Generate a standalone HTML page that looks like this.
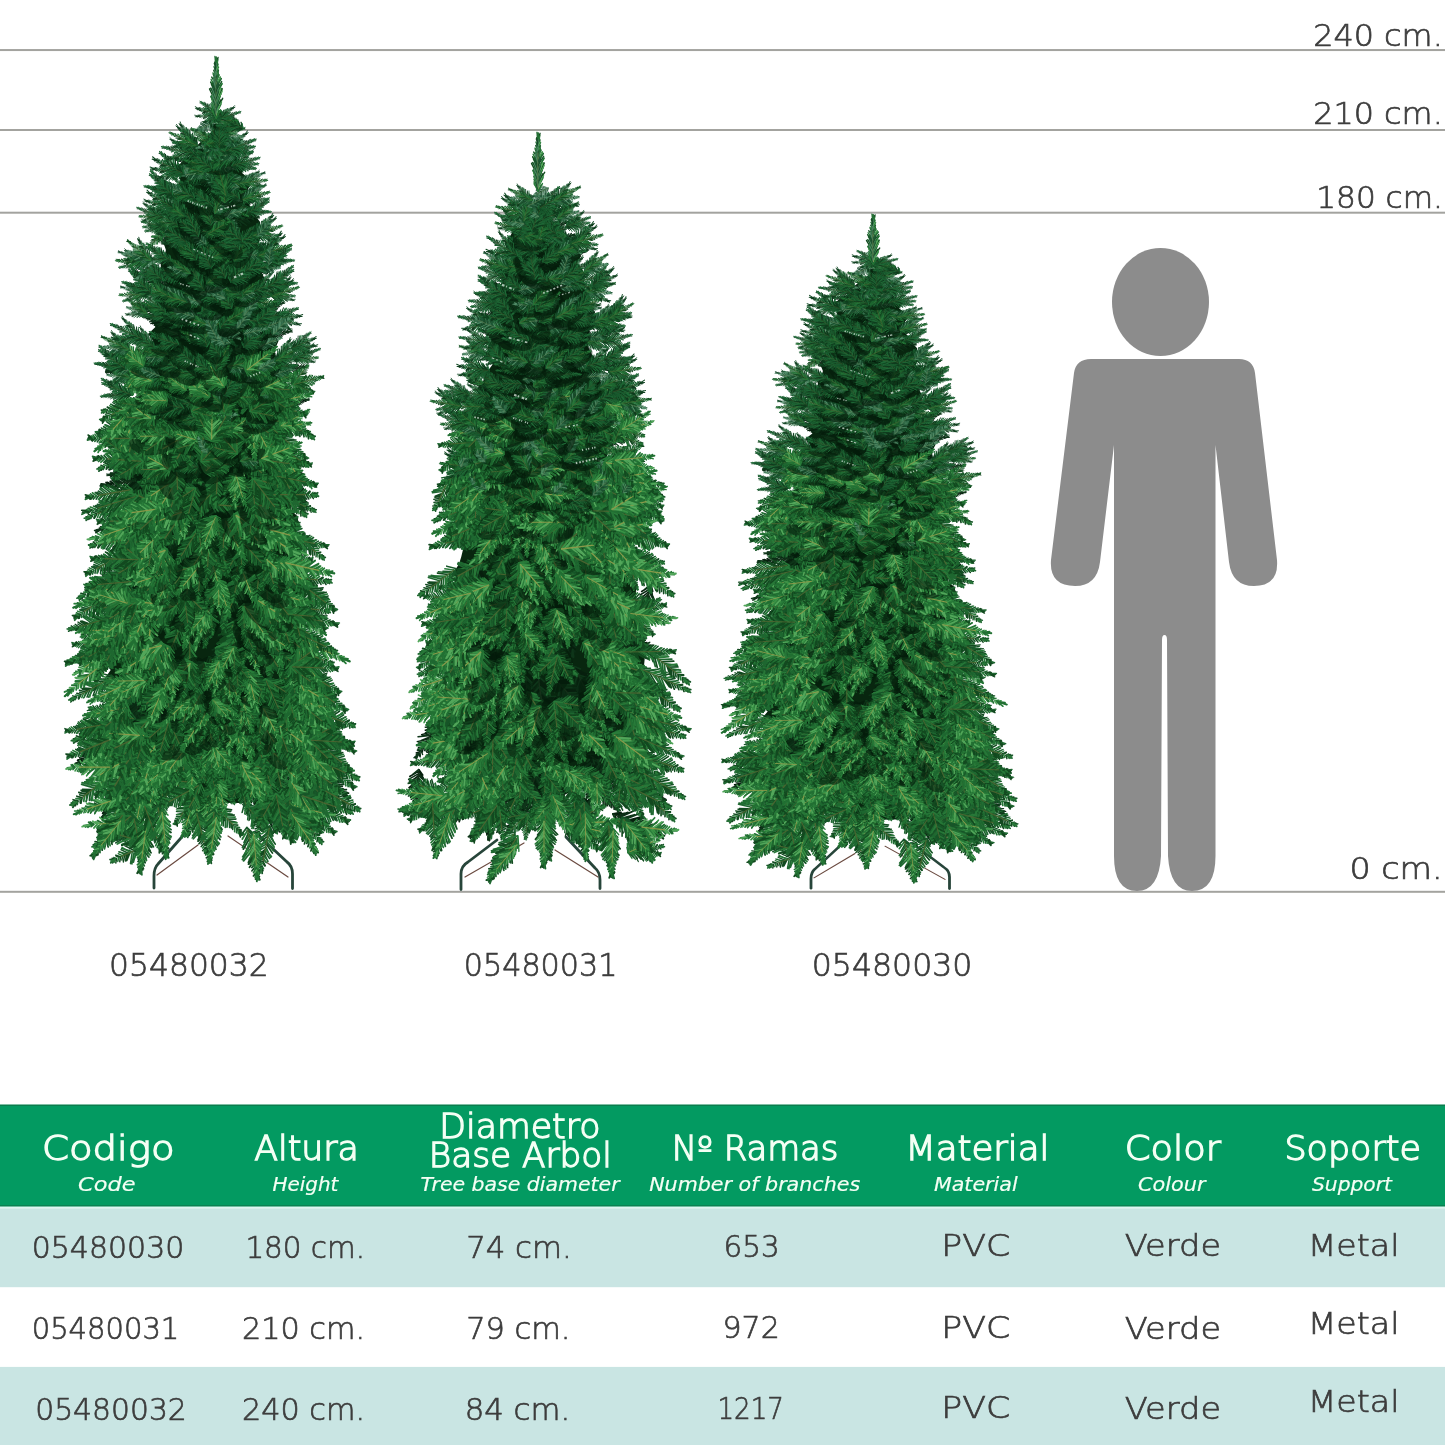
<!DOCTYPE html>
<html lang="es"><head><meta charset="utf-8"><title>Arbol de Navidad - medidas</title>
<style>html,body{margin:0;padding:0;background:#fff}body{width:1445px;height:1445px;overflow:hidden}svg{display:block}text{font-family:"DejaVu Sans","Liberation Sans",sans-serif;font-weight:200}.d{fill:#3d3d3d;stroke:#3d3d3d;stroke-width:.7px}.w{fill:#f4fff4;stroke:#f4fff4;stroke-width:1.3px}.i{font-style:italic;font-weight:400;stroke-width:.2px}</style></head><body>
<svg width="1445" height="1445" viewBox="0 0 1445 1445">
<rect width="1445" height="1445" fill="#fff"/>
<rect x="0" y="49.05" width="1445" height="2" fill="#a3a39f"/>
<rect x="0" y="129.00" width="1445" height="2" fill="#a3a39f"/>
<rect x="0" y="211.70" width="1445" height="2" fill="#a3a39f"/>
<rect x="0" y="890.80" width="1445" height="2" fill="#a3a39f"/>
<defs>
<g id="fD0" fill="none" stroke-width="1.25" stroke-linecap="round"><path stroke="#071f0e" d="M0.0 0l6.4 3.8M2.0 0l6.5 -3.9M2.0 0l6.2 3.8M3.7 0l7.2 -5.6M6.1 0l6.5 -5.5M10.2 0l6.8 4.1M14.1 0l8.4 -5.5M16.3 0l8.2 -5.8M30.8 0l2.4 2.1M32.6 0l2.3 -1.5M32.6 0l2.9 1.7M34.5 0l1.9 1.7"/><path stroke="#0b2c15" d="M6.1 0l8.6 5.1M12.2 0l7.9 -6.5M12.2 0l7.0 6.0M14.1 0l7.0 5.9M16.3 0l5.8 4.8M18.1 0l7.0 4.3M20.1 0l5.8 -4.3M20.1 0l5.3 3.2M24.4 0l5.0 3.6M26.2 0l3.2 -2.0M26.2 0l3.4 2.2M28.5 0l2.5 -2.0M28.5 0l3.2 2.7M30.8 0l2.6 -1.9M34.5 0l2.3 -1.3M35.0 0l5.0 1.2M35.0 0l5.4 -0.4"/><path stroke="#0e3519" d="M0.0 0l4.8 -3.4M3.7 0l5.8 6.2M8.1 0l7.3 -6.0M8.1 0l5.8 5.7M10.2 0l6.7 -4.4M18.1 0l5.2 -4.2M22.1 0l4.0 -3.6M22.1 0l5.3 3.8M24.4 0l4.2 -2.9M35.0 0l5.9 0.1M35.0 0l5.3 1.0"/><path stroke="#16301a" stroke-width="0.8" d="M2 0H29"/></g>
<g id="fD1" fill="none" stroke-width="1.25" stroke-linecap="round"><path stroke="#071f0e" d="M0.0 0l4.9 -2.9M1.7 0l5.6 -3.2M1.7 0l5.3 5.7M5.8 0l6.4 5.1M9.6 0l8.0 5.7M11.7 0l7.3 -5.1M14.0 0l6.6 -4.8M20.7 0l5.1 -3.8M24.5 0l3.8 3.6M26.6 0l3.3 2.5M28.8 0l2.6 -1.7M32.4 0l2.9 1.8M34.4 0l2.1 -2.2"/><path stroke="#0b2c15" d="M4.0 0l5.4 -4.7M4.0 0l5.8 6.3M5.8 0l7.3 -7.3M16.3 0l6.1 3.6M18.3 0l6.9 -4.5M18.3 0l7.2 5.7M20.7 0l5.2 4.1M22.8 0l4.7 -4.9M35.0 0l4.8 0.3"/><path stroke="#0e3519" d="M0.0 0l4.6 3.5M7.6 0l6.7 -4.9M7.6 0l6.4 4.1M9.6 0l7.9 -7.2M11.7 0l6.8 5.0M14.0 0l7.2 7.1M16.3 0l7.1 -4.7M22.8 0l3.9 4.1M24.5 0l4.5 -4.0M26.6 0l2.7 -2.4M28.8 0l2.7 2.3M30.6 0l2.8 -2.8M30.6 0l2.0 2.2M32.4 0l3.1 -1.8M34.4 0l2.1 1.3M35.0 0l4.0 1.1M35.0 0l5.3 -0.6M35.0 0l5.4 1.3"/><path stroke="#16301a" stroke-width="0.8" d="M2 0H29"/></g>
<g id="fM0" fill="none" stroke-width="1.25" stroke-linecap="round"><path stroke="#175528" d="M0.0 0l5.0 -3.1M0.0 0l5.1 5.3M2.2 0l5.6 -3.6M4.5 0l5.9 3.9M6.5 0l7.5 -6.3M21.5 0l5.0 -4.2M27.4 0l2.4 2.3M31.4 0l1.9 -1.9M35.0 0l4.9 -1.2M35.0 0l3.8 1.5"/><path stroke="#1e6730" d="M4.5 0l7.3 -4.5M6.5 0l7.3 5.7M13.0 0l6.7 -6.0M13.0 0l7.6 6.8M15.4 0l7.2 7.4M17.6 0l7.9 -4.9M17.6 0l6.1 6.8M23.5 0l5.7 -3.5M25.4 0l2.9 -3.1M33.8 0l2.0 -1.4M35.0 0l5.6 1.0"/><path stroke="#12491f" d="M8.7 0l6.5 5.3M15.4 0l6.3 -5.6M19.8 0l5.7 3.8M21.5 0l5.3 4.0M23.5 0l3.3 3.6M25.4 0l3.8 3.8M29.7 0l3.3 -2.2M29.7 0l2.5 2.7M33.8 0l2.3 2.4M35.5 0l2.0 -1.3"/><path stroke="#277838" d="M2.2 0l5.5 4.6M8.7 0l7.4 -5.8M11.1 0l5.8 -6.0M11.1 0l6.8 4.4M19.8 0l4.8 -5.3M27.4 0l3.0 -2.5M31.4 0l2.4 1.9M35.5 0l1.8 1.5M35.0 0l4.7 0.1"/><path stroke="#4a6430" stroke-width="0.8" d="M2 0H29"/></g>
<g id="fM1" fill="none" stroke-width="1.25" stroke-linecap="round"><path stroke="#175528" d="M12.3 0l7.3 -4.8M14.2 0l5.6 -5.4M18.1 0l6.1 5.7M22.7 0l4.5 -4.3M24.5 0l4.7 -2.8M24.5 0l4.1 3.1M26.6 0l3.4 2.4M28.9 0l2.8 -2.3M28.9 0l2.6 2.5M35.0 0l5.4 -0.1"/><path stroke="#1e6730" d="M2.4 0l5.6 -4.0M2.4 0l6.9 5.1M4.4 0l5.7 -4.2M8.5 0l5.7 -5.2M12.3 0l7.3 5.8M15.9 0l6.4 -4.6M20.4 0l5.8 5.4M22.7 0l4.4 4.4M31.1 0l3.0 -2.0M33.4 0l2.2 2.1M35.0 0l5.9 -1.1"/><path stroke="#12491f" d="M4.4 0l7.5 4.4M6.4 0l6.6 6.7M8.5 0l7.6 4.9M10.4 0l8.9 -6.5M10.4 0l9.0 6.2M18.1 0l5.8 -5.4M33.4 0l2.9 -1.7M35.2 0l2.0 -1.3M35.0 0l4.8 0.7M35.0 0l5.2 2.1"/><path stroke="#277838" d="M0.0 0l6.3 -4.0M0.0 0l5.1 4.5M6.4 0l8.1 -4.8M14.2 0l7.9 5.0M15.9 0l7.0 6.2M20.4 0l5.2 -4.9M26.6 0l3.4 -3.0M31.1 0l2.8 2.6M35.2 0l1.7 1.5"/><path stroke="#4a6430" stroke-width="0.8" d="M2 0H29"/></g>
<g id="fL0" fill="none" stroke-width="1.25" stroke-linecap="round"><path stroke="#297c3a" d="M0.0 0l5.2 -5.7M8.8 0l8.5 6.1M12.6 0l7.6 -4.6M19.2 0l5.3 -5.6M25.2 0l4.4 2.8M31.0 0l2.1 -2.1M33.2 0l2.2 -1.5M35.0 0l6.9 -0.3M35.0 0l5.1 1.9"/><path stroke="#399346" d="M2.4 0l7.1 -5.3M4.8 0l6.3 6.5M6.8 0l6.0 -6.2M10.7 0l7.3 -5.3M21.4 0l6.6 4.0M27.0 0l2.8 -2.9M29.0 0l2.5 -2.1M29.0 0l2.5 1.8M35.0 0l2.1 -1.7"/><path stroke="#52a65a" d="M2.4 0l5.6 3.4M4.8 0l8.0 -5.1M10.7 0l7.9 7.3M12.6 0l7.3 5.4M14.9 0l6.1 -4.3M14.9 0l5.8 5.2M23.2 0l4.3 -3.3M23.2 0l5.0 4.7M33.2 0l2.4 1.9"/><path stroke="#216f32" d="M0.0 0l4.6 3.3M6.8 0l7.8 4.5M8.8 0l6.6 -6.2M16.9 0l7.5 -5.4M16.9 0l6.5 6.7M19.2 0l7.0 4.2M21.4 0l6.4 -4.1M25.2 0l4.1 -2.8M27.0 0l3.0 2.4M31.0 0l2.3 2.2M35.0 0l2.6 1.6M35.0 0l5.1 -1.5M35.0 0l6.8 -0.6"/><path stroke="#8a9a4a" stroke-width="0.8" d="M2 0H29"/></g>
<g id="fL1" fill="none" stroke-width="1.25" stroke-linecap="round"><path stroke="#297c3a" d="M0.0 0l4.1 -4.5M0.0 0l4.9 3.3M2.4 0l7.2 4.4M6.8 0l6.5 4.9M10.6 0l6.4 5.9M12.4 0l6.8 -7.0M14.3 0l7.0 5.2M20.7 0l6.2 -5.0M24.5 0l3.6 -3.3M28.6 0l2.4 -2.6M34.7 0l2.5 -1.8M35.0 0l3.9 -1.5M35.0 0l5.0 -0.5"/><path stroke="#399346" d="M6.8 0l6.4 -4.0M16.5 0l6.2 -5.8M16.5 0l5.9 4.8M18.4 0l7.0 4.4M30.6 0l2.4 -2.5"/><path stroke="#52a65a" d="M4.6 0l8.0 -5.5M8.5 0l7.4 -5.3M12.4 0l8.1 5.6M18.4 0l7.2 -4.8M24.5 0l4.1 4.5M28.6 0l2.9 1.7M30.6 0l3.0 2.2M35.0 0l6.1 -1.2M35.0 0l6.0 -1.1"/><path stroke="#216f32" d="M2.4 0l5.9 -5.5M4.6 0l6.0 6.5M8.5 0l7.9 7.0M10.6 0l6.0 -5.0M14.3 0l7.3 -4.3M20.7 0l4.2 4.5M22.5 0l5.5 -3.3M22.5 0l4.5 2.7M26.3 0l3.3 -3.0M26.3 0l4.0 2.4M32.9 0l2.0 -1.5M32.9 0l2.5 1.7M34.7 0l1.8 1.6"/><path stroke="#8a9a4a" stroke-width="0.8" d="M2 0H29"/></g>
<g id="fB0" fill="none" stroke-width="1.25" stroke-linecap="round"><path stroke="#1f5536" d="M0.0 0l4.3 -4.5M6.5 0l6.9 -4.9M8.4 0l7.5 4.9M10.7 0l6.6 -4.6M12.6 0l7.6 7.2M21.0 0l5.6 5.6M25.3 0l4.4 -3.1M35.0 0l5.2 -0.4M35.0 0l4.5 -0.2M35.0 0l4.5 -0.1"/><path stroke="#356f4d" d="M2.2 0l5.8 6.1M4.6 0l6.6 6.5M6.5 0l6.6 5.4M12.6 0l7.7 -4.9M14.8 0l7.8 5.8M18.6 0l5.9 -4.0M21.0 0l5.8 -3.6M23.3 0l4.0 -2.7M23.3 0l3.8 4.1M27.1 0l2.8 -2.1M27.1 0l2.2 2.5M29.4 0l2.8 1.8M31.1 0l2.7 1.7"/><path stroke="#528c68" d="M2.2 0l6.6 -5.2M4.6 0l7.8 -5.1M8.4 0l6.6 -4.0M14.8 0l6.7 -4.8M16.8 0l6.4 -4.2M16.8 0l6.0 6.2M25.3 0l4.3 2.7M29.4 0l2.4 -2.4M33.3 0l2.2 -1.4M33.3 0l2.2 1.6M35.3 0l2.4 -1.4M35.3 0l1.7 1.3M35.0 0l5.1 1.3"/><path stroke="#17492b" d="M0.0 0l5.2 3.1M10.7 0l8.7 6.7M18.6 0l5.0 4.5M31.1 0l2.5 -2.0"/><path stroke="#587a4e" stroke-width="0.8" d="M2 0H29"/></g>
<g id="fB1" fill="none" stroke-width="1.25" stroke-linecap="round"><path stroke="#1f5536" d="M2.2 0l6.8 5.6M4.2 0l7.6 5.4M12.2 0l7.8 -6.6M20.1 0l6.0 -3.8M20.1 0l5.2 5.1M21.8 0l4.7 4.5M24.0 0l4.0 2.3M33.7 0l2.7 -1.7M35.0 0l5.6 -0.2"/><path stroke="#356f4d" d="M2.2 0l6.0 -3.9M4.2 0l6.6 -6.3M6.6 0l8.2 5.0M8.7 0l6.8 -6.9M8.7 0l5.8 5.8M10.4 0l7.2 4.5M14.3 0l6.3 5.6M24.0 0l4.0 -4.2M25.9 0l3.1 -3.4M25.9 0l3.7 3.3M27.6 0l3.3 -2.5M29.4 0l3.2 -2.6M29.4 0l2.8 2.4M31.4 0l2.5 -1.5"/><path stroke="#528c68" d="M0.0 0l6.0 3.7M10.4 0l5.6 -6.0M14.3 0l7.3 -6.1M21.8 0l6.3 -4.0M31.4 0l2.2 2.0M33.7 0l1.7 1.7M35.0 0l5.3 2.1"/><path stroke="#17492b" d="M0.0 0l5.0 -3.0M6.6 0l5.9 -4.7M12.2 0l6.5 5.8M16.3 0l6.3 -5.6M16.3 0l5.9 3.9M18.3 0l6.5 -5.1M18.3 0l6.2 6.2M27.6 0l3.2 2.3M35.0 0l5.5 -1.1M35.0 0l5.0 0.9"/><path stroke="#587a4e" stroke-width="0.8" d="M2 0H29"/></g>
<g id="fU0" fill="none" stroke-width="1.25" stroke-linecap="round"><path stroke="#124824" d="M0.0 0l6.1 4.0M13.4 0l5.3 -5.6M13.4 0l6.6 5.0M22.1 0l4.9 -3.1M26.2 0l3.5 -3.7M30.4 0l2.7 2.1M32.7 0l2.1 2.0M34.8 0l1.9 -1.2M35.0 0l5.8 0.9M35.0 0l6.7 -1.6"/><path stroke="#195a2e" d="M0.0 0l4.6 -3.3M1.9 0l5.9 5.6M3.7 0l4.9 5.1M5.8 0l7.2 5.1M7.8 0l6.8 6.0M15.7 0l7.7 -4.8M20.2 0l6.5 4.0M28.5 0l2.3 -2.3M35.0 0l4.0 0.6"/><path stroke="#0e3a1c" d="M1.9 0l5.4 -4.4M3.7 0l6.0 -5.2M5.8 0l6.3 -3.8M7.8 0l6.5 -4.6M9.5 0l8.3 5.2M11.5 0l6.3 -4.4M18.0 0l6.3 -4.1M22.1 0l6.2 3.9M24.3 0l4.6 4.2M26.2 0l2.6 2.7M32.7 0l2.6 -2.0M34.8 0l2.6 1.6M35.0 0l4.1 0.8"/><path stroke="#1f6a37" d="M9.5 0l7.2 -7.0M11.5 0l7.3 6.3M15.7 0l6.6 4.2M18.0 0l7.1 6.2M20.2 0l7.0 -4.1M24.3 0l4.5 -3.1M28.5 0l2.5 2.4M30.4 0l3.2 -2.2"/><path stroke="#36522a" stroke-width="0.8" d="M2 0H29"/></g>
<g id="fU1" fill="none" stroke-width="1.25" stroke-linecap="round"><path stroke="#124824" d="M0.0 0l5.1 3.2M1.7 0l5.8 -6.2M7.8 0l7.9 4.7M11.5 0l7.2 -4.2M15.6 0l8.5 5.5M17.7 0l5.6 -6.2M24.3 0l4.7 -3.0M34.6 0l1.9 1.5M35.0 0l5.2 1.6"/><path stroke="#195a2e" d="M3.8 0l7.6 -4.8M9.7 0l7.0 -6.4M13.7 0l6.2 6.7M20.0 0l4.2 4.3M21.9 0l5.2 -4.0M21.9 0l5.9 4.4M24.3 0l4.1 3.0M28.7 0l3.0 -1.9M28.7 0l2.6 2.1M30.9 0l2.6 1.7M32.8 0l2.4 -2.6M35.0 0l6.4 -0.5"/><path stroke="#0e3a1c" d="M1.7 0l5.5 5.5M3.8 0l6.3 4.4M5.5 0l6.6 -4.5M9.7 0l7.7 7.1M13.7 0l7.6 -7.5M26.6 0l3.4 -2.7M26.6 0l3.5 2.3M30.9 0l2.4 -2.6M34.6 0l2.1 -1.4"/><path stroke="#1f6a37" d="M0.0 0l5.1 -5.3M5.5 0l6.6 6.9M7.8 0l5.7 -5.0M11.5 0l8.1 4.7M15.6 0l7.8 -5.2M17.7 0l5.8 5.1M20.0 0l5.5 -5.7M32.8 0l1.8 1.9M35.0 0l5.9 0.0M35.0 0l4.5 -1.7"/><path stroke="#36522a" stroke-width="0.8" d="M2 0H29"/></g>
<g id="c0"><use href="#fM0" transform="translate(-34.2 0.0)rotate(40)scale(.77 1.08)"/><use href="#fM0" transform="translate(-34.2 0.0)rotate(-34)scale(.79 1.15)"/><use href="#fM1" transform="translate(-34.2 0.0)rotate(-1)scale(.97 1.09)"/></g><g id="s0"><ellipse cx="-20" cy="5" rx="21" ry="12" fill="#041a0a" opacity=".6"/><use href="#c0"/></g>
<g id="c1"><use href="#fM1" transform="translate(-34.2 0.0)rotate(-42)scale(.74 1.03)"/><use href="#fM1" transform="translate(-34.2 0.0)rotate(39)scale(.72 .96)"/><use href="#fM1" transform="translate(-34.2 0.0)rotate(16)scale(.85 1.21)"/><use href="#fL0" transform="translate(-34.2 0.0)rotate(-13)scale(.92 1.1)"/></g><g id="s1"><ellipse cx="-20" cy="5" rx="21" ry="12" fill="#041a0a" opacity=".6"/><use href="#c1"/></g>
<g id="c2"><use href="#fM1" transform="translate(-34.2 0.0)rotate(37)scale(.68 1.05)"/><use href="#fM0" transform="translate(-34.2 0.0)rotate(-35)scale(.76 1.17)"/><use href="#fM1" transform="translate(-34.2 0.0)rotate(3)scale(.95 1.11)"/></g><g id="s2"><ellipse cx="-20" cy="5" rx="21" ry="12" fill="#041a0a" opacity=".6"/><use href="#c2"/></g>
<g id="c3"><use href="#fM1" transform="translate(-34.2 0.0)rotate(36)scale(.71 .97)"/><use href="#fM0" transform="translate(-34.2 0.0)rotate(-28)scale(.75 .97)"/><use href="#fM1" transform="translate(-34.2 0.0)rotate(-17)scale(.82 1.08)"/><use href="#fL1" transform="translate(-34.2 0.0)rotate(11)scale(.89 1.04)"/><use href="#fL1" transform="translate(-34.2 0.0)rotate(3)scale(1.02)"/></g><g id="s3"><ellipse cx="-20" cy="5" rx="21" ry="12" fill="#041a0a" opacity=".6"/><use href="#c3"/></g>
<g id="c4"><use href="#fM0" transform="translate(-34.2 0.0)rotate(-35)scale(.76 1.02)"/><use href="#fM1" transform="translate(-34.2 0.0)rotate(30)scale(.74 1.14)"/><use href="#fM0" transform="translate(-34.2 0.0)rotate(17)scale(.83 1.04)"/><use href="#fL0" transform="translate(-34.2 0.0)rotate(-12)scale(.93 1.19)"/><use href="#fL1" transform="translate(-34.2 0.0)rotate(4)scale(.85 1.03)"/></g><g id="s4"><ellipse cx="-20" cy="5" rx="21" ry="12" fill="#041a0a" opacity=".6"/><use href="#c4"/></g>
<g id="c5"><use href="#fM0" transform="translate(-34.2 0.0)rotate(37)scale(.7 1.1)"/><use href="#fM1" transform="translate(-34.2 0.0)rotate(-31)scale(.8 1.06)"/><use href="#fL1" transform="translate(-34.2 0.0)rotate(10)scale(.96 1.2)"/><use href="#fL0" transform="translate(-34.2 0.0)rotate(-8)scale(.95 1.2)"/></g><g id="s5"><ellipse cx="-20" cy="5" rx="21" ry="12" fill="#041a0a" opacity=".6"/><use href="#c5"/></g>
<g id="c6"><use href="#fM0" transform="translate(-34.2 0.0)rotate(-36)scale(.76 1.21)"/><use href="#fM0" transform="translate(-34.2 0.0)rotate(32)scale(.82 1.05)"/><use href="#fL0" transform="translate(-34.2 0.0)rotate(-2)scale(.84 1.11)"/></g><g id="s6"><ellipse cx="-20" cy="5" rx="21" ry="12" fill="#041a0a" opacity=".6"/><use href="#c6"/></g>
<g id="c7"><use href="#fM1" transform="translate(-34.2 0.0)rotate(30)scale(.85 1.12)"/><use href="#fM1" transform="translate(-34.2 0.0)rotate(-28)scale(.76 1.2)"/><use href="#fL0" transform="translate(-34.2 0.0)rotate(13)scale(.86 1.09)"/><use href="#fL0" transform="translate(-34.2 0.0)rotate(-10)scale(.92 1)"/></g><g id="s7"><ellipse cx="-20" cy="5" rx="21" ry="12" fill="#041a0a" opacity=".6"/><use href="#c7"/></g>
<g id="u0"><use href="#fU0" transform="translate(-34.2 0.0)rotate(31)scale(.74 .85)"/><use href="#fU0" transform="translate(-34.2 0.0)rotate(-27)scale(.72 .84)"/><use href="#fB0" transform="translate(-34.2 0.0)rotate(11)scale(.76 .95)"/><use href="#fM1" transform="translate(-34.2 0.0)rotate(-8)scale(.88 .76)"/></g><g id="v0"><ellipse cx="-20" cy="5" rx="21" ry="12" fill="#041a0a" opacity=".6"/><use href="#u0"/></g>
<g id="u1"><use href="#fU1" transform="translate(-34.2 0.0)rotate(21)scale(.87 .8)"/><use href="#fU0" transform="translate(-34.2 0.0)rotate(-17)scale(.8 .81)"/><use href="#fB1" transform="translate(-34.2 0.0)rotate(-9)scale(.96 .85)"/><use href="#fM0" transform="translate(-34.2 0.0)rotate(7)scale(.98 .91)"/></g><g id="v1"><ellipse cx="-20" cy="5" rx="21" ry="12" fill="#041a0a" opacity=".6"/><use href="#u1"/></g>
<g id="u2"><use href="#fU1" transform="translate(-34.2 0.0)rotate(-17)scale(.95 .85)"/><use href="#fU1" transform="translate(-34.2 0.0)rotate(14)scale(.86 .76)"/><use href="#fU1" transform="translate(-34.2 0.0)rotate(12)scale(.77 .76)"/><use href="#fU1" transform="translate(-34.2 0.0)rotate(-11)scale(.89 .91)"/></g><g id="v2"><ellipse cx="-20" cy="5" rx="21" ry="12" fill="#041a0a" opacity=".6"/><use href="#u2"/></g>
<g id="u3"><use href="#fU0" transform="translate(-34.2 0.0)rotate(-22)scale(.85 .86)"/><use href="#fU0" transform="translate(-34.2 0.0)rotate(21)scale(.73 .8)"/><use href="#fM0" transform="translate(-34.2 0.0)rotate(10)scale(.85 .84)"/><use href="#fU1" transform="translate(-34.2 0.0)rotate(-7)scale(.96 .81)"/></g><g id="v3"><ellipse cx="-20" cy="5" rx="21" ry="12" fill="#041a0a" opacity=".6"/><use href="#u3"/></g>
<g id="u4"><use href="#fU0" transform="translate(-34.2 0.0)rotate(27)scale(.69 .89)"/><use href="#fU1" transform="translate(-34.2 0.0)rotate(-24)scale(.87 .94)"/><use href="#fU0" transform="translate(-34.2 0.0)rotate(9)scale(.9 .86)"/><use href="#fU0" transform="translate(-34.2 0.0)rotate(-8)scale(.93 1)"/></g><g id="v4"><ellipse cx="-20" cy="5" rx="21" ry="12" fill="#041a0a" opacity=".6"/><use href="#u4"/></g>
<g id="u5"><use href="#fU0" transform="translate(-34.2 0.0)rotate(28)scale(.77 .75)"/><use href="#fU0" transform="translate(-34.2 0.0)rotate(-26)scale(.9 .96)"/><use href="#fU0" transform="translate(-34.2 0.0)rotate(-18)scale(.91 .78)"/><use href="#fU1" transform="translate(-34.2 0.0)rotate(18)scale(.78 .89)"/><use href="#fM0" transform="translate(-34.2 0.0)rotate(-0)scale(.98 .84)"/></g><g id="v5"><ellipse cx="-20" cy="5" rx="21" ry="12" fill="#041a0a" opacity=".6"/><use href="#u5"/></g>
<g id="u6"><use href="#fU0" transform="translate(-34.2 0.0)rotate(23)scale(.89 .98)"/><use href="#fU0" transform="translate(-34.2 0.0)rotate(-20)scale(.87 .75)"/><use href="#fU1" transform="translate(-34.2 0.0)rotate(-0)scale(1.02 .9)"/></g><g id="v6"><ellipse cx="-20" cy="5" rx="21" ry="12" fill="#041a0a" opacity=".6"/><use href="#u6"/></g>
<g id="u7"><use href="#fU1" transform="translate(-34.2 0.0)rotate(22)scale(.77 .99)"/><use href="#fU0" transform="translate(-34.2 0.0)rotate(-20)scale(.82 .79)"/><use href="#fU1" transform="translate(-34.2 0.0)rotate(11)scale(.84 .91)"/><use href="#fU1" transform="translate(-34.2 0.0)rotate(-1)scale(.91 .86)"/></g><g id="v7"><ellipse cx="-20" cy="5" rx="21" ry="12" fill="#041a0a" opacity=".6"/><use href="#u7"/></g>
</defs>
<g id="t1">
<g fill="none" stroke="#27453a" stroke-width="2.8" stroke-linecap="round" stroke-linejoin="round"><path d="M188 830L158 864Q154 868 154 876V888"/><path d="M255 832L287 862Q292.5 866 292.5 874V888.5"/><path stroke="#6a4a40" stroke-width="1.2" d="M198 845L157 875M228 836L288 877"/></g>
<path fill="#08260f" d="M212.6 124.0L212.5 131.0L204.9 138.0L197.6 145.0L195.6 152.0L184.9 159.0L177.9 166.0L178.6 173.0L180.2 180.0L176.8 187.0L172.2 194.0L174.1 201.0L170.1 208.0L167.5 215.0L169.5 222.0L168.2 229.0L166.0 236.0L163.6 243.0L165.9 250.0L164.2 257.0L160.7 264.0L161.2 271.0L165.8 278.0L166.6 285.0L165.2 292.0L155.4 299.0L160.9 306.0L160.0 313.0L151.3 320.0L155.4 327.0L148.1 334.0L153.2 341.0L144.6 348.0L142.5 355.0L147.0 362.0L146.1 369.0L144.2 376.0L144.7 383.0L145.6 390.0L146.4 397.0L152.5 404.0L147.1 411.0L146.4 418.0L149.9 425.0L126.3 432.0L123.7 439.0L124.7 446.0L121.8 453.0L122.7 460.0L126.6 467.0L129.0 474.0L132.4 481.0L127.9 488.0L123.4 495.0L127.8 502.0L121.5 509.0L124.9 516.0L120.1 523.0L125.0 530.0L120.8 537.0L117.2 544.0L118.2 551.0L117.6 558.0L119.6 565.0L115.5 572.0L113.9 579.0L117.1 586.0L116.9 593.0L118.9 600.0L111.3 607.0L114.2 614.0L111.0 621.0L113.2 628.0L110.5 635.0L114.4 642.0L111.1 649.0L105.7 656.0L104.8 663.0L110.7 670.0L105.8 677.0L110.0 684.0L109.2 691.0L107.8 698.0L113.4 705.0L113.2 712.0L113.4 719.0L109.6 726.0L113.7 733.0L108.9 740.0L111.3 747.0L108.3 754.0L120.0 761.0L132.7 768.0L156.4 775.0L170.2 782.0L185.8 789.0L187.9 796.0L185.3 803.0L252.1 803.0L253.3 796.0L255.9 789.0L268.1 782.0L285.5 775.0L296.6 768.0L308.9 761.0L316.1 754.0L319.1 747.0L322.3 740.0L323.9 733.0L320.3 726.0L320.1 719.0L316.3 712.0L315.8 705.0L312.3 698.0L315.6 691.0L313.1 684.0L312.0 677.0L314.2 670.0L313.4 663.0L305.8 656.0L308.8 649.0L307.9 642.0L308.4 635.0L300.9 628.0L301.4 621.0L297.5 614.0L299.3 607.0L299.6 600.0L300.9 593.0L305.4 586.0L299.9 579.0L303.3 572.0L299.4 565.0L303.2 558.0L301.8 551.0L302.9 544.0L294.6 537.0L297.3 530.0L298.7 523.0L297.3 516.0L289.9 509.0L294.1 502.0L288.3 495.0L293.5 488.0L290.0 481.0L289.3 474.0L289.9 467.0L289.1 460.0L284.4 453.0L285.8 446.0L284.7 439.0L289.9 432.0L276.0 425.0L274.2 418.0L279.2 411.0L279.6 404.0L276.4 397.0L278.7 390.0L280.5 383.0L281.2 376.0L278.9 369.0L276.8 362.0L275.0 355.0L275.5 348.0L278.5 341.0L274.0 334.0L271.6 327.0L270.6 320.0L264.9 313.0L261.6 306.0L258.4 299.0L265.8 292.0L264.5 285.0L264.4 278.0L260.9 271.0L261.3 264.0L264.3 257.0L265.7 250.0L258.9 243.0L260.9 236.0L259.6 229.0L260.1 222.0L254.9 215.0L251.0 208.0L247.5 201.0L245.5 194.0L249.1 187.0L250.7 180.0L242.1 173.0L246.3 166.0L238.8 159.0L239.5 152.0L233.7 145.0L229.8 138.0L225.2 131.0L224.0 124.0Z"/>
<use href="#fD1" transform="translate(248.6 807.3)rotate(32)scale(1.38 1.26)"/>
<use href="#fD1" transform="translate(150.6 835.2)rotate(184)scale(1.32 1.54)"/>
<use href="#fD0" transform="translate(200.2 786.3)rotate(107)scale(1.27 1.3)"/>
<use href="#fD1" transform="translate(145.0 780.1)rotate(82)scale(1.4 1.3)"/>
<use href="#fD1" transform="translate(166.6 780.2)rotate(114)scale(1.09 1.34)"/>
<use href="#fD0" transform="translate(122.7 775.1)rotate(115)scale(1.19 1.24)"/>
<use href="#fD1" transform="translate(262.4 779.4)rotate(44)scale(1.23 1.51)"/>
<use href="#fD0" transform="translate(265.8 778.7)rotate(38)scale(1.33 1.43)"/>
<use href="#fD0" transform="translate(247.6 769.9)rotate(69)scale(1.13 1.51)"/>
<use href="#fD0" transform="translate(147.1 781.7)rotate(140)scale(1.1 1.6)"/>
<use href="#fD0" transform="translate(316.4 762.6)rotate(108)scale(1.24 1.25)"/>
<use href="#fD0" transform="translate(258.2 758.1)rotate(92)scale(1.27 1.37)"/>
<use href="#fD0" transform="translate(289.1 801.3)rotate(4)scale(1.02 1.35)"/>
<use href="#fD1" transform="translate(268.1 763.4)rotate(54)scale(1.22 1.58)"/>
<use href="#fD0" transform="translate(139.3 771.5)rotate(139)scale(1.17 1.52)"/>
<use href="#fD0" transform="translate(151.9 761.0)rotate(53)scale(1.32 1.39)"/>
<use href="#fD1" transform="translate(313.3 757.9)rotate(60)scale(1.26 1.39)"/>
<use href="#fD1" transform="translate(313.5 762.6)rotate(45)scale(1.27 1.47)"/>
<use href="#fD1" transform="translate(157.0 758.3)rotate(121)scale(1.13 1.28)"/>
<use href="#fD0" transform="translate(307.3 755.5)rotate(55)scale(1.2 1.5)"/>
<use href="#fD0" transform="translate(297.6 743.9)rotate(98)scale(1.29 1.22)"/>
<use href="#fD0" transform="translate(281.8 747.1)rotate(92)scale(1.05 1.5)"/>
<use href="#fD1" transform="translate(246.7 743.9)rotate(120)scale(1.25 1.39)"/>
<use href="#fD0" transform="translate(208.4 742.7)rotate(80)scale(1.11 1.46)"/>
<use href="#fD1" transform="translate(128.5 736.7)rotate(117)scale(1.38 1.58)"/>
<use href="#fD0" transform="translate(221.8 738.2)rotate(61)scale(1.36 1.58)"/>
<use href="#fD1" transform="translate(171.5 762.8)rotate(159)scale(1.34 1.57)"/>
<use href="#fD0" transform="translate(192.0 746.8)rotate(60)scale(1.06 1.31)"/>
<use href="#fD1" transform="translate(265.7 745.1)rotate(39)scale(1.22 1.56)"/>
<use href="#fD0" transform="translate(286.9 747.4)rotate(34)scale(1.17 1.51)"/>
<use href="#fD0" transform="translate(305.9 736.5)rotate(46)scale(1.3 1.53)"/>
<use href="#fD0" transform="translate(125.4 732.6)rotate(112)scale(1.13 1.59)"/>
<use href="#fD0" transform="translate(294.8 729.4)rotate(42)scale(1.4 1.38)"/>
<use href="#fD1" transform="translate(191.2 719.8)rotate(101)scale(1.19 1.36)"/>
<use href="#fD0" transform="translate(107.4 737.2)rotate(138)scale(1.04 1.55)"/>
<use href="#fD1" transform="translate(232.2 737.7)rotate(15)scale(1.18 1.34)"/>
<use href="#fD0" transform="translate(264.6 698.4)rotate(83)scale(1.33 1.26)"/>
<use href="#fD0" transform="translate(153.8 710.3)rotate(142)scale(1.3 1.25)"/>
<use href="#fD1" transform="translate(175.3 702.1)rotate(110)scale(1 1.29)"/>
<use href="#fD0" transform="translate(142.6 681.4)rotate(101)scale(1.26 1.32)"/>
<use href="#fD1" transform="translate(312.3 682.7)rotate(75)scale(1.16 1.54)"/>
<use href="#fD1" transform="translate(306.2 680.2)rotate(52)scale(1.19 1.2)"/>
<use href="#fD1" transform="translate(174.4 676.7)rotate(99)scale(1.02 1.32)"/>
<use href="#fD0" transform="translate(186.2 667.5)rotate(72)scale(1.33 1.54)"/>
<use href="#fD0" transform="translate(263.5 668.3)rotate(83)scale(1.22 1.43)"/>
<use href="#fD0" transform="translate(246.5 675.1)rotate(66)scale(1.12 1.27)"/>
<use href="#fD1" transform="translate(138.6 667.3)rotate(109)scale(1.29 1.48)"/>
<use href="#fD0" transform="translate(168.2 685.8)rotate(138)scale(1.05 1.51)"/>
<use href="#fD1" transform="translate(192.5 670.4)rotate(119)scale(1 1.54)"/>
<use href="#fD0" transform="translate(283.7 681.2)rotate(15)scale(1.34 1.51)"/>
<use href="#fD1" transform="translate(277.1 655.2)rotate(49)scale(1.29 1.26)"/>
<use href="#fD0" transform="translate(288.3 656.0)rotate(51)scale(1.05 1.31)"/>
<use href="#fD1" transform="translate(238.1 648.4)rotate(98)scale(1.02 1.46)"/>
<use href="#fD1" transform="translate(256.3 638.4)rotate(109)scale(1.25 1.41)"/>
<use href="#fD0" transform="translate(278.2 644.2)rotate(68)scale(1.07 1.24)"/>
<use href="#fD1" transform="translate(230.7 628.0)rotate(109)scale(1.26 1.45)"/>
<use href="#fD1" transform="translate(167.6 649.7)rotate(161)scale(1.14 1.46)"/>
<use href="#fD1" transform="translate(288.3 631.6)rotate(47)scale(1.15 1.48)"/>
<use href="#fD0" transform="translate(132.2 624.2)rotate(122)scale(1.01 1.49)"/>
<use href="#fD0" transform="translate(225.4 603.6)rotate(83)scale(1.24 1.49)"/>
<use href="#fD1" transform="translate(138.1 615.8)rotate(141)scale(1.23 1.28)"/>
<use href="#fD0" transform="translate(161.5 595.8)rotate(114)scale(1.04 1.26)"/>
<use href="#fD1" transform="translate(289.9 590.0)rotate(77)scale(1.14 1.6)"/>
<use href="#fD1" transform="translate(189.9 577.1)rotate(91)scale(1.33 1.52)"/>
<use href="#fD1" transform="translate(168.1 581.6)rotate(74)scale(1.25 1.26)"/>
<use href="#fD1" transform="translate(271.3 583.4)rotate(97)scale(1.08 1.35)"/>
<use href="#fD1" transform="translate(152.5 585.6)rotate(137)scale(1.07 1.22)"/>
<use href="#fD1" transform="translate(187.3 576.7)rotate(56)scale(1.11 1.56)"/>
<use href="#fD1" transform="translate(252.6 567.6)rotate(110)scale(1.16 1.35)"/>
<use href="#fD0" transform="translate(259.2 547.3)rotate(116)scale(1.32 1.38)"/>
<use href="#fD1" transform="translate(205.1 565.8)rotate(145)scale(1.03 1.44)"/>
<use href="#fD0" transform="translate(284.8 547.0)rotate(65)scale(1.23 1.25)"/>
<use href="#fD1" transform="translate(213.0 544.2)rotate(115)scale(1.31 1.42)"/>
<use href="#fD0" transform="translate(203.8 548.0)rotate(132)scale(1.34 1.35)"/>
<use href="#fD1" transform="translate(232.8 541.9)rotate(80)scale(1.13 1.46)"/>
<use href="#fD1" transform="translate(156.4 585.3)rotate(189)scale(1.36 1.47)"/>
<use href="#fD0" transform="translate(197.3 540.5)rotate(104)scale(1.05 1.24)"/>
<use href="#fD0" transform="translate(172.3 550.8)rotate(147)scale(1.28 1.37)"/>
<use href="#fD0" transform="translate(150.0 556.7)rotate(164)scale(1.23 1.5)"/>
<use href="#fD0" transform="translate(196.9 531.4)rotate(116)scale(1.07 1.26)"/>
<use href="#fD0" transform="translate(156.4 526.5)rotate(118)scale(1.19 1.34)"/>
<use href="#fD1" transform="translate(196.4 524.0)rotate(145)scale(1.22 1.35)"/>
<use href="#fD1" transform="translate(145.2 517.1)rotate(134)scale(1.23 1.37)"/>
<use href="#fD0" transform="translate(224.2 501.7)rotate(94)scale(1.29 1.51)"/>
<use href="#fD1" transform="translate(153.0 494.2)rotate(74)scale(1.32 1.57)"/>
<use href="#fD0" transform="translate(218.0 500.6)rotate(91)scale(1.07 1.5)"/>
<use href="#fD0" transform="translate(183.4 494.3)rotate(83)scale(1.19 1.28)"/>
<use href="#fD1" transform="translate(161.0 524.1)rotate(161)scale(1.08 1.32)"/>
<use href="#fD0" transform="translate(197.6 493.7)rotate(88)scale(1.18 1.3)"/>
<use href="#fD1" transform="translate(261.9 494.1)rotate(55)scale(1.19 1.28)"/>
<use href="#fD1" transform="translate(144.4 507.1)rotate(153)scale(1.36 1.32)"/>
<use href="#fD1" transform="translate(242.5 481.0)rotate(77)scale(1.34 1.51)"/>
<use href="#fD1" transform="translate(162.2 497.6)rotate(125)scale(1.04 1.48)"/>
<use href="#fD1" transform="translate(189.8 462.9)rotate(86)scale(1.39 1.31)"/>
<use href="#fD0" transform="translate(153.8 475.8)rotate(128)scale(1.32 1.44)"/>
<use href="#fD1" transform="translate(285.4 464.5)rotate(68)scale(1.24 1.45)"/>
<use href="#fD1" transform="translate(240.3 465.9)rotate(96)scale(1.12 1.33)"/>
<use href="#fD1" transform="translate(282.3 462.2)rotate(61)scale(1.32 1.25)"/>
<use href="#fD1" transform="translate(229.3 476.3)rotate(143)scale(1.22 1.28)"/>
<use href="#fD0" transform="translate(189.7 475.3)rotate(151)scale(1.24 1.49)"/>
<use href="#fD1" transform="translate(213.0 446.7)rotate(94)scale(1.37 1.42)"/>
<use href="#fD0" transform="translate(218.1 452.4)rotate(90)scale(1.16 1.39)"/>
<use href="#fD1" transform="translate(189.0 447.9)rotate(85)scale(1.29 1.26)"/>
<use href="#fD1" transform="translate(180.3 446.8)rotate(79)scale(1.31 1.38)"/>
<use href="#fD0" transform="translate(257.5 460.6)rotate(46)scale(1.03 1.47)"/>
<use href="#fD1" transform="translate(152.4 443.8)rotate(116)scale(1.33 1.25)"/>
<use href="#fD0" transform="translate(155.4 478.2)rotate(172)scale(1.36 1.5)"/>
<use href="#fD0" transform="translate(253.0 452.6)rotate(39)scale(1.38 1.58)"/>
<use href="#fD1" transform="translate(184.2 436.8)rotate(100)scale(1.31 1.58)"/>
<use href="#fD0" transform="translate(223.4 488.2)rotate(-169)scale(.79 .9)"/>
<use href="#fD1" transform="translate(203.6 481.4)rotate(-180)scale(.76 .9)"/>
<use href="#fD1" transform="translate(199.4 440.4)rotate(96)scale(1.13 1.36)"/>
<use href="#fD0" transform="translate(183.8 485.4)rotate(-169)scale(.74 .9)"/>
<use href="#fD0" transform="translate(229.9 477.5)rotate(5)scale(.75 .9)"/>
<use href="#fD0" transform="translate(168.0 480.5)rotate(-179)scale(.94 .9)"/>
<use href="#fD1" transform="translate(208.7 480.3)rotate(-2)scale(.81 .9)"/>
<use href="#fD0" transform="translate(248.2 480.6)rotate(-3)scale(.79 .9)"/>
<use href="#fD1" transform="translate(268.2 475.2)rotate(5)scale(.77 .9)"/>
<use href="#fD1" transform="translate(272.4 441.1)rotate(51)scale(1.24 1.58)"/>
<use href="#fD1" transform="translate(139.9 431.4)rotate(96)scale(1.24)"/>
<use href="#fD1" transform="translate(144.2 474.5)rotate(-181)scale(.93 .9)"/>
<use href="#fD0" transform="translate(157.0 462.8)rotate(165)scale(1.19 1.56)"/>
<use href="#fD1" transform="translate(194.3 474.6)rotate(-175)scale(.9)"/>
<use href="#fD1" transform="translate(172.0 467.7)rotate(-183)scale(.91 .9)"/>
<use href="#fD0" transform="translate(218.2 472.3)rotate(-175)scale(.93 .9)"/>
<use href="#fD0" transform="translate(271.5 437.4)rotate(51)scale(1.14 1.41)"/>
<use href="#fD1" transform="translate(166.8 446.7)rotate(148)scale(1.18 1.31)"/>
<use href="#fD0" transform="translate(148.6 474.8)rotate(-169)scale(.93 .9)"/>
<use href="#fD1" transform="translate(156.7 457.8)rotate(167)scale(1.22 1.54)"/>
<use href="#fD0" transform="translate(196.6 427.8)rotate(110)scale(1.16 1.59)"/>
<use href="#fD0" transform="translate(218.4 466.2)rotate(-1)scale(.78 .9)"/>
<use href="#fD1" transform="translate(163.0 439.8)rotate(139)scale(1.06 1.58)"/>
<use href="#fD1" transform="translate(259.4 465.5)rotate(-2)scale(.75 .9)"/>
<use href="#fD1" transform="translate(187.2 428.7)rotate(126)scale(1.22 1.34)"/>
<use href="#fD1" transform="translate(235.8 429.2)rotate(131)scale(1.27 1.43)"/>
<use href="#fD0" transform="translate(237.4 466.9)rotate(-7)scale(.84 .9)"/>
<use href="#fD1" transform="translate(278.0 462.0)rotate(0)scale(.76 .9)"/>
<use href="#fD1" transform="translate(199.2 427.7)rotate(117)scale(1.04 1.6)"/>
<use href="#fD0" transform="translate(250.9 419.0)rotate(73)scale(1.19 1.25)"/>
<use href="#fD0" transform="translate(223.5 461.4)rotate(-167)scale(.85 .9)"/>
<use href="#fD1" transform="translate(171.0 422.5)rotate(127)scale(1.03 1.22)"/>
<use href="#fD1" transform="translate(202.4 457.3)rotate(-167)scale(.87 .9)"/>
<use href="#fD1" transform="translate(179.6 453.3)rotate(-173)scale(.73 .9)"/>
<use href="#fD0" transform="translate(182.1 421.7)rotate(130)scale(1.03 1.34)"/>
<use href="#fD1" transform="translate(206.1 418.1)rotate(40)scale(1.34 1.57)"/>
<use href="#fD0" transform="translate(218.0 453.7)rotate(-11)scale(.84 .9)"/>
<use href="#fD1" transform="translate(152.0 407.5)rotate(118)scale(1.24 1.45)"/>
<use href="#fD0" transform="translate(144.3 445.8)rotate(-181)scale(.89 .9)"/>
<use href="#fD1" transform="translate(161.6 449.0)rotate(-174)scale(.75 .9)"/>
<use href="#fD0" transform="translate(232.0 450.9)rotate(-171)scale(.93 .9)"/>
<use href="#fD1" transform="translate(239.1 447.3)rotate(-5)scale(.79 .9)"/>
<use href="#fD1" transform="translate(258.1 447.6)rotate(-7)scale(.86 .9)"/>
<use href="#fD1" transform="translate(201.0 405.4)rotate(108)scale(1.1 1.36)"/>
<use href="#fD0" transform="translate(207.8 449.9)rotate(-167)scale(.88 .9)"/>
<use href="#fD1" transform="translate(186.0 406.5)rotate(129)scale(1.17 1.58)"/>
<use href="#fD0" transform="translate(186.4 447.4)rotate(-165)scale(.94 .9)"/>
<use href="#fD0" transform="translate(162.1 443.9)rotate(-166)scale(.81 .9)"/>
<use href="#fD0" transform="translate(141.3 439.1)rotate(-167)scale(.74 .9)"/>
<use href="#fD0" transform="translate(208.2 433.2)rotate(-8)scale(.82 .9)"/>
<use href="#fD0" transform="translate(228.6 429.8)rotate(-176)scale(.8 .9)"/>
<use href="#fD0" transform="translate(230.5 434.9)rotate(-20)scale(.75 .9)"/>
<use href="#fD0" transform="translate(207.9 433.0)rotate(-164)scale(.8 .9)"/>
<use href="#fD1" transform="translate(220.0 391.2)rotate(119)scale(1.04 1.55)"/>
<use href="#fD0" transform="translate(189.8 424.5)rotate(-177)scale(.88 .9)"/>
<use href="#fD1" transform="translate(247.9 428.0)rotate(-15)scale(.79 .9)"/>
<use href="#fD1" transform="translate(219.9 427.1)rotate(-165)scale(.7 .9)"/>
<use href="#fD0" transform="translate(209.2 417.6)rotate(0)scale(1.35 1.59)"/>
<use href="#fD0" transform="translate(268.1 423.9)rotate(-15)scale(.73 .9)"/>
<use href="#fD0" transform="translate(167.2 424.9)rotate(-166)scale(.91 .9)"/>
<use href="#fD0" transform="translate(203.2 425.0)rotate(-163)scale(.77 .9)"/>
<use href="#fD1" transform="translate(143.8 425.0)rotate(-164)scale(.85 .9)"/>
<use href="#fD1" transform="translate(184.4 419.9)rotate(-164)scale(.78 .9)"/>
<use href="#fD0" transform="translate(212.2 415.2)rotate(-9)scale(.87 .9)"/>
<use href="#fD1" transform="translate(166.9 409.9)rotate(-173)scale(.85 .9)"/>
<use href="#fD1" transform="translate(234.1 411.2)rotate(-14)scale(.89 .9)"/>
<use href="#fD0" transform="translate(256.3 407.8)rotate(-8)scale(.82 .9)"/>
<use href="#fD1" transform="translate(144.9 406.1)rotate(-171)scale(.76 .9)"/>
<use href="#fD0" transform="translate(213.3 403.7)rotate(-5)scale(.83 .9)"/>
<use href="#fD0" transform="translate(277.5 406.4)rotate(-13)scale(.8 .9)"/>
<use href="#fD0" transform="translate(232.8 397.7)rotate(-5)scale(.93 .9)"/>
<use href="#fD0" transform="translate(231.7 400.1)rotate(-168)scale(.78 .9)"/>
<use href="#fD1" transform="translate(213.5 395.7)rotate(-176)scale(.85 .9)"/>
<use href="#fD1" transform="translate(258.5 398.0)rotate(-14)scale(.73 .9)"/>
<use href="#fD1" transform="translate(274.8 399.4)rotate(-17)scale(.93 .9)"/>
<use href="#fD0" transform="translate(192.1 391.3)rotate(-174)scale(.83 .9)"/>
<use href="#fD1" transform="translate(222.8 396.1)rotate(-162)scale(.82 .9)"/>
<use href="#fD0" transform="translate(171.2 386.2)rotate(-178)scale(.79 .9)"/>
<use href="#fD0" transform="translate(217.1 393.3)rotate(-23)scale(.75 .9)"/>
<use href="#fD1" transform="translate(202.3 390.1)rotate(-163)scale(.78 .9)"/>
<use href="#fD0" transform="translate(150.7 388.9)rotate(-165)scale(.81 .9)"/>
<use href="#fD0" transform="translate(223.5 386.6)rotate(-169)scale(.77 .9)"/>
<use href="#fD1" transform="translate(253.3 349.1)rotate(137)scale(1.29 1.58)"/>
<use href="#fD0" transform="translate(185.8 380.7)rotate(-174)scale(.92 .9)"/>
<use href="#fD1" transform="translate(233.6 389.5)rotate(-23)scale(.93 .9)"/>
<use href="#fD1" transform="translate(206.8 383.3)rotate(-168)scale(.91 .9)"/>
<use href="#fD0" transform="translate(162.1 377.3)rotate(-173)scale(.84 .9)"/>
<use href="#fD0" transform="translate(256.0 381.3)rotate(-19)scale(.86 .9)"/>
<use href="#fD0" transform="translate(150.2 363.5)rotate(169)scale(1.11 1.6)"/>
<use href="#fD1" transform="translate(185.5 376.0)rotate(-169)scale(.93 .9)"/>
<use href="#fD1" transform="translate(140.3 373.8)rotate(-167)scale(.77 .9)"/>
<use href="#fD1" transform="translate(276.3 372.0)rotate(-11)scale(.79 .9)"/>
<use href="#fD0" transform="translate(160.9 369.0)rotate(-165)scale(.76 .9)"/>
<use href="#fD1" transform="translate(142.6 363.1)rotate(-159)scale(.82 .9)"/>
<use href="#fD0" transform="translate(203.8 359.9)rotate(-21)scale(.76 .9)"/>
<use href="#fD1" transform="translate(221.3 354.5)rotate(-19)scale(.82 .9)"/>
<use href="#fD1" transform="translate(231.5 359.0)rotate(-153)scale(.9)"/>
<use href="#fD0" transform="translate(241.9 345.6)rotate(-17)scale(.72 .9)"/>
<use href="#fD1" transform="translate(211.3 344.3)rotate(-158)scale(.86 .9)"/>
<use href="#fD1" transform="translate(256.9 337.7)rotate(-11)scale(.89 .9)"/>
<use href="#fD1" transform="translate(204.0 342.3)rotate(-23)scale(.8 .9)"/>
<use href="#fD1" transform="translate(220.6 334.6)rotate(-163)scale(.75 .9)"/>
<use href="#fD0" transform="translate(190.0 340.7)rotate(-153)scale(.84 .9)"/>
<use href="#fD0" transform="translate(221.5 337.3)rotate(-21)scale(.94 .9)"/>
<use href="#fD1" transform="translate(196.9 331.4)rotate(-15)scale(.9)"/>
<use href="#fD1" transform="translate(244.9 328.9)rotate(-19)scale(.82 .9)"/>
<use href="#fD0" transform="translate(202.9 330.6)rotate(-155)scale(.92 .9)"/>
<use href="#fD0" transform="translate(220.2 326.0)rotate(-21)scale(.76 .9)"/>
<use href="#fD0" transform="translate(173.4 325.2)rotate(-163)scale(.91 .9)"/>
<use href="#fD1" transform="translate(179.8 326.1)rotate(-153)scale(.82 .9)"/>
<use href="#fD0" transform="translate(238.9 323.0)rotate(-27)scale(.81 .9)"/>
<use href="#fD1" transform="translate(161.6 312.2)rotate(-164)scale(.78 .9)"/>
<use href="#fD1" transform="translate(258.2 314.2)rotate(-25)scale(.71 .9)"/>
<use href="#fD1" transform="translate(203.4 302.0)rotate(-7)scale(.81 .9)"/>
<use href="#fD1" transform="translate(222.4 302.5)rotate(-13)scale(.93 .9)"/>
<use href="#fD0" transform="translate(246.7 301.5)rotate(-20)scale(.87 .9)"/>
<use href="#fD0" transform="translate(229.1 303.0)rotate(-157)scale(.88 .9)"/>
<use href="#fD1" transform="translate(207.5 297.2)rotate(-155)scale(.88 .9)"/>
<use href="#fD0" transform="translate(212.6 291.5)rotate(-27)scale(.86 .9)"/>
<use href="#fD1" transform="translate(187.9 283.2)rotate(-167)scale(.84 .9)"/>
<use href="#fD0" transform="translate(208.1 281.0)rotate(-12)scale(.84 .9)"/>
<use href="#fD1" transform="translate(166.5 286.2)rotate(-155)scale(.93 .9)"/>
<use href="#fD0" transform="translate(232.1 278.1)rotate(-18)scale(.74 .9)"/>
<use href="#fD1" transform="translate(228.1 273.5)rotate(-8)scale(.85 .9)"/>
<use href="#fD0" transform="translate(251.0 273.1)rotate(-16)scale(.75 .9)"/>
<use href="#fD1" transform="translate(249.5 273.7)rotate(-25)scale(.81 .9)"/>
<use href="#fD0" transform="translate(222.3 267.6)rotate(-152)scale(.9)"/>
<use href="#fD1" transform="translate(201.3 258.8)rotate(-154)scale(.85 .9)"/>
<use href="#fD0" transform="translate(237.8 246.8)rotate(-169)scale(.83 .9)"/>
<use href="#fD1" transform="translate(182.3 245.2)rotate(-165)scale(.72 .9)"/>
<use href="#fD0" transform="translate(218.1 241.4)rotate(-169)scale(.86 .9)"/>
<use href="#fD0" transform="translate(195.2 239.0)rotate(-161)scale(.77 .9)"/>
<use href="#fD0" transform="translate(232.6 231.8)rotate(-168)scale(.76 .9)"/>
<use href="#fD1" transform="translate(176.1 235.0)rotate(-160)scale(.73 .9)"/>
<use href="#fD0" transform="translate(210.8 229.5)rotate(-10)scale(.77 .9)"/>
<use href="#fD1" transform="translate(229.9 221.9)rotate(-10)scale(.74 .9)"/>
<use href="#fD0" transform="translate(215.0 228.9)rotate(-159)scale(.95 .9)"/>
<use href="#fD1" transform="translate(192.3 224.2)rotate(-157)scale(.95 .9)"/>
<use href="#fD1" transform="translate(203.7 217.6)rotate(-19)scale(.86 .9)"/>
<use href="#fD1" transform="translate(225.1 215.4)rotate(-163)scale(.72 .9)"/>
<use href="#fD1" transform="translate(224.7 208.8)rotate(-15)scale(.8 .9)"/>
<use href="#fD0" transform="translate(209.5 208.8)rotate(-165)scale(.84 .9)"/>
<use href="#fD0" transform="translate(203.8 208.4)rotate(-21)scale(.72 .9)"/>
<use href="#fD1" transform="translate(190.3 199.1)rotate(-167)scale(.88 .9)"/>
<use href="#fD0" transform="translate(220.0 203.0)rotate(-23)scale(.88 .9)"/>
<use href="#fD0" transform="translate(227.8 175.2)rotate(-167)scale(.89 .9)"/>
<use href="#fD1" transform="translate(205.3 168.1)rotate(-162)scale(.83 .9)"/>
<use href="#fD1" transform="translate(237.8 163.5)rotate(-164)scale(.95 .9)"/>
<use href="#fD0" transform="translate(212.9 160.8)rotate(-154)scale(.89 .9)"/>
<use href="#fM0" transform="translate(211.0 800.4)rotate(124)scale(1.1 1.25)"/>
<use href="#fM0" transform="translate(244.5 803.3)rotate(49)scale(1.05 1.47)"/>
<use href="#fM1" transform="translate(208.6 798.5)rotate(47)scale(1.24 1.39)"/>
<use href="#fM0" transform="translate(206.2 793.5)rotate(79)scale(1.03 1.21)"/>
<use href="#fM0" transform="translate(259.0 786.3)rotate(81)scale(1.03 1.47)"/>
<use href="#fM0" transform="translate(266.3 768.1)rotate(77)scale(1.4 1.21)"/>
<use href="#fM1" transform="translate(226.0 776.4)rotate(125)scale(1.31 1.4)"/>
<use href="#fM0" transform="translate(297.0 765.5)rotate(37)scale(1.04 1.38)"/>
<use href="#fM0" transform="translate(111.2 737.5)rotate(98)scale(1.25 1.3)"/>
<use href="#fM0" transform="translate(199.4 734.3)rotate(111)scale(1.39 1.53)"/>
<use href="#fM0" transform="translate(210.6 744.7)rotate(62)scale(1.14 1.43)"/>
<use href="#fM0" transform="translate(207.5 738.1)rotate(63)scale(1.24 1.42)"/>
<use href="#fM1" transform="translate(288.3 774.8)rotate(2)scale(1.03 1.35)"/>
<use href="#fM1" transform="translate(250.9 732.4)rotate(75)scale(1.05 1.4)"/>
<use href="#fM1" transform="translate(226.6 756.7)rotate(16)scale(1.25 1.45)"/>
<use href="#fM0" transform="translate(139.1 723.2)rotate(117)scale(1.4 1.5)"/>
<use href="#fM1" transform="translate(246.1 745.9)rotate(35)scale(1.02 1.52)"/>
<use href="#fM1" transform="translate(207.1 717.7)rotate(54)scale(1.38 1.44)"/>
<use href="#fM0" transform="translate(223.4 716.6)rotate(76)scale(1.18 1.55)"/>
<use href="#fM1" transform="translate(192.2 709.3)rotate(90)scale(1.24 1.45)"/>
<use href="#fM1" transform="translate(183.1 712.7)rotate(59)scale(1.12 1.37)"/>
<use href="#fM0" transform="translate(200.1 703.1)rotate(78)scale(1.22 1.34)"/>
<use href="#fM0" transform="translate(195.1 730.8)rotate(162)scale(1.34 1.59)"/>
<use href="#fM0" transform="translate(282.4 725.7)rotate(30)scale(1.03 1.47)"/>
<use href="#fM0" transform="translate(163.0 701.2)rotate(120)scale(1.37 1.38)"/>
<use href="#fM0" transform="translate(306.5 710.0)rotate(39)scale(1.4 1.38)"/>
<use href="#fM0" transform="translate(95.6 708.6)rotate(114)scale(1.01 1.26)"/>
<use href="#fM1" transform="translate(159.8 707.3)rotate(132)scale(1.26 1.38)"/>
<use href="#fM0" transform="translate(174.9 700.7)rotate(77)scale(1.12 1.21)"/>
<use href="#fM1" transform="translate(282.6 694.6)rotate(84)scale(1.16 1.36)"/>
<use href="#fM1" transform="translate(212.8 694.7)rotate(59)scale(1.31 1.32)"/>
<use href="#fM1" transform="translate(232.8 687.1)rotate(91)scale(1.22 1.44)"/>
<use href="#fM1" transform="translate(189.2 689.0)rotate(79)scale(1.1 1.54)"/>
<use href="#fM1" transform="translate(205.7 689.2)rotate(64)scale(1.2 1.44)"/>
<use href="#fM1" transform="translate(266.4 682.9)rotate(99)scale(1.07 1.49)"/>
<use href="#fM0" transform="translate(135.6 718.7)rotate(185)scale(1.19 1.28)"/>
<use href="#fM0" transform="translate(290.5 680.9)rotate(47)scale(1.21 1.47)"/>
<use href="#fM1" transform="translate(213.0 669.8)rotate(73)scale(1.17 1.59)"/>
<use href="#fM0" transform="translate(129.9 710.7)rotate(183)scale(1.03 1.29)"/>
<use href="#fM1" transform="translate(148.5 671.6)rotate(123)scale(1.07 1.4)"/>
<use href="#fM1" transform="translate(279.3 674.8)rotate(30)scale(1.28 1.34)"/>
<use href="#fM0" transform="translate(208.9 656.8)rotate(61)scale(1.15 1.43)"/>
<use href="#fM1" transform="translate(189.8 638.2)rotate(90)scale(1.35 1.33)"/>
<use href="#fM1" transform="translate(280.4 652.1)rotate(42)scale(1.19 1.24)"/>
<use href="#fM1" transform="translate(100.7 634.0)rotate(95)scale(1.25 1.26)"/>
<use href="#fM1" transform="translate(179.6 662.0)rotate(161)scale(1.11 1.44)"/>
<use href="#fM1" transform="translate(275.1 631.7)rotate(97)scale(1.21 1.54)"/>
<use href="#fM1" transform="translate(259.6 639.4)rotate(56)scale(1.13 1.5)"/>
<use href="#fM0" transform="translate(131.5 636.2)rotate(132)scale(1.3 1.4)"/>
<use href="#fM1" transform="translate(233.9 621.4)rotate(107)scale(1.35 1.58)"/>
<use href="#fM1" transform="translate(241.9 624.5)rotate(122)scale(1.4 1.5)"/>
<use href="#fM0" transform="translate(156.4 639.2)rotate(138)scale(1.03 1.51)"/>
<use href="#fM1" transform="translate(285.3 636.0)rotate(38)scale(1.17 1.44)"/>
<use href="#fM0" transform="translate(185.1 615.4)rotate(113)scale(1.19 1.4)"/>
<use href="#fM1" transform="translate(245.2 612.6)rotate(110)scale(1.25 1.43)"/>
<use href="#fM1" transform="translate(144.5 652.1)rotate(185)scale(1.36 1.21)"/>
<use href="#fM1" transform="translate(277.4 601.4)rotate(73)scale(1.09 1.45)"/>
<use href="#fM0" transform="translate(173.4 617.5)rotate(154)scale(1.32 1.31)"/>
<use href="#fM1" transform="translate(150.8 607.5)rotate(143)scale(1.21 1.41)"/>
<use href="#fM1" transform="translate(124.9 622.8)rotate(168)scale(1.09 1.51)"/>
<use href="#fM1" transform="translate(221.0 591.9)rotate(85)scale(1.01 1.33)"/>
<use href="#fM0" transform="translate(263.1 595.9)rotate(51)scale(1.11 1.26)"/>
<use href="#fM1" transform="translate(191.0 582.0)rotate(90)scale(1.17 1.42)"/>
<use href="#fM0" transform="translate(229.4 586.9)rotate(114)scale(1.1 1.51)"/>
<use href="#fM0" transform="translate(242.6 578.3)rotate(113)scale(1.14 1.43)"/>
<use href="#fM1" transform="translate(213.2 577.8)rotate(95)scale(1.07 1.39)"/>
<use href="#fM1" transform="translate(149.3 615.2)rotate(189)scale(1.16 1.46)"/>
<use href="#fM0" transform="translate(295.4 562.4)rotate(103)scale(1.33 1.51)"/>
<use href="#fM1" transform="translate(153.5 582.5)rotate(133)scale(1.02 1.45)"/>
<use href="#fM0" transform="translate(203.7 575.7)rotate(139)scale(1.2 1.52)"/>
<use href="#fM1" transform="translate(271.2 564.5)rotate(68)scale(1.12 1.49)"/>
<use href="#fM1" transform="translate(118.1 581.4)rotate(148)scale(1.01 1.58)"/>
<use href="#fM1" transform="translate(184.3 557.0)rotate(101)scale(1.16 1.24)"/>
<use href="#fM0" transform="translate(280.7 571.6)rotate(31)scale(1.37 1.37)"/>
<use href="#fM0" transform="translate(133.2 590.1)rotate(181)scale(1.19 1.58)"/>
<use href="#fM0" transform="translate(207.2 550.6)rotate(44)scale(1.25 1.58)"/>
<use href="#fM1" transform="translate(154.6 545.9)rotate(104)scale(1.03 1.33)"/>
<use href="#fM1" transform="translate(223.5 540.5)rotate(110)scale(1.14 1.4)"/>
<use href="#fM0" transform="translate(211.1 553.3)rotate(27)scale(1.19 1.53)"/>
<use href="#fM0" transform="translate(162.4 530.5)rotate(132)scale(1.21 1.5)"/>
<use href="#fM1" transform="translate(244.7 535.8)rotate(42)scale(1.01 1.53)"/>
<use href="#fM0" transform="translate(195.1 506.5)rotate(104)scale(1.13 1.36)"/>
<use href="#fM1" transform="translate(170.4 532.8)rotate(160)scale(1.08 1.24)"/>
<use href="#fM1" transform="translate(163.7 504.6)rotate(122)scale(1.32 1.28)"/>
<use href="#fM0" transform="translate(118.7 507.7)rotate(111)scale(1.08 1.28)"/>
<use href="#fM1" transform="translate(236.2 514.9)rotate(43)scale(1.15 1.52)"/>
<use href="#fM1" transform="translate(246.1 506.3)rotate(67)scale(1.02 1.21)"/>
<use href="#fM1" transform="translate(271.1 517.3)rotate(32)scale(1.18 1.57)"/>
<use href="#fM1" transform="translate(150.4 517.6)rotate(151)scale(1.06 1.5)"/>
<use href="#fM1" transform="translate(196.9 487.6)rotate(96)scale(1.24 1.31)"/>
<use href="#fM0" transform="translate(217.5 478.2)rotate(117)scale(1.36 1.22)"/>
<use href="#fM1" transform="translate(216.2 488.6)rotate(135)scale(1.04 1.24)"/>
<use href="#fM0" transform="translate(267.3 487.8)rotate(35)scale(1.21 1.55)"/>
<use href="#fM0" transform="translate(257.7 486.1)rotate(42)scale(1.07 1.43)"/>
<use href="#fM0" transform="translate(211.3 504.5)rotate(4)scale(1.04 1.54)"/>
<use href="#fM1" transform="translate(231.4 458.3)rotate(87)scale(1.27 1.22)"/>
<use href="#fM0" transform="translate(218.4 456.5)rotate(93)scale(1.29 1.51)"/>
<use href="#fM0" transform="translate(238.5 433.5)rotate(70)scale(1.32 1.45)"/>
<use href="#fM0" transform="translate(167.0 449.3)rotate(149)scale(1.27 1.53)"/>
<use href="#fM1" transform="translate(252.5 435.7)rotate(43)scale(1.27 1.53)"/>
<use href="#fM1" transform="translate(149.8 424.8)rotate(87)scale(1.09 1.48)"/>
<use href="#fM0" transform="translate(216.5 415.9)rotate(66)scale(1.25 1.4)"/>
<use href="#fM1" transform="translate(268.8 425.4)rotate(41)scale(1.26)"/>
<use href="#fM1" transform="translate(181.8 371.7)rotate(66)scale(1.34 1.4)"/>
<use href="#fM0" transform="translate(201.1 370.9)rotate(119)scale(1.3 1.25)"/>
<use href="#fM0" transform="translate(217.2 379.6)rotate(133)scale(1.19 1.58)"/>
<use href="#c0" transform="translate(289.4 837.0)rotate(60)scale(1.41)"/>
<use href="#c7" transform="translate(190.4 835.0)rotate(97)scale(1.17 -1.17)"/>
<use href="#c1" transform="translate(305.8 833.0)rotate(57)scale(1.38)"/>
<use href="#c0" transform="translate(283.5 833.0)rotate(79)scale(1.18)"/>
<use href="#c2" transform="translate(99.9 832.0)rotate(127)scale(1.31 -1.31)"/>
<use href="#c0" transform="translate(104.0 831.0)rotate(196)scale(1.38 -1.38)"/>
<use href="#c7" transform="translate(215.2 830.0)rotate(73)scale(.86)"/>
<use href="#c2" transform="translate(331.9 828.0)rotate(25)scale(1.29)"/>
<use href="#fL1" transform="translate(141.6 821.8)rotate(177)scale(1.45 1.46)"/>
<use href="#c3" transform="translate(134.6 822.0)rotate(104)scale(1.07 -1.07)"/>
<use href="#c2" transform="translate(344.7 817.0)rotate(18)scale(1.36)"/>
<use href="#c1" transform="translate(326.1 814.0)rotate(16)scale(1.13)"/>
<use href="#c0" transform="translate(163.5 814.0)rotate(100)scale(1.24 -1.24)"/>
<use href="#c4" transform="translate(217.9 813.0)rotate(90)scale(.99)"/>
<use href="#c4" transform="translate(334.6 813.0)rotate(11)scale(1.36)"/>
<use href="#c3" transform="translate(314.0 813.0)rotate(54)scale(1.2)"/>
<use href="#c0" transform="translate(132.5 812.0)rotate(103)scale(1.21 -1.21)"/>
<use href="#fL0" transform="translate(119.3 798.0)rotate(161)scale(1.16 1.23)"/>
<use href="#fM0" transform="translate(300.0 795.1)rotate(18)scale(1.39 1.55)"/>
<use href="#c2" transform="translate(248.7 810.0)rotate(74)scale(.92)"/>
<use href="#fM0" transform="translate(323.7 790.0)rotate(29)scale(1.04 1.49)"/>
<use href="#c5" transform="translate(141.9 807.0)rotate(117)scale(1.08 -1.08)"/>
<use href="#c7" transform="translate(253.9 805.0)rotate(96)scale(.95 -.95)"/>
<use href="#c2" transform="translate(160.4 804.0)rotate(154)scale(1.32 -1.32)"/>
<use href="#c3" transform="translate(121.0 803.0)rotate(124)scale(1.31 -1.31)"/>
<use href="#fM0" transform="translate(112.5 773.9)rotate(142)scale(1.3 1.59)"/>
<use href="#c4" transform="translate(109.8 801.0)rotate(142)scale(1.39 -1.39)"/>
<use href="#c4" transform="translate(260.7 795.0)rotate(59)scale(1.25)"/>
<use href="#c6" transform="translate(192.3 795.0)rotate(92)scale(1.07 -1.07)"/>
<use href="#c1" transform="translate(115.7 793.0)rotate(136)scale(1.21 -1.21)"/>
<use href="#c2" transform="translate(217.9 792.0)rotate(73)scale(.96)"/>
<use href="#c2" transform="translate(98.7 791.0)rotate(165)scale(1.32 -1.32)"/>
<use href="#c6" transform="translate(98.6 790.0)rotate(108)scale(1.29 -1.29)"/>
<use href="#c1" transform="translate(97.4 789.0)rotate(137)scale(1.42 -1.42)"/>
<use href="#c3" transform="translate(138.2 788.0)rotate(144)scale(1.08 -1.08)"/>
<use href="#c6" transform="translate(304.8 788.0)rotate(45)scale(1.25)"/>
<use href="#fM1" transform="translate(310.3 756.2)rotate(35)scale(1.36 1.48)"/>
<use href="#c5" transform="translate(136.0 783.0)rotate(118)scale(1.3 -1.3)"/>
<use href="#c7" transform="translate(337.1 781.0)rotate(16)scale(1.23)"/>
<use href="#c3" transform="translate(171.0 781.0)rotate(110)scale(1.16 -1.16)"/>
<use href="#c1" transform="translate(346.8 780.0)rotate(19)scale(1.24)"/>
<use href="#c3" transform="translate(307.2 780.0)rotate(63)scale(1.11)"/>
<use href="#c2" transform="translate(242.4 778.0)rotate(41)scale(1.25)"/>
<use href="#c7" transform="translate(148.1 778.0)rotate(144)scale(1.3 -1.3)"/>
<use href="#c2" transform="translate(211.6 777.0)rotate(91)scale(.84 -.84)"/>
<use href="#c7" transform="translate(323.0 777.0)rotate(59)scale(1.28)"/>
<use href="#fM0" transform="translate(307.9 756.0)rotate(24)scale(1.4 1.59)"/>
<use href="#c4" transform="translate(161.1 776.0)rotate(131)scale(1.21 -1.21)"/>
<use href="#c7" transform="translate(208.7 774.0)rotate(95)scale(.94 -.94)"/>
<use href="#c3" transform="translate(331.4 773.0)rotate(42)scale(1.13)"/>
<use href="#c7" transform="translate(228.2 772.0)rotate(59)scale(.96)"/>
<use href="#c1" transform="translate(277.8 769.0)rotate(55)scale(1.18)"/>
<use href="#fL1" transform="translate(112.0 767.2)rotate(180)scale(1.12 1.48)"/>
<use href="#fM1" transform="translate(318.8 743.9)rotate(39)scale(1.01 1.53)"/>
<use href="#c1" transform="translate(108.2 766.0)rotate(140)scale(1.44 -1.44)"/>
<use href="#s0" transform="translate(289.8 766.0)rotate(69)scale(1.17)"/>
<use href="#c2" transform="translate(113.3 760.0)rotate(144)scale(1.11 -1.11)"/>
<use href="#s6" transform="translate(251.2 759.0)rotate(76)scale(.88)"/>
<use href="#s6" transform="translate(170.8 758.0)rotate(106)scale(.91 -.91)"/>
<use href="#s0" transform="translate(158.9 758.0)rotate(105)scale(1.12 -1.12)"/>
<use href="#s7" transform="translate(259.3 757.0)rotate(55)scale(1.17)"/>
<use href="#c3" transform="translate(88.9 755.0)rotate(136)scale(1.26 -1.26)"/>
<use href="#fM1" transform="translate(113.4 738.4)rotate(158)scale(1.24 1.52)"/>
<use href="#s4" transform="translate(246.4 754.0)rotate(81)scale(.89)"/>
<use href="#s1" transform="translate(270.8 752.0)rotate(71)scale(1.05)"/>
<use href="#s5" transform="translate(235.1 750.0)rotate(89)scale(1.06)"/>
<use href="#s6" transform="translate(183.1 750.0)rotate(121)scale(1.16 -1.16)"/>
<use href="#c6" transform="translate(310.5 750.0)rotate(38)scale(1.22)"/>
<use href="#fM1" transform="translate(318.8 731.5)rotate(29)scale(1.04 1.21)"/>
<use href="#s6" transform="translate(213.1 749.0)rotate(78)scale(.87)"/>
<use href="#c0" transform="translate(344.2 747.0)rotate(28)scale(1.1)"/>
<use href="#s0" transform="translate(219.9 746.0)rotate(83)scale(.88)"/>
<use href="#fM1" transform="translate(304.9 719.4)rotate(30)scale(1.37 1.33)"/>
<use href="#c0" transform="translate(348.6 743.0)rotate(4)scale(1.16)"/>
<use href="#c1" transform="translate(100.7 742.0)rotate(171)scale(1.21 -1.21)"/>
<use href="#s6" transform="translate(278.7 741.0)rotate(65)scale(1.1)"/>
<use href="#s4" transform="translate(232.3 739.0)rotate(68)scale(.88)"/>
<use href="#fM0" transform="translate(126.0 715.6)rotate(154)scale(1.48 1.4)"/>
<use href="#c5" transform="translate(312.6 736.0)rotate(47)scale(1.2)"/>
<use href="#s4" transform="translate(241.9 734.0)rotate(95)scale(1.1 -1.1)"/>
<use href="#s4" transform="translate(194.1 732.0)rotate(118)scale(1.02 -1.02)"/>
<use href="#s7" transform="translate(245.8 731.0)rotate(86)scale(.81)"/>
<use href="#s0" transform="translate(237.8 731.0)rotate(62)scale(.98)"/>
<use href="#fM1" transform="translate(106.1 724.2)rotate(170)scale(1.03 1.31)"/>
<use href="#s1" transform="translate(170.4 728.0)rotate(124)scale(1.09 -1.09)"/>
<use href="#c1" transform="translate(321.3 727.0)rotate(53)scale(1.34)"/>
<use href="#fM0" transform="translate(315.0 712.0)rotate(19)scale(1.06 1.57)"/>
<use href="#c1" transform="translate(90.8 724.0)rotate(156)scale(1.2 -1.2)"/>
<use href="#s5" transform="translate(226.0 723.0)rotate(69)scale(.95)"/>
<use href="#s1" transform="translate(213.4 721.0)rotate(127)scale(.91 -.91)"/>
<use href="#c5" transform="translate(324.8 719.0)rotate(32)scale(1.33)"/>
<use href="#s4" transform="translate(185.4 719.0)rotate(121)scale(.88 -.88)"/>
<use href="#s4" transform="translate(231.8 719.0)rotate(45)scale(.8)"/>
<use href="#s3" transform="translate(147.9 719.0)rotate(116)scale(1.13 -1.13)"/>
<use href="#c6" transform="translate(323.2 718.0)rotate(66)scale(1.11)"/>
<use href="#s0" transform="translate(280.6 715.0)rotate(67)scale(1.15)"/>
<use href="#c6" transform="translate(339.1 709.0)rotate(7)scale(1.11)"/>
<use href="#fM1" transform="translate(302.0 681.3)rotate(33)scale(1.33 1.51)"/>
<use href="#c7" transform="translate(95.9 707.0)rotate(144)scale(1.25 -1.25)"/>
<use href="#c5" transform="translate(321.9 705.0)rotate(39)scale(1.19)"/>
<use href="#s3" transform="translate(257.4 704.0)rotate(74)scale(1.05)"/>
<use href="#s4" transform="translate(232.9 703.0)rotate(81)scale(.92)"/>
<use href="#s2" transform="translate(190.6 701.0)rotate(110)scale(1.2 -1.2)"/>
<use href="#fM0" transform="translate(113.3 676.7)rotate(151)scale(1.24 1.21)"/>
<use href="#s1" transform="translate(171.3 696.0)rotate(121)scale(1.16 -1.16)"/>
<use href="#s5" transform="translate(166.9 696.0)rotate(101)scale(1.01 -1.01)"/>
<use href="#c7" transform="translate(316.7 696.0)rotate(53)scale(1.23)"/>
<use href="#s0" transform="translate(238.1 691.0)rotate(85)scale(.82)"/>
<use href="#fM1" transform="translate(304.8 672.1)rotate(30)scale(1.02 1.53)"/>
<use href="#fL0" transform="translate(111.5 656.2)rotate(140)scale(1.47)"/>
<use href="#s5" transform="translate(210.7 688.0)rotate(108)scale(.85 -.85)"/>
<use href="#c7" transform="translate(110.4 688.0)rotate(169)scale(1.15 -1.15)"/>
<use href="#c6" transform="translate(320.6 687.0)rotate(58)scale(1.29)"/>
<use href="#s7" transform="translate(142.3 677.0)rotate(132)scale(1.19 -1.19)"/>
<use href="#s1" transform="translate(226.1 675.0)rotate(106)scale(.86 -.86)"/>
<use href="#s5" transform="translate(262.8 668.0)rotate(67)scale(.98)"/>
<use href="#c5" transform="translate(74.8 666.0)rotate(152)scale(1.24 -1.24)"/>
<use href="#c2" transform="translate(333.1 666.0)rotate(-1)scale(1.25)"/>
<use href="#s1" transform="translate(271.7 665.0)rotate(84)scale(1.19)"/>
<use href="#c5" transform="translate(119.3 663.0)rotate(158)scale(1.41 -1.41)"/>
<use href="#fM1" transform="translate(119.1 639.3)rotate(155)scale(1.46 1.42)"/>
<use href="#c2" transform="translate(81.2 659.0)rotate(151)scale(1.18 -1.18)"/>
<use href="#fL0" transform="translate(292.9 635.6)rotate(25)scale(1.49 1.45)"/>
<use href="#s2" transform="translate(246.4 652.0)rotate(93)scale(.87 -.87)"/>
<use href="#fM0" transform="translate(297.4 632.8)rotate(26)scale(1.1 1.36)"/>
<use href="#s7" transform="translate(281.8 648.0)rotate(34)scale(1.29)"/>
<use href="#c0" transform="translate(104.4 648.0)rotate(165)scale(1.17 -1.17)"/>
<use href="#c7" transform="translate(108.2 646.0)rotate(161)scale(1.13 -1.13)"/>
<use href="#s2" transform="translate(274.7 646.0)rotate(29)scale(1.02)"/>
<use href="#s5" transform="translate(190.7 644.0)rotate(103)scale(1.11 -1.11)"/>
<use href="#s5" transform="translate(140.3 643.0)rotate(105)scale(1.44 -1.44)"/>
<use href="#s7" transform="translate(297.0 643.0)rotate(19)scale(1.13)"/>
<use href="#s7" transform="translate(188.9 641.0)rotate(129)scale(.95 -.95)"/>
<use href="#c4" transform="translate(81.0 640.0)rotate(169)scale(1.41 -1.41)"/>
<use href="#c0" transform="translate(315.3 638.0)rotate(30)scale(1.18)"/>
<use href="#s0" transform="translate(279.8 636.0)rotate(55)scale(1.11)"/>
<use href="#c6" transform="translate(324.0 636.0)rotate(42)scale(1.27)"/>
<use href="#s5" transform="translate(193.4 635.0)rotate(123)scale(.93 -.93)"/>
<use href="#s3" transform="translate(267.5 635.0)rotate(52)scale(1.14)"/>
<use href="#s2" transform="translate(190.6 630.0)rotate(80)scale(1.15)"/>
<use href="#c7" transform="translate(95.3 630.0)rotate(157)scale(1.16 -1.16)"/>
<use href="#fM0" transform="translate(109.9 617.9)rotate(164)scale(1.09 1.24)"/>
<use href="#c0" transform="translate(320.9 626.0)rotate(36)scale(1.27)"/>
<use href="#fM1" transform="translate(282.0 613.4)rotate(11)scale(1.42 1.35)"/>
<use href="#s4" transform="translate(295.2 621.0)rotate(29)scale(1.29)"/>
<use href="#c2" transform="translate(101.1 621.0)rotate(151)scale(1.32 -1.32)"/>
<use href="#fM0" transform="translate(276.4 613.6)rotate(4)scale(1.27 1.21)"/>
<use href="#fM1" transform="translate(110.2 594.1)rotate(146)scale(1.08 1.54)"/>
<use href="#s4" transform="translate(221.4 614.0)rotate(85)"/>
<use href="#c4" transform="translate(136.9 610.0)rotate(174)scale(1.15 -1.15)"/>
<use href="#fM1" transform="translate(299.3 582.1)rotate(38)scale(1.15 1.56)"/>
<use href="#s3" transform="translate(153.5 607.0)rotate(112)scale(1.36 -1.36)"/>
<use href="#c6" transform="translate(311.0 605.0)rotate(18)scale(1.3)"/>
<use href="#fL0" transform="translate(124.5 588.3)rotate(160)scale(1.31 1.45)"/>
<use href="#s6" transform="translate(253.4 603.0)rotate(71)scale(1.13)"/>
<use href="#s0" transform="translate(290.5 602.0)rotate(47)scale(1.04)"/>
<use href="#s7" transform="translate(149.9 600.0)rotate(130)scale(.99 -.99)"/>
<use href="#s0" transform="translate(187.2 600.0)rotate(93)scale(1.03 -1.03)"/>
<use href="#s0" transform="translate(285.1 597.0)rotate(57)scale(1.3)"/>
<use href="#fM0" transform="translate(123.1 568.7)rotate(146)scale(1.35 1.36)"/>
<use href="#s6" transform="translate(177.7 595.0)rotate(127)scale(1.13 -1.13)"/>
<use href="#c4" transform="translate(90.5 589.0)rotate(201)scale(1.21 -1.21)"/>
<use href="#s1" transform="translate(286.1 589.0)rotate(56)scale(1.09)"/>
<use href="#s1" transform="translate(212.6 588.0)rotate(87)scale(.86)"/>
<use href="#s1" transform="translate(144.1 586.0)rotate(134)scale(1.15 -1.15)"/>
<use href="#fM0" transform="translate(133.3 581.4)rotate(175)scale(1.22 1.29)"/>
<use href="#c4" transform="translate(126.7 583.0)rotate(166)scale(1.14 -1.14)"/>
<use href="#fM0" transform="translate(280.1 576.0)rotate(6)scale(1.29 1.47)"/>
<use href="#s2" transform="translate(233.1 579.0)rotate(104)scale(1.23 -1.23)"/>
<use href="#c7" transform="translate(314.2 577.0)rotate(22)scale(1.12)"/>
<use href="#s1" transform="translate(197.2 575.0)rotate(109)scale(1.06 -1.06)"/>
<use href="#fL0" transform="translate(283.3 562.3)rotate(13)scale(1.25 1.59)"/>
<use href="#fM1" transform="translate(122.1 554.3)rotate(151)scale(1.04 1.49)"/>
<use href="#s0" transform="translate(228.1 571.0)rotate(117)scale(1.03 -1.03)"/>
<use href="#c5" transform="translate(129.0 570.0)rotate(152)scale(1.27 -1.27)"/>
<use href="#s0" transform="translate(265.3 568.0)rotate(49)scale(1.08)"/>
<use href="#c6" transform="translate(127.1 567.0)rotate(134)scale(1.15 -1.15)"/>
<use href="#s0" transform="translate(178.0 562.0)rotate(122)scale(1.13 -1.13)"/>
<use href="#s1" transform="translate(233.7 558.0)rotate(77)scale(1.17)"/>
<use href="#fM0" transform="translate(292.0 534.2)rotate(37)scale(1.02 1.32)"/>
<use href="#c2" transform="translate(96.2 556.0)rotate(185)scale(1.29 -1.29)"/>
<use href="#c3" transform="translate(299.8 549.0)rotate(29)scale(1.31)"/>
<use href="#s2" transform="translate(291.5 546.0)rotate(49)scale(1.18)"/>
<use href="#fM0" transform="translate(135.8 537.3)rotate(169)scale(1.18 1.47)"/>
<use href="#s3" transform="translate(201.8 545.0)rotate(116)scale(.95 -.95)"/>
<use href="#fM1" transform="translate(280.2 536.7)rotate(11)scale(1.21 1.29)"/>
<use href="#c5" transform="translate(296.8 544.0)rotate(23)scale(1.43)"/>
<use href="#s5" transform="translate(268.2 541.0)rotate(38)scale(1.27)"/>
<use href="#s6" transform="translate(268.7 541.0)rotate(65)scale(1.08)"/>
<use href="#s5" transform="translate(152.4 538.0)rotate(89)scale(1.07)"/>
<use href="#s3" transform="translate(178.4 536.0)rotate(97)scale(1.06 -1.06)"/>
<use href="#c3" transform="translate(97.4 535.0)rotate(164)scale(1.4 -1.4)"/>
<use href="#c4" transform="translate(129.2 531.0)rotate(143)scale(1.24 -1.24)"/>
<use href="#c6" transform="translate(139.8 530.0)rotate(157)scale(1.4 -1.4)"/>
<use href="#c4" transform="translate(116.7 522.0)rotate(156)scale(1.23 -1.23)"/>
<use href="#fM0" transform="translate(130.0 499.3)rotate(156)scale(1.22 1.27)"/>
<use href="#s5" transform="translate(286.6 517.0)rotate(20)scale(1.21)"/>
<use href="#c6" transform="translate(119.1 516.0)rotate(170)scale(1.34 -1.34)"/>
<use href="#s2" transform="translate(281.6 512.0)rotate(49)scale(1.29)"/>
<use href="#fM1" transform="translate(137.9 495.8)rotate(163)scale(1.44 1.23)"/>
<use href="#s0" transform="translate(162.7 511.0)rotate(145)scale(1.17 -1.17)"/>
<use href="#fM0" transform="translate(278.4 495.1)rotate(23)scale(1.02 1.23)"/>
<use href="#c7" transform="translate(148.1 507.0)rotate(136)scale(1.3 -1.3)"/>
<use href="#s5" transform="translate(240.1 503.0)rotate(81)scale(.88)"/>
<use href="#s2" transform="translate(180.4 498.0)rotate(84)scale(1.31)"/>
<use href="#fM1" transform="translate(132.1 489.5)rotate(170)scale(1.17 1.39)"/>
<use href="#fM0" transform="translate(271.5 494.7)rotate(0)scale(1.16 1.54)"/>
<use href="#c1" transform="translate(304.5 492.0)rotate(46)scale(1.23)"/>
<use href="#c4" transform="translate(293.6 485.0)rotate(67)scale(1.24)"/>
<use href="#fM1" transform="translate(274.8 475.5)rotate(12)scale(1.08 1.28)"/>
<use href="#s2" transform="translate(192.6 479.0)rotate(109)scale(.93 -.93)"/>
<use href="#s4" transform="translate(245.7 475.0)rotate(88)scale(1.11)"/>
<use href="#s0" transform="translate(247.4 472.0)rotate(60)scale(1.17)"/>
<use href="#c7" transform="translate(137.5 469.0)rotate(126)scale(1.1 -1.1)"/>
<use href="#fM0" transform="translate(140.4 451.0)rotate(156)scale(1.16 1.29)"/>
<use href="#s4" transform="translate(206.6 466.0)rotate(80)scale(.94)"/>
<use href="#v3" transform="translate(171.0 461.3)rotate(-167)scale(.83 -.83)"/>
<use href="#s1" transform="translate(131.2 458.3)rotate(-164)scale(1.19 -1.19)"/>
<use href="#s1" transform="translate(160.8 462.0)rotate(136)scale(1.32 -1.32)"/>
<use href="#s7" transform="translate(279.6 462.0)rotate(13)scale(1.18)"/>
<use href="#v0" transform="translate(266.2 456.1)rotate(-11)scale(.77)"/>
<use href="#c4" transform="translate(109.2 460.0)rotate(170)scale(1.13 -1.13)"/>
<use href="#s5" transform="translate(283.7 454.8)rotate(25)scale(1.01)"/>
<use href="#s0" transform="translate(214.8 458.0)rotate(74)scale(.87)"/>
<use href="#c1" transform="translate(299.6 453.7)rotate(-8)scale(1.19)"/>
<use href="#s7" transform="translate(263.8 457.0)rotate(73)scale(1.18)"/>
<use href="#c2" transform="translate(98.7 456.0)rotate(-173)scale(1.31 -1.31)"/>
<use href="#c7" transform="translate(105.0 454.0)rotate(131)scale(1.38 -1.38)"/>
<use href="#s4" transform="translate(230.4 441.6)rotate(-50)scale(1.17)"/>
<use href="#s1" transform="translate(207.2 439.5)rotate(-176)scale(.95 -.95)"/>
<use href="#s2" transform="translate(250.0 439.2)rotate(17)"/>
<use href="#s6" transform="translate(130.1 437.8)rotate(-183)scale(1.09 -1.09)"/>
<use href="#s3" transform="translate(187.5 436.0)rotate(-174)scale(1.12 -1.12)"/>
<use href="#fM1" transform="translate(131.5 438.3)rotate(180)scale(1.08 1.52)"/>
<use href="#s6" transform="translate(167.4 432.4)rotate(-165)scale(1.02 -1.02)"/>
<use href="#s2" transform="translate(226.4 431.7)rotate(-50)scale(1.15)"/>
<use href="#fM0" transform="translate(270.8 413.7)rotate(29)scale(1.25 1.5)"/>
<use href="#fM0" transform="translate(122.0 452.4)rotate(217)scale(.64 .81)"/>
<use href="#fB0" transform="translate(207.9 453.1)rotate(237)scale(.48 .78)"/>
<use href="#c3" transform="translate(107.5 432.0)rotate(135)scale(1.32 -1.32)"/>
<use href="#c1" transform="translate(152.7 427.0)rotate(111)scale(1.08 -1.08)"/>
<use href="#s2" transform="translate(212.7 421.4)rotate(-127)scale(1.19 -1.19)"/>
<use href="#s7" transform="translate(231.9 421.1)rotate(23)scale(1.12)"/>
<use href="#c2" transform="translate(290.1 420.0)rotate(2)scale(1.15)"/>
<use href="#fM0" transform="translate(162.4 437.0)rotate(218)scale(.51 .76)"/>
<use href="#fB1" transform="translate(230.4 426.2)rotate(-2)scale(.45 .78)"/>
<use href="#fM0" transform="translate(173.2 438.1)rotate(220)scale(.54 .77)"/>
<use href="#s6" transform="translate(253.1 416.4)rotate(-32)scale(.91)"/>
<use href="#s0" transform="translate(212.4 420.0)rotate(109)scale(.81 -.81)"/>
<use href="#v3" transform="translate(176.0 415.6)rotate(-170)scale(.75 -.75)"/>
<use href="#s2" transform="translate(219.2 418.0)rotate(90)scale(.95)"/>
<use href="#v4" transform="translate(203.6 413.9)rotate(-185)scale(.8 -.8)"/>
<use href="#c7" transform="translate(308.8 416.5)rotate(-19)scale(.9)"/>
<use href="#v4" transform="translate(274.4 411.7)rotate(-22)scale(.87)"/>
<use href="#s0" transform="translate(280.8 414.0)rotate(35)scale(1.27)"/>
<use href="#u5" transform="translate(290.6 408.1)rotate(12)scale(.75)"/>
<use href="#fM1" transform="translate(141.8 431.9)rotate(248)scale(.53 .88)"/>
<use href="#fB0" transform="translate(215.1 418.9)rotate(-13)scale(.57 .89)"/>
<use href="#c1" transform="translate(119.1 406.6)rotate(-159)scale(1.04 -1.04)"/>
<use href="#v6" transform="translate(169.9 405.7)rotate(-189)scale(.7 -.7)"/>
<use href="#c1" transform="translate(221.2 402.8)rotate(-76)scale(1.16)"/>
<use href="#s3" transform="translate(212.4 406.0)rotate(101)scale(.91 -.91)"/>
<use href="#c2" transform="translate(130.2 406.0)rotate(145)scale(1.22 -1.22)"/>
<use href="#v6" transform="translate(153.0 401.6)rotate(-168)scale(.92 -.92)"/>
<use href="#c1" transform="translate(308.9 404.0)rotate(2)scale(1.17)"/>
<use href="#s0" transform="translate(243.8 399.5)rotate(51)"/>
<use href="#s4" transform="translate(136.2 397.4)rotate(-174)scale(.92 -.92)"/>
<use href="#c2" transform="translate(222.9 397.2)rotate(-24)scale(1.01)"/>
<use href="#fB1" transform="translate(229.6 402.1)rotate(2)scale(.6 .75)"/>
<use href="#fM0" transform="translate(281.0 411.7)rotate(-30)scale(.5 .74)"/>
<use href="#fM0" transform="translate(136.8 405.5)rotate(189)scale(.49 .74)"/>
<use href="#s0" transform="translate(205.1 399.0)rotate(93)scale(.91 -.91)"/>
<use href="#s0" transform="translate(281.3 394.0)rotate(-29)scale(1.05)"/>
<use href="#v0" transform="translate(243.8 392.6)rotate(-3)scale(.79)"/>
<use href="#c0" transform="translate(299.7 391.3)rotate(-8)scale(.97)"/>
<use href="#c1" transform="translate(223.3 389.7)rotate(-196)scale(1.01 -1.01)"/>
<use href="#s1" transform="translate(260.2 389.0)rotate(-15)scale(.88)"/>
<use href="#c3" transform="translate(122.6 392.0)rotate(127)scale(1.28 -1.28)"/>
<use href="#s7" transform="translate(201.6 386.0)rotate(-186)scale(1 -1)"/>
<use href="#u2" transform="translate(102.0 389.1)rotate(-169)scale(.88 -.88)"/>
<use href="#c4" transform="translate(221.4 384.6)rotate(-192)scale(1.08 -1.08)"/>
<use href="#v0" transform="translate(281.7 384.3)rotate(-28)scale(.69)"/>
<use href="#fB0" transform="translate(292.5 374.1)rotate(53)scale(.6 .81)"/>
<use href="#fM1" transform="translate(157.6 373.7)rotate(122)scale(.57 .89)"/>
<use href="#v0" transform="translate(184.8 383.1)rotate(-188)scale(.76 -.76)"/>
<use href="#c0" transform="translate(218.3 381.7)rotate(-101)scale(.95 -.95)"/>
<use href="#c1" transform="translate(298.6 380.6)rotate(-12)scale(1.03)"/>
<use href="#v1" transform="translate(202.0 380.2)rotate(-128)scale(.87 -.87)"/>
<use href="#v6" transform="translate(162.5 379.3)rotate(-174)scale(.73 -.73)"/>
<use href="#s3" transform="translate(196.2 382.0)rotate(151)scale(1.08 -1.08)"/>
<use href="#v2" transform="translate(208.0 377.7)rotate(-261)scale(.7 -.7)"/>
<use href="#u5" transform="translate(224.4 377.6)rotate(-23)scale(.86)"/>
<use href="#s3" transform="translate(182.7 375.7)rotate(-142)scale(1 -1)"/>
<use href="#v7" transform="translate(140.1 375.4)rotate(-173)scale(.82 -.82)"/>
<use href="#v1" transform="translate(240.0 375.4)rotate(-3)scale(.87)"/>
<use href="#c5" transform="translate(123.9 372.7)rotate(-163)scale(.88 -.88)"/>
<use href="#v6" transform="translate(192.4 372.3)rotate(-166)scale(.83 -.83)"/>
<use href="#fM0" transform="translate(216.2 368.6)rotate(150)scale(.58 .86)"/>
<use href="#fB0" transform="translate(188.7 370.2)rotate(156)scale(.61 .76)"/>
<use href="#fM1" transform="translate(271.1 372.6)rotate(17)scale(.62 .84)"/>
<use href="#fM0" transform="translate(232.0 388.2)rotate(202)scale(.68 .87)"/>
<use href="#fB1" transform="translate(226.2 397.5)rotate(241)scale(.59 .8)"/>
<use href="#fM0" transform="translate(187.0 363.2)rotate(141)scale(.7)"/>
<use href="#c2" transform="translate(319.9 376.0)rotate(-18)scale(.83)"/>
<use href="#s4" transform="translate(165.6 371.8)rotate(-138)scale(.81 -.81)"/>
<use href="#c7" transform="translate(220.2 370.9)rotate(-38)scale(.85)"/>
<use href="#v4" transform="translate(241.8 370.8)rotate(-54)scale(.89)"/>
<use href="#s4" transform="translate(260.8 369.4)rotate(6)scale(.91)"/>
<use href="#s7" transform="translate(148.8 368.0)rotate(-200)scale(.93 -.93)"/>
<use href="#u0" transform="translate(105.3 369.5)rotate(-161)scale(.76 -.76)"/>
<use href="#v3" transform="translate(172.2 365.4)rotate(-156)scale(.77 -.77)"/>
<use href="#v4" transform="translate(276.6 364.9)rotate(-27)scale(.84)"/>
<use href="#v0" transform="translate(257.8 364.5)rotate(-4)scale(.89)"/>
<use href="#s5" transform="translate(204.6 364.3)rotate(-130)scale(.88 -.88)"/>
<use href="#v4" transform="translate(130.8 363.9)rotate(-179)scale(.85 -.85)"/>
<use href="#fB1" transform="translate(128.6 370.9)rotate(188)scale(.46 .73)"/>
<use href="#fB1" transform="translate(246.4 381.0)rotate(-36)scale(.59 .77)"/>
<use href="#fB1" transform="translate(274.3 374.2)rotate(-17)scale(.53 .82)"/>
<use href="#fB1" transform="translate(159.6 375.9)rotate(201)scale(.57 .8)"/>
<use href="#fB1" transform="translate(264.1 357.9)rotate(29)scale(.62 .8)"/>
<use href="#u2" transform="translate(114.9 360.3)rotate(-172)scale(.75 -.75)"/>
<use href="#u2" transform="translate(295.6 359.4)rotate(-17)scale(.79)"/>
<use href="#v2" transform="translate(152.8 358.7)rotate(-158)scale(.76 -.76)"/>
<use href="#v3" transform="translate(188.1 357.3)rotate(-147)scale(.75 -.75)"/>
<use href="#s1" transform="translate(278.0 356.5)rotate(-24)scale(1.04)"/>
<use href="#v0" transform="translate(137.5 353.3)rotate(-174)scale(.8 -.8)"/>
<use href="#fB0" transform="translate(258.0 369.7)rotate(-27)scale(.63 .71)"/>
<use href="#fM1" transform="translate(190.1 365.0)rotate(197)scale(.54 .9)"/>
<use href="#u2" transform="translate(97.4 356.3)rotate(-156)scale(.91 -.91)"/>
<use href="#v4" transform="translate(171.0 350.0)rotate(-152)scale(.73 -.73)"/>
<use href="#u3" transform="translate(317.7 353.1)rotate(-14)scale(.74)"/>
<use href="#u5" transform="translate(297.5 348.8)rotate(-29)scale(.75)"/>
<use href="#c4" transform="translate(122.0 348.0)rotate(-140)scale(.82 -.82)"/>
<use href="#u7" transform="translate(223.1 342.7)rotate(-36)scale(.72)"/>
<use href="#fB1" transform="translate(207.8 345.3)rotate(10)scale(.6 .76)"/>
<use href="#fM1" transform="translate(167.9 354.0)rotate(193)scale(.62 .73)"/>
<use href="#v2" transform="translate(150.8 341.4)rotate(-174)scale(.82 -.82)"/>
<use href="#v3" transform="translate(224.8 340.9)rotate(-73)scale(.91)"/>
<use href="#u4" transform="translate(314.8 342.0)rotate(-15)scale(.72)"/>
<use href="#u0" transform="translate(100.9 340.7)rotate(-162)scale(.87 -.87)"/>
<use href="#v0" transform="translate(245.7 335.0)rotate(12)scale(.83)"/>
<use href="#v7" transform="translate(202.7 334.2)rotate(-129)scale(.82 -.82)"/>
<use href="#u3" transform="translate(133.5 334.0)rotate(-147)scale(.72 -.72)"/>
<use href="#fB0" transform="translate(228.0 332.5)rotate(161)scale(.49 .76)"/>
<use href="#fB0" transform="translate(142.1 340.7)rotate(186)scale(.61 .71)"/>
<use href="#fB1" transform="translate(230.3 343.3)rotate(192)scale(.66 .74)"/>
<use href="#fB0" transform="translate(257.7 347.5)rotate(-23)scale(.66 .84)"/>
<use href="#v4" transform="translate(263.6 330.0)rotate(-41)scale(.77)"/>
<use href="#v3" transform="translate(182.5 325.7)rotate(-142)scale(.87 -.87)"/>
<use href="#u7" transform="translate(281.7 324.9)rotate(1)scale(.79)"/>
<use href="#u4" transform="translate(223.1 323.4)rotate(27)scale(.85)"/>
<use href="#v6" transform="translate(214.3 323.2)rotate(-168)scale(.74 -.74)"/>
<use href="#u6" transform="translate(116.5 326.8)rotate(-155)scale(.89 -.89)"/>
<use href="#fM1" transform="translate(238.0 326.2)rotate(174)scale(.65 .8)"/>
<use href="#fB0" transform="translate(243.2 334.2)rotate(-14)scale(.62 .72)"/>
<use href="#fB0" transform="translate(224.7 345.5)rotate(240)scale(.54 .85)"/>
<use href="#fB1" transform="translate(239.9 333.5)rotate(192)scale(.62 .87)"/>
<use href="#v7" transform="translate(199.2 318.0)rotate(-105)scale(.87 -.87)"/>
<use href="#v0" transform="translate(243.0 317.6)rotate(-25)scale(.71)"/>
<use href="#v4" transform="translate(162.6 317.4)rotate(-181)scale(.87 -.87)"/>
<use href="#u1" transform="translate(223.1 317.1)rotate(-39)scale(.75)"/>
<use href="#u4" transform="translate(299.2 319.9)rotate(3)scale(.81)"/>
<use href="#u0" transform="translate(215.5 315.2)rotate(-66)scale(.72)"/>
<use href="#v1" transform="translate(183.4 312.5)rotate(-153)scale(.78 -.78)"/>
<use href="#fB0" transform="translate(228.8 325.9)rotate(-18)scale(.67 .76)"/>
<use href="#fB1" transform="translate(217.3 339.6)rotate(243)scale(.66 .87)"/>
<use href="#fB1" transform="translate(267.2 326.8)rotate(-22)scale(.59 .75)"/>
<use href="#fB0" transform="translate(272.6 335.1)rotate(-46)scale(.64 .82)"/>
<use href="#u6" transform="translate(264.3 311.3)rotate(-15)scale(.81)"/>
<use href="#u2" transform="translate(144.0 309.6)rotate(-163)scale(.8 -.8)"/>
<use href="#v2" transform="translate(242.3 309.5)rotate(-40)scale(.84)"/>
<use href="#v5" transform="translate(195.6 306.3)rotate(-172)scale(.71 -.71)"/>
<use href="#v5" transform="translate(162.6 305.3)rotate(-164)scale(.84 -.84)"/>
<use href="#v4" transform="translate(259.6 302.5)rotate(-15)scale(.85)"/>
<use href="#fB1" transform="translate(194.1 317.1)rotate(200)scale(.61 .81)"/>
<use href="#fB0" transform="translate(237.0 328.9)rotate(-53)scale(.67 .71)"/>
<use href="#fM1" transform="translate(222.6 298.3)rotate(34)scale(.56 .74)"/>
<use href="#fM1" transform="translate(228.3 320.5)rotate(-31)scale(.6 .85)"/>
<use href="#u2" transform="translate(284.7 305.3)rotate(-30)scale(.91)"/>
<use href="#u3" transform="translate(143.9 298.8)rotate(-148)scale(.74 -.74)"/>
<use href="#v5" transform="translate(177.1 298.1)rotate(-173)scale(.74 -.74)"/>
<use href="#u0" transform="translate(125.9 302.1)rotate(-151)scale(.7 -.7)"/>
<use href="#u3" transform="translate(276.2 295.9)rotate(-14)scale(.91)"/>
<use href="#u7" transform="translate(221.9 293.8)rotate(-42)scale(.78)"/>
<use href="#fB0" transform="translate(243.2 316.7)rotate(-51)scale(.67 .74)"/>
<use href="#fB0" transform="translate(202.2 302.1)rotate(193)scale(.5 .79)"/>
<use href="#v1" transform="translate(158.9 290.0)rotate(-157)scale(.89 -.89)"/>
<use href="#v1" transform="translate(240.7 289.2)rotate(-25)scale(.87)"/>
<use href="#u1" transform="translate(123.2 291.6)rotate(-173)scale(.75 -.75)"/>
<use href="#v3" transform="translate(213.6 286.7)rotate(-130)scale(.82 -.82)"/>
<use href="#v0" transform="translate(261.1 284.3)rotate(-30)scale(.8)"/>
<use href="#u5" transform="translate(295.5 288.1)rotate(-19)scale(.75)"/>
<use href="#u3" transform="translate(221.5 283.4)rotate(-148)scale(.73 -.73)"/>
<use href="#u5" transform="translate(142.6 282.8)rotate(-153)scale(.82 -.82)"/>
<use href="#v7" transform="translate(196.7 281.4)rotate(-136)scale(.86 -.86)"/>
<use href="#fB0" transform="translate(226.0 298.7)rotate(209)scale(.63 .82)"/>
<use href="#fB1" transform="translate(199.0 293.5)rotate(-14)scale(.68 .83)"/>
<use href="#u6" transform="translate(277.8 280.2)rotate(-25)scale(.79)"/>
<use href="#v3" transform="translate(205.5 276.9)rotate(-225)scale(.86 -.86)"/>
<use href="#v6" transform="translate(177.0 275.1)rotate(-153)scale(.7 -.7)"/>
<use href="#u2" transform="translate(294.7 276.1)rotate(-22)scale(.88)"/>
<use href="#u2" transform="translate(126.4 275.6)rotate(-144)scale(.9 -.9)"/>
<use href="#fB0" transform="translate(168.4 269.3)rotate(150)scale(.5 .75)"/>
<use href="#fB0" transform="translate(158.7 264.9)rotate(148)scale(.7 .8)"/>
<use href="#fM0" transform="translate(209.3 280.1)rotate(-4)scale(.67 .78)"/>
<use href="#v7" transform="translate(233.6 269.3)rotate(5)scale(.69)"/>
<use href="#v7" transform="translate(157.3 268.8)rotate(-165)scale(.88 -.88)"/>
<use href="#v2" transform="translate(184.8 268.4)rotate(-131)scale(.86 -.86)"/>
<use href="#v5" transform="translate(230.1 267.8)rotate(-34)scale(.83)"/>
<use href="#u7" transform="translate(141.0 263.6)rotate(-143)scale(.79 -.79)"/>
<use href="#v3" transform="translate(250.2 263.3)rotate(-29)scale(.83)"/>
<use href="#v0" transform="translate(167.0 261.1)rotate(-152)scale(.77 -.77)"/>
<use href="#v4" transform="translate(253.4 260.8)rotate(-43)scale(.91)"/>
<use href="#fB0" transform="translate(152.8 258.7)rotate(151)scale(.5 .85)"/>
<use href="#fB0" transform="translate(259.7 268.8)rotate(-4)scale(.52 .86)"/>
<use href="#u5" transform="translate(272.2 258.5)rotate(9)scale(.86)"/>
<use href="#u6" transform="translate(268.4 254.3)rotate(-36)scale(.87)"/>
<use href="#u1" transform="translate(120.5 257.1)rotate(-167)scale(.82 -.82)"/>
<use href="#u2" transform="translate(145.7 252.4)rotate(-162)scale(.78 -.78)"/>
<use href="#v6" transform="translate(212.6 251.1)rotate(-115)scale(.87 -.87)"/>
<use href="#u2" transform="translate(292.2 254.1)rotate(-20)scale(.78)"/>
<use href="#fB1" transform="translate(215.9 252.6)rotate(169)scale(.52 .87)"/>
<use href="#fB1" transform="translate(244.5 254.4)rotate(4)scale(.68 .72)"/>
<use href="#fM1" transform="translate(210.3 261.0)rotate(-12)scale(.68 .8)"/>
<use href="#v1" transform="translate(226.4 247.5)rotate(-31)scale(.76)"/>
<use href="#v4" transform="translate(195.0 243.8)rotate(-124)scale(.85 -.85)"/>
<use href="#u5" transform="translate(287.3 246.2)rotate(-18)scale(.91)"/>
<use href="#u0" transform="translate(125.7 244.3)rotate(-147)scale(.88 -.88)"/>
<use href="#v5" transform="translate(246.5 239.5)rotate(-61)scale(.73)"/>
<use href="#fM0" transform="translate(209.1 248.2)rotate(-6)scale(.56 .79)"/>
<use href="#fB0" transform="translate(189.2 234.1)rotate(142)scale(.53 .89)"/>
<use href="#fB1" transform="translate(268.3 264.9)rotate(-81)scale(.53 .76)"/>
<use href="#fM0" transform="translate(164.6 230.8)rotate(134)scale(.58 .79)"/>
<use href="#v3" transform="translate(177.9 236.8)rotate(-129)scale(.86 -.86)"/>
<use href="#v2" transform="translate(215.6 233.5)rotate(-146)scale(.84 -.84)"/>
<use href="#u6" transform="translate(262.9 232.9)rotate(-19)scale(.83)"/>
<use href="#u4" transform="translate(159.9 229.3)rotate(-154)scale(.87 -.87)"/>
<use href="#v4" transform="translate(195.9 227.9)rotate(-175)scale(.77 -.77)"/>
<use href="#fB1" transform="translate(224.1 215.8)rotate(51)scale(.65 .87)"/>
<use href="#fB1" transform="translate(205.8 244.5)rotate(220)scale(.46 .88)"/>
<use href="#u5" transform="translate(278.4 226.8)rotate(-19)scale(.81)"/>
<use href="#v3" transform="translate(174.7 221.9)rotate(-170)scale(.71 -.71)"/>
<use href="#u6" transform="translate(218.5 221.9)rotate(-141)scale(.91 -.91)"/>
<use href="#u7" transform="translate(143.2 222.4)rotate(-168)scale(.7 -.7)"/>
<use href="#u3" transform="translate(155.3 216.4)rotate(-159)scale(.7 -.7)"/>
<use href="#v3" transform="translate(232.6 216.2)rotate(25)scale(.8)"/>
<use href="#v0" transform="translate(201.9 216.0)rotate(-165)scale(.72 -.72)"/>
<use href="#fM0" transform="translate(207.2 234.6)rotate(-31)scale(.67 .9)"/>
<use href="#fB1" transform="translate(257.1 236.1)rotate(-47)scale(.53 .74)"/>
<use href="#u3" transform="translate(250.4 211.4)rotate(13)scale(.83)"/>
<use href="#v6" transform="translate(185.5 210.1)rotate(-116)scale(.85 -.85)"/>
<use href="#u3" transform="translate(139.6 211.9)rotate(-167)scale(.73 -.73)"/>
<use href="#u5" transform="translate(164.6 202.7)rotate(-145)scale(.71 -.71)"/>
<use href="#fB0" transform="translate(223.1 215.9)rotate(-16)scale(.63 .71)"/>
<use href="#u2" transform="translate(269.5 206.2)rotate(-17)scale(.69)"/>
<use href="#v0" transform="translate(227.2 200.1)rotate(57)scale(.91)"/>
<use href="#v3" transform="translate(204.2 199.8)rotate(-105)scale(.76 -.76)"/>
<use href="#u0" transform="translate(245.2 195.2)rotate(-3)scale(.87)"/>
<use href="#v2" transform="translate(187.1 193.7)rotate(-156)scale(.83 -.83)"/>
<use href="#u4" transform="translate(147.7 196.7)rotate(-156)scale(.82 -.82)"/>
<use href="#v0" transform="translate(226.7 189.4)rotate(-64)scale(.79)"/>
<use href="#u3" transform="translate(166.4 186.4)rotate(-158)scale(.89 -.89)"/>
<use href="#u1" transform="translate(265.0 189.9)rotate(-23)scale(.76)"/>
<use href="#u1" transform="translate(244.1 183.7)rotate(17)scale(.71)"/>
<use href="#v7" transform="translate(213.9 180.0)rotate(-144)scale(.92 -.92)"/>
<use href="#fB1" transform="translate(239.3 187.6)rotate(187)scale(.68 .8)"/>
<use href="#fB1" transform="translate(181.8 192.1)rotate(201)scale(.57 .8)"/>
<use href="#fM1" transform="translate(224.9 202.8)rotate(-95)scale(.5 .87)"/>
<use href="#u2" transform="translate(147.7 179.8)rotate(-149)scale(.85 -.85)"/>
<use href="#v6" transform="translate(194.8 174.9)rotate(-173)scale(.69 -.69)"/>
<use href="#u1" transform="translate(263.1 177.4)rotate(-14)scale(.72)"/>
<use href="#v5" transform="translate(223.5 169.7)rotate(-12)scale(.72)"/>
<use href="#u0" transform="translate(175.2 169.6)rotate(-174)scale(.91 -.91)"/>
<use href="#fB1" transform="translate(218.8 185.7)rotate(221)scale(.47 .8)"/>
<use href="#fB0" transform="translate(189.4 167.5)rotate(158)scale(.52 .79)"/>
<use href="#u5" transform="translate(218.1 167.1)rotate(-105)scale(.9 -.9)"/>
<use href="#u0" transform="translate(239.0 164.8)rotate(-1)scale(.71)"/>
<use href="#v1" transform="translate(201.7 161.0)rotate(-183)scale(.89 -.89)"/>
<use href="#u4" transform="translate(154.0 163.9)rotate(-162)scale(.91 -.91)"/>
<use href="#fB1" transform="translate(214.5 143.9)rotate(114)scale(.57 .88)"/>
<use href="#u3" transform="translate(186.1 155.1)rotate(-153)scale(.84 -.84)"/>
<use href="#u7" transform="translate(257.7 158.8)rotate(-15)scale(.78)"/>
<use href="#u0" transform="translate(209.3 148.6)rotate(-164)scale(.83 -.83)"/>
<use href="#u4" transform="translate(232.1 148.0)rotate(-2)scale(.8)"/>
<use href="#fB0" transform="translate(226.1 154.8)rotate(-7)scale(.51 .82)"/>
<use href="#u6" transform="translate(167.5 148.1)rotate(-169)scale(.79 -.79)"/>
<use href="#u0" transform="translate(192.6 141.9)rotate(-174)scale(.88 -.88)"/>
<use href="#u7" transform="translate(253.6 140.9)rotate(-20)scale(.9)"/>
<use href="#u2" transform="translate(227.9 136.0)rotate(-26)scale(.75)"/>
<use href="#fM1" transform="translate(206.3 143.5)rotate(-5)scale(.6 .78)"/>
<use href="#fB0" transform="translate(223.7 141.0)rotate(2)scale(.51 .89)"/>
<use href="#u5" transform="translate(173.1 134.1)rotate(-154)scale(.79 -.79)"/>
<use href="#u0" transform="translate(244.6 131.7)rotate(-7)scale(.72)"/>
<use href="#fM1" transform="translate(207.5 137.6)rotate(208)scale(.47 .7)"/>
<use href="#fB1" transform="translate(214.8 122.0)rotate(156)scale(.53 .87)"/>
<use href="#u7" transform="translate(219.7 120.8)rotate(-89)scale(.82)"/>
<use href="#u2" transform="translate(218.4 119.6)rotate(-160)scale(.77 -.77)"/>
<use href="#u3" transform="translate(237.8 116.0)rotate(-10)scale(.74)"/>
<use href="#u4" transform="translate(197.4 112.2)rotate(-172)scale(.74 -.74)"/>
<path d="M187.6 200.9l19.4 6.9" stroke="#dfeae2" stroke-width="2.0" stroke-dasharray="1.4 1.1 0.7 1.6" opacity=".75"/>
<path d="M235.3 205.4l-17.6 4.7" stroke="#dfeae2" stroke-width="1.7" stroke-dasharray="2.4 1.1 1.0 2.1" opacity=".75"/>
<path d="M193.4 249.3l20.6 8.5" stroke="#dfeae2" stroke-width="1.2" stroke-dasharray="2.0 1.8 1.4 2.9" opacity=".75"/>
<path d="M243.0 273.5l-9.2 4.0" stroke="#dfeae2" stroke-width="2.2" stroke-dasharray="2.6 1.1 1.0 2.6" opacity=".75"/>
<path d="M180.1 283.6l11.3 3.6" stroke="#dfeae2" stroke-width="1.4" stroke-dasharray="1.4 1.1 1.2 2.6" opacity=".75"/>
<path d="M181.7 319.1l18.7 6.5" stroke="#dfeae2" stroke-width="1.8" stroke-dasharray="1.5 2.4 2.0 2.5" opacity=".75"/>
<path d="M189.7 334.8l11.4 4.8" stroke="#dfeae2" stroke-width="1.4" stroke-dasharray="2.4 2.2 1.7 1.6" opacity=".75"/>
<path d="M184.6 361.0l15.9 6.8" stroke="#dfeae2" stroke-width="1.7" stroke-dasharray="1.5 1.1 0.8 2.4" opacity=".75"/>
<path d="M260.2 372.4l-11.0 4.3" stroke="#dfeae2" stroke-width="2.0" stroke-dasharray="1.3 2.1 1.0 1.7" opacity=".75"/>
<use href="#fM0" transform="translate(132.9 814.3)rotate(140)scale(1.29 1.4)"/>
<use href="#fM1" transform="translate(123.9 813.2)rotate(125)scale(1.35 1.5)"/>
<use href="#fL0" transform="translate(122.3 819.0)rotate(129)scale(1.15 1)"/>
<use href="#fM0" transform="translate(133.6 816.5)rotate(78)scale(1.19 1.4)"/>
<use href="#fM1" transform="translate(146.9 819.8)rotate(97)scale(1.35 1.5)"/>
<use href="#fL0" transform="translate(146.5 825.0)rotate(98)scale(1.15 1)"/>
<use href="#fM1" transform="translate(143.6 803.8)rotate(69)scale(1.28 1.4)"/>
<use href="#fM0" transform="translate(157.6 805.1)rotate(80)scale(1.35 1.5)"/>
<use href="#fL0" transform="translate(161.8 809.8)rotate(84)scale(1.15 1)"/>
<use href="#fM0" transform="translate(196.3 811.4)rotate(76)scale(1.1 1.4)"/>
<use href="#fM0" transform="translate(214.2 809.6)rotate(95)scale(1.35 1.5)"/>
<use href="#fL0" transform="translate(216.7 815.2)rotate(99)scale(1.15 1)"/>
<use href="#fM0" transform="translate(269.8 825.9)rotate(101)scale(1.21 1.4)"/>
<use href="#fM0" transform="translate(246.9 827.5)rotate(78)scale(1.35 1.5)"/>
<use href="#fL0" transform="translate(253.4 831.8)rotate(85)scale(1.15 1)"/>
<use href="#fM0" transform="translate(292.4 807.2)rotate(50)scale(1.17 1.4)"/>
<use href="#fM0" transform="translate(289.7 806.9)rotate(60)scale(1.35 1.5)"/>
<use href="#fL1" transform="translate(291.0 812.6)rotate(56)scale(1.15 1)"/>
<use href="#fM1" transform="translate(216.0 118.0)rotate(-90)scale(1.5 1)"/><use href="#fL0" transform="translate(216.5 118.0)rotate(-90)scale(1.45 .8)"/><use href="#fB1" transform="translate(215.5 116.0)rotate(-90)scale(1.3 .55)"/>
</g>
<g>
<g fill="none" stroke="#27453a" stroke-width="2.8" stroke-linecap="round" stroke-linejoin="round"><path d="M497 840L468 862Q461 866 461 874V889.5"/><path d="M566 837L595 868Q600 872 600 880V888.5"/><path stroke="#6a4a40" stroke-width="1.2" d="M524 843L465 877M555 850L598 877"/></g>
<path fill="#08260f" d="M534.5 200.0L531.0 207.0L524.7 214.0L520.8 221.0L514.4 228.0L510.8 235.0L505.1 242.0L508.1 249.0L504.9 256.0L502.1 263.0L503.9 270.0L501.3 277.0L502.1 284.0L498.6 291.0L495.3 298.0L491.4 305.0L491.1 312.0L491.4 319.0L491.3 326.0L487.0 333.0L491.5 340.0L487.4 347.0L488.8 354.0L495.1 361.0L490.0 368.0L484.4 375.0L483.1 382.0L476.4 389.0L479.3 396.0L478.3 403.0L475.0 410.0L475.4 417.0L472.0 424.0L471.1 431.0L470.8 438.0L476.9 445.0L478.7 452.0L477.4 459.0L480.0 466.0L471.4 473.0L466.0 480.0L469.0 487.0L472.4 494.0L466.0 501.0L468.0 508.0L467.5 515.0L464.2 522.0L468.4 529.0L463.0 536.0L465.6 543.0L462.9 550.0L461.2 557.0L459.0 564.0L454.5 571.0L456.5 578.0L453.9 585.0L449.9 592.0L451.2 599.0L454.7 606.0L455.1 613.0L451.5 620.0L449.2 627.0L451.6 634.0L454.1 641.0L451.8 648.0L449.6 655.0L448.7 662.0L447.0 669.0L447.5 676.0L448.2 683.0L446.7 690.0L444.6 697.0L441.6 704.0L439.0 711.0L444.3 718.0L442.7 725.0L439.9 732.0L434.9 739.0L432.0 746.0L433.6 753.0L446.2 760.0L463.5 767.0L475.2 774.0L484.9 781.0L498.3 788.0L505.0 795.0L504.3 802.0L564.1 802.0L564.5 795.0L577.3 788.0L588.0 781.0L604.7 774.0L622.7 767.0L639.9 760.0L644.8 753.0L649.1 746.0L643.9 739.0L643.2 732.0L646.4 725.0L645.4 718.0L648.8 711.0L649.3 704.0L646.7 697.0L647.0 690.0L645.6 683.0L641.5 676.0L643.5 669.0L644.4 662.0L645.0 655.0L643.5 648.0L636.6 641.0L639.4 634.0L639.6 627.0L638.7 620.0L634.1 613.0L634.6 606.0L636.2 599.0L636.0 592.0L636.7 585.0L633.7 578.0L631.7 571.0L629.6 564.0L633.6 557.0L629.5 550.0L632.6 543.0L631.5 536.0L626.7 529.0L625.3 522.0L627.3 515.0L623.9 508.0L625.0 501.0L633.5 494.0L628.5 487.0L621.7 480.0L618.3 473.0L601.8 466.0L607.2 459.0L607.1 452.0L607.5 445.0L606.6 438.0L605.0 431.0L610.9 424.0L612.2 417.0L613.4 410.0L606.2 403.0L607.3 396.0L599.9 389.0L601.0 382.0L597.1 375.0L595.8 368.0L597.6 361.0L591.4 354.0L588.2 347.0L587.7 340.0L589.6 333.0L589.3 326.0L592.3 319.0L595.3 312.0L588.5 305.0L590.9 298.0L586.4 291.0L584.1 284.0L584.4 277.0L582.8 270.0L577.2 263.0L581.2 256.0L577.3 249.0L570.4 242.0L566.5 235.0L560.3 228.0L552.2 221.0L549.5 214.0L543.2 207.0L546.6 200.0Z"/>
<use href="#fD1" transform="translate(504.5 798.1)rotate(131)scale(1.31 1.42)"/>
<use href="#fD0" transform="translate(484.5 784.5)rotate(85)scale(1.38 1.25)"/>
<use href="#fD1" transform="translate(612.9 813.9)rotate(24)scale(1.39 1.59)"/>
<use href="#fD0" transform="translate(576.4 792.8)rotate(66)scale(1.22 1.56)"/>
<use href="#fD0" transform="translate(577.8 795.1)rotate(103)scale(1.02 1.29)"/>
<use href="#fD1" transform="translate(524.1 786.4)rotate(109)scale(1.22 1.51)"/>
<use href="#fD1" transform="translate(508.0 788.1)rotate(102)scale(1.13 1.33)"/>
<use href="#fD1" transform="translate(548.3 789.1)rotate(127)scale(1.25 1.58)"/>
<use href="#fD1" transform="translate(487.3 786.9)rotate(133)scale(1.22 1.48)"/>
<use href="#fD1" transform="translate(540.1 781.9)rotate(124)scale(1.1 1.34)"/>
<use href="#fD1" transform="translate(418.8 769.5)rotate(94)scale(1.07 1.48)"/>
<use href="#fD1" transform="translate(589.5 782.0)rotate(44)scale(1.04 1.36)"/>
<use href="#fD1" transform="translate(592.7 756.4)rotate(94)scale(1.3 1.49)"/>
<use href="#fD1" transform="translate(505.1 760.5)rotate(69)scale(1.26 1.36)"/>
<use href="#fD0" transform="translate(539.1 765.6)rotate(109)scale(1.04 1.52)"/>
<use href="#fD0" transform="translate(591.4 759.5)rotate(50)scale(1.36 1.31)"/>
<use href="#fD0" transform="translate(620.4 772.6)rotate(31)scale(1.31 1.21)"/>
<use href="#fD0" transform="translate(606.4 776.2)rotate(15)scale(1.28 1.22)"/>
<use href="#fD0" transform="translate(617.3 773.2)rotate(11)scale(1.03 1.36)"/>
<use href="#fD0" transform="translate(588.3 754.5)rotate(30)scale(1.37 1.34)"/>
<use href="#fD1" transform="translate(593.1 746.5)rotate(35)scale(1.37 1.23)"/>
<use href="#fD0" transform="translate(554.1 734.3)rotate(102)scale(1.16 1.5)"/>
<use href="#fD0" transform="translate(514.2 727.8)rotate(127)scale(1.32 1.58)"/>
<use href="#fD1" transform="translate(579.0 778.6)rotate(-22)scale(1.02 1.27)"/>
<use href="#fD0" transform="translate(443.4 724.7)rotate(111)scale(1.08 1.47)"/>
<use href="#fD1" transform="translate(556.1 712.1)rotate(82)scale(1.26 1.49)"/>
<use href="#fD1" transform="translate(437.8 723.1)rotate(122)scale(1.04 1.33)"/>
<use href="#fD0" transform="translate(527.5 715.8)rotate(55)scale(1.02 1.48)"/>
<use href="#fD1" transform="translate(548.3 736.7)rotate(11)scale(1.32 1.48)"/>
<use href="#fD1" transform="translate(535.7 723.9)rotate(158)scale(1.17 1.48)"/>
<use href="#fD1" transform="translate(513.0 708.2)rotate(140)scale(1.37 1.55)"/>
<use href="#fD0" transform="translate(646.2 693.2)rotate(70)scale(1.36 1.47)"/>
<use href="#fD1" transform="translate(617.4 708.3)rotate(45)scale(1.16 1.48)"/>
<use href="#fD0" transform="translate(590.3 704.1)rotate(51)scale(1.2 1.55)"/>
<use href="#fD0" transform="translate(541.8 691.5)rotate(93)scale(1.24 1.23)"/>
<use href="#fD1" transform="translate(527.9 687.7)rotate(71)scale(1.39 1.23)"/>
<use href="#fD1" transform="translate(529.1 684.8)rotate(90)scale(1.17 1.25)"/>
<use href="#fD1" transform="translate(555.7 696.2)rotate(131)scale(1.02 1.31)"/>
<use href="#fD0" transform="translate(538.1 676.0)rotate(82)scale(1.29 1.53)"/>
<use href="#fD0" transform="translate(592.6 686.2)rotate(113)scale(1.05 1.52)"/>
<use href="#fD1" transform="translate(587.5 674.7)rotate(70)scale(1.16 1.49)"/>
<use href="#fD1" transform="translate(459.5 675.4)rotate(101)scale(1.03 1.4)"/>
<use href="#fD1" transform="translate(511.6 706.4)rotate(174)scale(1.2 1.37)"/>
<use href="#fD0" transform="translate(491.2 692.5)rotate(155)scale(1.15 1.56)"/>
<use href="#fD0" transform="translate(599.3 676.7)rotate(47)scale(1.23 1.52)"/>
<use href="#fD0" transform="translate(555.0 678.8)rotate(48)scale(1.05 1.54)"/>
<use href="#fD1" transform="translate(510.4 673.8)rotate(138)scale(1.29 1.21)"/>
<use href="#fD0" transform="translate(573.7 666.1)rotate(63)scale(1.18 1.39)"/>
<use href="#fD1" transform="translate(607.4 675.4)rotate(40)scale(1.01 1.26)"/>
<use href="#fD1" transform="translate(524.5 659.7)rotate(86)scale(1.01 1.24)"/>
<use href="#fD1" transform="translate(495.1 650.9)rotate(101)scale(1.19 1.4)"/>
<use href="#fD0" transform="translate(519.8 645.5)rotate(103)scale(1.13 1.53)"/>
<use href="#fD0" transform="translate(489.9 661.4)rotate(151)scale(1.12 1.43)"/>
<use href="#fD1" transform="translate(563.8 634.9)rotate(101)scale(1.3 1.48)"/>
<use href="#fD1" transform="translate(469.4 648.6)rotate(144)scale(1.01 1.6)"/>
<use href="#fD1" transform="translate(498.1 635.9)rotate(50)scale(1.12 1.58)"/>
<use href="#fD0" transform="translate(603.7 620.6)rotate(49)scale(1.24 1.35)"/>
<use href="#fD0" transform="translate(567.9 604.1)rotate(84)scale(1.31 1.55)"/>
<use href="#fD1" transform="translate(614.4 625.0)rotate(33)scale(1.17 1.6)"/>
<use href="#fD0" transform="translate(530.7 609.3)rotate(57)scale(1.11 1.52)"/>
<use href="#fD0" transform="translate(491.7 632.7)rotate(166)scale(1.04 1.43)"/>
<use href="#fD0" transform="translate(473.4 603.5)rotate(88)scale(1.07 1.37)"/>
<use href="#fD1" transform="translate(484.0 613.8)rotate(151)scale(1.28 1.37)"/>
<use href="#fD1" transform="translate(650.8 584.1)rotate(104)scale(1.34 1.25)"/>
<use href="#fD1" transform="translate(565.0 571.5)rotate(75)scale(1.36 1.33)"/>
<use href="#fD0" transform="translate(603.1 571.6)rotate(65)scale(1.33 1.38)"/>
<use href="#fD1" transform="translate(519.6 568.7)rotate(86)scale(1.29 1.24)"/>
<use href="#fD0" transform="translate(585.8 576.0)rotate(58)scale(1.28 1.5)"/>
<use href="#fD0" transform="translate(517.4 574.2)rotate(123)scale(1.16 1.3)"/>
<use href="#fD0" transform="translate(542.1 561.1)rotate(81)scale(1.29 1.53)"/>
<use href="#fD0" transform="translate(512.7 592.6)rotate(159)scale(1.03 1.57)"/>
<use href="#fD0" transform="translate(478.9 562.4)rotate(101)scale(1.18 1.3)"/>
<use href="#fD0" transform="translate(581.5 563.4)rotate(69)scale(1.18 1.25)"/>
<use href="#fD1" transform="translate(587.5 573.3)rotate(45)scale(1.01 1.23)"/>
<use href="#fD0" transform="translate(518.3 552.6)rotate(48)scale(1.25 1.58)"/>
<use href="#fD0" transform="translate(522.7 546.7)rotate(99)scale(1.05 1.23)"/>
<use href="#fD1" transform="translate(517.4 550.9)rotate(129)scale(1.14 1.25)"/>
<use href="#fD1" transform="translate(581.8 538.3)rotate(79)scale(1.21 1.53)"/>
<use href="#fD0" transform="translate(549.6 533.7)rotate(69)scale(1.38 1.33)"/>
<use href="#fD0" transform="translate(533.7 555.1)rotate(42)scale(1.03 1.25)"/>
<use href="#fD0" transform="translate(514.9 542.9)rotate(126)scale(1.07 1.4)"/>
<use href="#fD1" transform="translate(571.0 531.7)rotate(88)scale(1.18 1.4)"/>
<use href="#fD1" transform="translate(517.6 532.0)rotate(76)scale(1.18 1.54)"/>
<use href="#fD1" transform="translate(600.5 545.9)rotate(40)scale(1.13 1.44)"/>
<use href="#fD1" transform="translate(603.5 548.5)rotate(15)scale(1.36 1.44)"/>
<use href="#fD0" transform="translate(585.8 523.3)rotate(57)scale(1.22 1.57)"/>
<use href="#fD1" transform="translate(554.9 519.7)rotate(57)scale(1.3 1.53)"/>
<use href="#fD1" transform="translate(516.4 511.9)rotate(122)scale(1.38 1.31)"/>
<use href="#fD0" transform="translate(551.4 532.5)rotate(29)scale(1.16 1.45)"/>
<use href="#fD1" transform="translate(591.1 502.8)rotate(82)scale(1.16 1.39)"/>
<use href="#fD0" transform="translate(498.1 491.6)rotate(71)scale(1.27 1.41)"/>
<use href="#fD0" transform="translate(485.3 499.1)rotate(122)scale(1.15 1.34)"/>
<use href="#fD0" transform="translate(480.9 480.9)rotate(94)scale(1.4 1.32)"/>
<use href="#fD1" transform="translate(548.0 534.2)rotate(-173)scale(.86 .9)"/>
<use href="#fD0" transform="translate(502.5 526.4)rotate(-180)scale(.71 .9)"/>
<use href="#fD1" transform="translate(561.5 479.3)rotate(91)scale(1.3 1.31)"/>
<use href="#fD0" transform="translate(530.6 486.4)rotate(60)scale(1.27 1.25)"/>
<use href="#fD0" transform="translate(526.9 523.8)rotate(-184)scale(.89 .9)"/>
<use href="#fD1" transform="translate(485.1 523.6)rotate(-184)scale(.76 .9)"/>
<use href="#fD1" transform="translate(518.2 529.3)rotate(-7)scale(.85 .9)"/>
<use href="#fD0" transform="translate(518.3 486.9)rotate(90)scale(1.06 1.45)"/>
<use href="#fD1" transform="translate(562.1 479.4)rotate(100)scale(1.29 1.21)"/>
<use href="#fD0" transform="translate(603.7 524.7)rotate(-1)scale(.73 .9)"/>
<use href="#fD0" transform="translate(585.9 525.5)rotate(-5)scale(.72 .9)"/>
<use href="#fD1" transform="translate(538.4 523.9)rotate(-2)scale(.94 .9)"/>
<use href="#fD0" transform="translate(563.2 522.3)rotate(-0)scale(.84 .9)"/>
<use href="#fD1" transform="translate(499.0 482.9)rotate(128)scale(1.35 1.43)"/>
<use href="#fD1" transform="translate(603.3 529.6)rotate(-13)scale(1.19 1.34)"/>
<use href="#fD1" transform="translate(536.8 481.2)rotate(99)scale(1.06 1.56)"/>
<use href="#fD0" transform="translate(584.2 492.4)rotate(35)scale(1.14 1.23)"/>
<use href="#fD1" transform="translate(576.3 509.0)rotate(2)scale(.77 .9)"/>
<use href="#fD0" transform="translate(537.2 509.8)rotate(-1)scale(.81 .9)"/>
<use href="#fD0" transform="translate(558.5 509.0)rotate(-0)scale(.73 .9)"/>
<use href="#fD0" transform="translate(594.5 506.1)rotate(4)scale(.9)"/>
<use href="#fD0" transform="translate(617.7 509.7)rotate(-4)scale(.84 .9)"/>
<use href="#fD0" transform="translate(514.1 468.7)rotate(133)scale(1.34 1.43)"/>
<use href="#fD0" transform="translate(556.9 509.1)rotate(-168)scale(.95 .9)"/>
<use href="#fD0" transform="translate(524.8 504.6)rotate(-8)scale(.7 .9)"/>
<use href="#fD1" transform="translate(519.0 458.7)rotate(60)scale(1.36 1.59)"/>
<use href="#fD0" transform="translate(530.6 506.6)rotate(-165)scale(.73 .9)"/>
<use href="#fD0" transform="translate(539.9 498.7)rotate(-1)scale(.91 .9)"/>
<use href="#fD0" transform="translate(547.1 452.9)rotate(100)scale(1.27 1.42)"/>
<use href="#fD1" transform="translate(513.4 497.0)rotate(-178)scale(.75 .9)"/>
<use href="#fD0" transform="translate(525.7 455.0)rotate(99)scale(1.07 1.53)"/>
<use href="#fD1" transform="translate(591.1 460.9)rotate(60)scale(1.03 1.37)"/>
<use href="#fD1" transform="translate(562.5 497.1)rotate(-8)scale(.94 .9)"/>
<use href="#fD0" transform="translate(496.8 491.4)rotate(-180)scale(.93 .9)"/>
<use href="#fD1" transform="translate(588.2 494.6)rotate(-10)scale(.73 .9)"/>
<use href="#fD1" transform="translate(494.0 444.1)rotate(90)scale(1.28)"/>
<use href="#fD0" transform="translate(606.1 493.5)rotate(-13)scale(.79 .9)"/>
<use href="#fD1" transform="translate(472.6 440.3)rotate(101)scale(1.26 1.24)"/>
<use href="#fD0" transform="translate(545.9 489.5)rotate(-165)scale(.78 .9)"/>
<use href="#fD0" transform="translate(484.5 444.6)rotate(116)scale(1.12 1.42)"/>
<use href="#fD1" transform="translate(526.7 480.9)rotate(-178)scale(.74 .9)"/>
<use href="#fD1" transform="translate(530.8 480.5)rotate(-2)scale(.88 .9)"/>
<use href="#fD0" transform="translate(508.5 480.1)rotate(-176)scale(.77 .9)"/>
<use href="#fD1" transform="translate(554.6 477.3)rotate(-1)scale(.71 .9)"/>
<use href="#fD1" transform="translate(544.8 471.0)rotate(5)scale(1.37 1.45)"/>
<use href="#fD1" transform="translate(571.8 478.6)rotate(-8)scale(.77 .9)"/>
<use href="#fD1" transform="translate(590.4 473.2)rotate(2)scale(.82 .9)"/>
<use href="#fD1" transform="translate(489.1 477.7)rotate(-170)scale(.79 .9)"/>
<use href="#fD0" transform="translate(570.4 433.8)rotate(123)scale(1.27 1.47)"/>
<use href="#fD0" transform="translate(528.1 477.6)rotate(-11)scale(.8 .9)"/>
<use href="#fD0" transform="translate(611.7 474.1)rotate(-6)scale(.76 .9)"/>
<use href="#fD1" transform="translate(546.9 469.4)rotate(-176)scale(.78 .9)"/>
<use href="#fD0" transform="translate(546.3 472.9)rotate(-11)scale(.94 .9)"/>
<use href="#fD1" transform="translate(511.6 443.4)rotate(29)scale(1.14 1.2)"/>
<use href="#fD0" transform="translate(526.6 465.7)rotate(-172)scale(.71 .9)"/>
<use href="#fD0" transform="translate(570.0 466.0)rotate(-10)scale(.89 .9)"/>
<use href="#fD0" transform="translate(509.8 466.7)rotate(-165)scale(.84 .9)"/>
<use href="#fD0" transform="translate(495.0 437.0)rotate(152)scale(1.25 1.47)"/>
<use href="#fD0" transform="translate(556.9 425.7)rotate(53)scale(1.12 1.31)"/>
<use href="#fD1" transform="translate(592.5 466.7)rotate(-17)scale(.9)"/>
<use href="#fD1" transform="translate(520.0 461.1)rotate(-8)scale(.81 .9)"/>
<use href="#fD0" transform="translate(490.0 462.4)rotate(-170)scale(.89 .9)"/>
<use href="#fD1" transform="translate(539.1 430.3)rotate(33)scale(1.31 1.56)"/>
<use href="#fD0" transform="translate(539.8 460.2)rotate(-172)scale(.92 .9)"/>
<use href="#fD1" transform="translate(514.4 458.8)rotate(-169)scale(.71 .9)"/>
<use href="#fD1" transform="translate(539.7 457.4)rotate(-12)scale(.86 .9)"/>
<use href="#fD1" transform="translate(471.9 403.9)rotate(83)scale(1.32 1.36)"/>
<use href="#fD1" transform="translate(496.7 454.7)rotate(-171)scale(.7 .9)"/>
<use href="#fD1" transform="translate(542.3 460.5)rotate(-159)scale(.85 .9)"/>
<use href="#fD0" transform="translate(561.9 455.5)rotate(-14)scale(.79 .9)"/>
<use href="#fD0" transform="translate(580.5 449.0)rotate(-7)scale(.81 .9)"/>
<use href="#fD0" transform="translate(523.3 449.5)rotate(-171)scale(.82 .9)"/>
<use href="#fD0" transform="translate(480.9 449.2)rotate(-172)scale(.85 .9)"/>
<use href="#fD0" transform="translate(537.6 450.1)rotate(-16)scale(.94 .9)"/>
<use href="#fD1" transform="translate(561.5 448.2)rotate(-16)scale(.87 .9)"/>
<use href="#fD1" transform="translate(599.7 441.2)rotate(-5)scale(.87 .9)"/>
<use href="#fD0" transform="translate(504.5 445.0)rotate(-168)scale(.92 .9)"/>
<use href="#fD1" transform="translate(583.3 441.9)rotate(-13)scale(.81 .9)"/>
<use href="#fD0" transform="translate(508.5 407.7)rotate(144)scale(1.28 1.58)"/>
<use href="#fD1" transform="translate(480.0 438.1)rotate(-170)scale(.71 .9)"/>
<use href="#fD1" transform="translate(509.9 392.9)rotate(126)scale(1.38 1.44)"/>
<use href="#fD0" transform="translate(602.4 437.3)rotate(-16)scale(.94 .9)"/>
<use href="#fD0" transform="translate(535.0 434.0)rotate(-167)scale(.75 .9)"/>
<use href="#fD0" transform="translate(517.2 429.9)rotate(-167)scale(.81 .9)"/>
<use href="#fD1" transform="translate(542.9 431.5)rotate(-153)scale(.79 .9)"/>
<use href="#fD1" transform="translate(496.3 422.7)rotate(-170)scale(.7 .9)"/>
<use href="#fD1" transform="translate(524.9 427.7)rotate(-155)scale(.82 .9)"/>
<use href="#fD1" transform="translate(537.9 421.5)rotate(-15)scale(.73 .9)"/>
<use href="#fD0" transform="translate(479.8 422.4)rotate(-162)scale(.87 .9)"/>
<use href="#fD0" transform="translate(554.5 413.3)rotate(-6)scale(.79 .9)"/>
<use href="#fD0" transform="translate(572.7 413.9)rotate(-14)scale(.94 .9)"/>
<use href="#fD0" transform="translate(506.8 415.5)rotate(-159)scale(.87 .9)"/>
<use href="#fD1" transform="translate(596.8 405.7)rotate(-11)scale(.82 .9)"/>
<use href="#fD0" transform="translate(486.6 406.6)rotate(-167)scale(.82 .9)"/>
<use href="#fD1" transform="translate(539.3 410.6)rotate(-154)scale(.77 .9)"/>
<use href="#fD1" transform="translate(523.9 398.0)rotate(-168)scale(.82 .9)"/>
<use href="#fD0" transform="translate(505.5 390.9)rotate(-166)scale(.93 .9)"/>
<use href="#fD0" transform="translate(533.0 386.9)rotate(-12)scale(.71 .9)"/>
<use href="#fD1" transform="translate(551.1 386.8)rotate(-23)scale(.74 .9)"/>
<use href="#fD0" transform="translate(568.2 384.1)rotate(-23)scale(.85 .9)"/>
<use href="#fD1" transform="translate(545.3 384.1)rotate(-150)scale(.89 .9)"/>
<use href="#fD1" transform="translate(587.5 374.2)rotate(-20)scale(.89 .9)"/>
<use href="#fD0" transform="translate(527.5 368.4)rotate(-165)scale(.87 .9)"/>
<use href="#fD1" transform="translate(505.3 362.0)rotate(-162)scale(.76 .9)"/>
<use href="#fD1" transform="translate(527.8 359.4)rotate(-18)scale(.77 .9)"/>
<use href="#fD1" transform="translate(545.8 359.0)rotate(-26)scale(.95 .9)"/>
<use href="#fD0" transform="translate(548.6 352.0)rotate(-161)scale(.79 .9)"/>
<use href="#fD0" transform="translate(530.2 341.8)rotate(-171)scale(.76 .9)"/>
<use href="#fD1" transform="translate(527.3 343.8)rotate(-14)scale(.8 .9)"/>
<use href="#fD1" transform="translate(568.9 346.8)rotate(-23)scale(.81 .9)"/>
<use href="#fD0" transform="translate(511.1 342.5)rotate(-158)scale(.87 .9)"/>
<use href="#fD1" transform="translate(547.1 333.3)rotate(-8)scale(.71 .9)"/>
<use href="#fD0" transform="translate(588.5 340.7)rotate(-25)scale(.83 .9)"/>
<use href="#fD0" transform="translate(564.8 338.0)rotate(-23)scale(.85 .9)"/>
<use href="#fD0" transform="translate(549.5 332.6)rotate(-160)scale(.87 .9)"/>
<use href="#fD0" transform="translate(527.4 328.4)rotate(-160)scale(.78 .9)"/>
<use href="#fD0" transform="translate(586.0 327.5)rotate(-22)scale(.74 .9)"/>
<use href="#fD1" transform="translate(509.0 321.6)rotate(-165)scale(.79 .9)"/>
<use href="#fD1" transform="translate(540.2 318.2)rotate(-156)scale(.82 .9)"/>
<use href="#fD0" transform="translate(520.5 313.5)rotate(-154)scale(.87 .9)"/>
<use href="#fD0" transform="translate(544.5 303.9)rotate(-156)scale(.91 .9)"/>
<use href="#fD0" transform="translate(522.0 297.2)rotate(-154)scale(.83 .9)"/>
<use href="#fD1" transform="translate(548.6 278.3)rotate(-170)scale(.87 .9)"/>
<use href="#fD1" transform="translate(525.9 279.3)rotate(-162)scale(.84 .9)"/>
<use href="#fD0" transform="translate(518.5 275.2)rotate(-22)scale(.82 .9)"/>
<use href="#fD0" transform="translate(552.4 271.4)rotate(-159)scale(.83 .9)"/>
<use href="#fD0" transform="translate(538.6 268.4)rotate(-22)scale(.74 .9)"/>
<use href="#fD0" transform="translate(534.6 262.1)rotate(-165)scale(.91 .9)"/>
<use href="#fD0" transform="translate(554.8 261.6)rotate(-20)scale(.86 .9)"/>
<use href="#fD0" transform="translate(520.3 251.1)rotate(-18)scale(.94 .9)"/>
<use href="#fD1" transform="translate(543.4 243.9)rotate(-17)scale(.82 .9)"/>
<use href="#fD0" transform="translate(541.9 242.0)rotate(-158)scale(.84 .9)"/>
<use href="#fD1" transform="translate(517.7 235.5)rotate(-16)scale(.88 .9)"/>
<use href="#fD1" transform="translate(539.9 232.3)rotate(-21)scale(.79 .9)"/>
<use href="#fD1" transform="translate(520.9 228.4)rotate(-25)scale(.83 .9)"/>
<use href="#fD0" transform="translate(537.9 218.2)rotate(-20)scale(.94 .9)"/>
<use href="#fM1" transform="translate(499.6 797.5)rotate(122)scale(1.19 1.5)"/>
<use href="#fM1" transform="translate(504.2 785.9)rotate(105)scale(1.33 1.22)"/>
<use href="#fM0" transform="translate(498.6 796.2)rotate(125)scale(1.17 1.31)"/>
<use href="#fM1" transform="translate(528.9 790.3)rotate(56)scale(1.09 1.53)"/>
<use href="#fM1" transform="translate(572.0 776.8)rotate(85)scale(1.23 1.55)"/>
<use href="#fM0" transform="translate(527.3 774.3)rotate(116)scale(1.38)"/>
<use href="#fM1" transform="translate(497.0 776.7)rotate(133)scale(1.37 1.45)"/>
<use href="#fM1" transform="translate(479.7 779.5)rotate(122)scale(1.06 1.34)"/>
<use href="#fM1" transform="translate(561.2 767.5)rotate(112)scale(1.12 1.29)"/>
<use href="#fM1" transform="translate(610.4 798.8)rotate(8)scale(1.06 1.42)"/>
<use href="#fM0" transform="translate(490.7 793.7)rotate(168)scale(1.38 1.34)"/>
<use href="#fM1" transform="translate(558.1 752.4)rotate(69)scale(1.39 1.27)"/>
<use href="#fM1" transform="translate(629.0 775.4)rotate(21)scale(1.15 1.46)"/>
<use href="#fM0" transform="translate(541.3 741.4)rotate(76)scale(1.3 1.55)"/>
<use href="#fM0" transform="translate(531.3 757.2)rotate(133)scale(1.01 1.34)"/>
<use href="#fM1" transform="translate(469.6 739.4)rotate(76)scale(1.22 1.2)"/>
<use href="#fM1" transform="translate(509.0 738.9)rotate(80)scale(1.16 1.22)"/>
<use href="#fM1" transform="translate(517.6 748.2)rotate(126)scale(1.06 1.25)"/>
<use href="#fM0" transform="translate(626.7 748.1)rotate(40)scale(1.08 1.53)"/>
<use href="#fM1" transform="translate(528.7 726.6)rotate(64)scale(1.4 1.42)"/>
<use href="#fM0" transform="translate(547.1 717.5)rotate(53)scale(1.38 1.27)"/>
<use href="#fM1" transform="translate(479.4 754.8)rotate(177)scale(1.25 1.36)"/>
<use href="#fM1" transform="translate(470.4 720.6)rotate(99)scale(1.03 1.23)"/>
<use href="#fM1" transform="translate(512.4 726.5)rotate(139)scale(1.25 1.56)"/>
<use href="#fM1" transform="translate(567.7 714.7)rotate(82)scale(1.1 1.45)"/>
<use href="#fM0" transform="translate(625.4 720.3)rotate(39)scale(1.17 1.56)"/>
<use href="#fM0" transform="translate(462.4 710.5)rotate(129)scale(1.13 1.59)"/>
<use href="#fM0" transform="translate(443.7 703.0)rotate(105)scale(1.03 1.5)"/>
<use href="#fM1" transform="translate(493.5 699.4)rotate(127)scale(1.23 1.54)"/>
<use href="#fM0" transform="translate(613.7 764.3)rotate(-36)scale(1.38 1.37)"/>
<use href="#fM0" transform="translate(452.2 685.3)rotate(117)scale(1.3 1.28)"/>
<use href="#fM1" transform="translate(527.2 691.9)rotate(57)scale(1.16 1.57)"/>
<use href="#fM1" transform="translate(621.2 704.7)rotate(29)scale(1.27 1.33)"/>
<use href="#fM1" transform="translate(506.8 683.7)rotate(108)scale(1.17 1.59)"/>
<use href="#fM0" transform="translate(483.3 672.4)rotate(70)scale(1.32 1.47)"/>
<use href="#fM0" transform="translate(593.1 672.0)rotate(82)scale(1.23 1.43)"/>
<use href="#fM1" transform="translate(641.4 674.3)rotate(68)scale(1.07 1.55)"/>
<use href="#fM0" transform="translate(597.5 675.5)rotate(43)scale(1.04 1.23)"/>
<use href="#fM1" transform="translate(464.4 663.8)rotate(91)scale(1.03 1.43)"/>
<use href="#fM0" transform="translate(622.5 676.2)rotate(22)scale(1.27 1.28)"/>
<use href="#fM1" transform="translate(479.0 645.4)rotate(104)scale(1.33 1.23)"/>
<use href="#fM0" transform="translate(495.7 664.5)rotate(154)scale(1.29 1.26)"/>
<use href="#fM1" transform="translate(507.8 644.1)rotate(75)scale(1.06 1.37)"/>
<use href="#fM1" transform="translate(524.2 637.7)rotate(112)scale(1.14 1.57)"/>
<use href="#fM1" transform="translate(523.9 624.4)rotate(76)scale(1.37 1.46)"/>
<use href="#fM0" transform="translate(546.3 646.8)rotate(42)scale(1.05 1.38)"/>
<use href="#fM1" transform="translate(563.9 629.0)rotate(119)scale(1.17 1.42)"/>
<use href="#fM0" transform="translate(518.0 607.9)rotate(86)scale(1.31 1.56)"/>
<use href="#fM0" transform="translate(482.3 605.8)rotate(109)scale(1.32 1.51)"/>
<use href="#fM1" transform="translate(507.1 618.1)rotate(121)scale(1.06 1.36)"/>
<use href="#fM0" transform="translate(624.5 605.5)rotate(66)scale(1.33 1.27)"/>
<use href="#fM1" transform="translate(548.3 629.7)rotate(167)scale(1.25)"/>
<use href="#fM1" transform="translate(588.7 594.6)rotate(95)scale(1.13 1.48)"/>
<use href="#fM0" transform="translate(531.1 593.2)rotate(94)scale(1.14 1.29)"/>
<use href="#fM0" transform="translate(600.0 607.8)rotate(32)scale(1.37 1.44)"/>
<use href="#fM0" transform="translate(539.2 624.7)rotate(11)scale(1.35 1.43)"/>
<use href="#fM1" transform="translate(594.6 599.7)rotate(47)scale(1.25 1.24)"/>
<use href="#fM1" transform="translate(469.9 589.7)rotate(121)scale(1.08 1.22)"/>
<use href="#fM0" transform="translate(519.4 585.6)rotate(109)scale(1.04 1.23)"/>
<use href="#fM1" transform="translate(614.4 597.3)rotate(30)scale(1.08 1.5)"/>
<use href="#fM0" transform="translate(464.5 578.0)rotate(121)scale(1.26 1.36)"/>
<use href="#fM0" transform="translate(600.2 575.7)rotate(64)scale(1.19 1.24)"/>
<use href="#fM1" transform="translate(488.9 584.0)rotate(137)scale(1.11 1.41)"/>
<use href="#fM1" transform="translate(575.2 588.9)rotate(31)scale(1.15 1.5)"/>
<use href="#fM1" transform="translate(581.2 580.7)rotate(35)scale(1.32 1.28)"/>
<use href="#fM1" transform="translate(572.2 560.0)rotate(85)scale(1.12 1.24)"/>
<use href="#fM1" transform="translate(467.3 568.3)rotate(121)scale(1.03 1.5)"/>
<use href="#fM1" transform="translate(498.3 564.7)rotate(57)scale(1.14 1.26)"/>
<use href="#fM0" transform="translate(517.7 549.5)rotate(83)scale(1.16 1.22)"/>
<use href="#fM1" transform="translate(601.7 547.3)rotate(66)scale(1.3 1.49)"/>
<use href="#fM0" transform="translate(485.6 560.7)rotate(151)scale(1.1 1.56)"/>
<use href="#fM0" transform="translate(512.4 539.2)rotate(116)scale(1.26 1.41)"/>
<use href="#fM0" transform="translate(586.6 524.6)rotate(82)scale(1.33 1.55)"/>
<use href="#fM0" transform="translate(498.3 530.7)rotate(109)scale(1.04 1.25)"/>
<use href="#fM1" transform="translate(569.9 532.0)rotate(42)scale(1.13 1.57)"/>
<use href="#fM0" transform="translate(520.8 520.7)rotate(110)scale(1.1 1.32)"/>
<use href="#fM1" transform="translate(504.5 520.1)rotate(75)scale(1.06 1.47)"/>
<use href="#fM0" transform="translate(602.8 519.4)rotate(73)scale(1.01 1.44)"/>
<use href="#fM0" transform="translate(589.8 497.3)rotate(75)scale(1.4 1.55)"/>
<use href="#fM0" transform="translate(534.1 510.7)rotate(122)scale(1.06 1.33)"/>
<use href="#fM0" transform="translate(489.4 542.2)rotate(182)scale(1.19 1.26)"/>
<use href="#fM0" transform="translate(517.3 494.9)rotate(103)scale(1.2 1.29)"/>
<use href="#fM0" transform="translate(581.0 508.7)rotate(26)scale(1.4 1.2)"/>
<use href="#fM1" transform="translate(607.7 501.4)rotate(39)scale(1.27 1.49)"/>
<use href="#fM1" transform="translate(545.4 493.8)rotate(50)scale(1.1 1.34)"/>
<use href="#fM0" transform="translate(527.0 490.7)rotate(123)scale(1.07 1.3)"/>
<use href="#fM0" transform="translate(579.2 470.7)rotate(88)scale(1.34 1.55)"/>
<use href="#fM0" transform="translate(528.0 491.4)rotate(139)scale(1.16 1.53)"/>
<use href="#fM0" transform="translate(569.3 464.2)rotate(89)scale(1.1 1.38)"/>
<use href="#fM0" transform="translate(576.6 458.4)rotate(65)scale(1.33 1.24)"/>
<use href="#fM1" transform="translate(573.4 449.3)rotate(47)scale(1.05 1.2)"/>
<use href="#fM1" transform="translate(584.9 464.3)rotate(17)scale(1.03 1.37)"/>
<use href="#fM1" transform="translate(541.0 426.5)rotate(99)scale(1.25 1.57)"/>
<use href="#fM0" transform="translate(505.7 457.8)rotate(176)scale(1.19 1.26)"/>
<use href="#fM0" transform="translate(499.5 406.1)rotate(68)scale(1.07 1.4)"/>
<use href="#c0" transform="translate(475.8 837.0)rotate(124)scale(1.21 -1.21)"/>
<use href="#c6" transform="translate(547.2 836.0)rotate(81)scale(1.05)"/>
<use href="#c4" transform="translate(661.3 835.0)rotate(-28)scale(1.1)"/>
<use href="#c0" transform="translate(507.1 834.0)rotate(136)scale(.85 -.85)"/>
<use href="#c2" transform="translate(551.2 833.0)rotate(62)scale(.84)"/>
<use href="#c3" transform="translate(602.0 832.0)rotate(13)scale(1.14)"/>
<use href="#c4" transform="translate(613.5 831.0)rotate(9)scale(1.36)"/>
<use href="#fL1" transform="translate(631.5 825.9)rotate(7)scale(1.15 1.55)"/>
<use href="#fM1" transform="translate(454.5 805.8)rotate(144)scale(1.08 1.27)"/>
<use href="#c1" transform="translate(538.5 826.0)rotate(116)scale(.75 -.75)"/>
<use href="#c3" transform="translate(567.9 825.0)rotate(63)scale(.99)"/>
<use href="#fM0" transform="translate(636.7 787.8)rotate(40)scale(1.25 1.47)"/>
<use href="#fM1" transform="translate(442.6 800.6)rotate(160)scale(1.02 1.31)"/>
<use href="#c2" transform="translate(643.2 813.0)rotate(60)scale(1.26)"/>
<use href="#c3" transform="translate(455.3 811.0)rotate(134)scale(1.34 -1.34)"/>
<use href="#fM0" transform="translate(459.0 811.4)rotate(181)scale(1.5 1.22)"/>
<use href="#c3" transform="translate(599.2 808.0)rotate(86)scale(1.04)"/>
<use href="#c1" transform="translate(508.6 806.0)rotate(110)scale(1.11 -1.11)"/>
<use href="#fM0" transform="translate(622.9 783.2)rotate(27)scale(1.35 1.46)"/>
<use href="#c7" transform="translate(484.2 804.0)rotate(115)scale(.88 -.88)"/>
<use href="#c3" transform="translate(436.5 803.0)rotate(155)scale(1.42 -1.42)"/>
<use href="#c7" transform="translate(480.5 803.0)rotate(121)scale(1.17 -1.17)"/>
<use href="#c1" transform="translate(481.8 802.0)rotate(78)scale(1.36)"/>
<use href="#c6" transform="translate(593.8 800.0)rotate(64)scale(1.04)"/>
<use href="#c7" transform="translate(401.6 799.0)rotate(176)scale(1.26 -1.26)"/>
<use href="#c0" transform="translate(562.4 796.0)rotate(52)scale(.82)"/>
<use href="#c2" transform="translate(505.1 796.0)rotate(85)scale(1.01)"/>
<use href="#fM0" transform="translate(641.9 772.2)rotate(31)scale(1.25 1.32)"/>
<use href="#c6" transform="translate(490.0 793.0)rotate(120)scale(1.07 -1.07)"/>
<use href="#c3" transform="translate(446.7 792.0)rotate(134)scale(1.21 -1.21)"/>
<use href="#c7" transform="translate(588.9 791.0)rotate(41)scale(.96)"/>
<use href="#c6" transform="translate(628.3 786.0)rotate(64)scale(1.06)"/>
<use href="#c1" transform="translate(553.5 785.0)rotate(81)"/>
<use href="#c0" transform="translate(511.6 783.0)rotate(102)scale(1.14 -1.14)"/>
<use href="#c2" transform="translate(489.9 781.0)rotate(94)scale(1.3 -1.3)"/>
<use href="#c4" transform="translate(445.5 778.0)rotate(122)scale(1.31 -1.31)"/>
<use href="#c3" transform="translate(453.6 773.0)rotate(150)scale(1.21 -1.21)"/>
<use href="#c0" transform="translate(643.1 770.0)rotate(23)scale(1.24)"/>
<use href="#fM0" transform="translate(644.9 757.0)rotate(19)scale(1.02 1.45)"/>
<use href="#c0" transform="translate(663.3 768.0)rotate(30)scale(1.11)"/>
<use href="#s5" transform="translate(549.0 766.0)rotate(76)scale(.96)"/>
<use href="#s7" transform="translate(559.4 764.0)rotate(84)scale(1.04)"/>
<use href="#fM1" transform="translate(458.0 756.6)rotate(171)scale(1.18 1.22)"/>
<use href="#s2" transform="translate(550.8 760.0)rotate(83)scale(1.14)"/>
<use href="#c3" transform="translate(651.0 760.0)rotate(34)scale(1.37)"/>
<use href="#s6" transform="translate(582.6 760.0)rotate(84)scale(1.2)"/>
<use href="#s3" transform="translate(458.3 759.0)rotate(118)scale(1.06 -1.06)"/>
<use href="#s0" transform="translate(576.4 758.0)rotate(57)scale(1.17)"/>
<use href="#s1" transform="translate(575.7 757.0)rotate(52)scale(1.09)"/>
<use href="#fM1" transform="translate(632.5 734.6)rotate(24)scale(1.36 1.23)"/>
<use href="#c4" transform="translate(436.0 753.0)rotate(135)scale(1.15 -1.15)"/>
<use href="#s1" transform="translate(507.0 752.0)rotate(125)scale(1.23 -1.23)"/>
<use href="#c5" transform="translate(425.8 751.0)rotate(162)scale(1.37 -1.37)"/>
<use href="#s3" transform="translate(608.1 750.0)rotate(41)scale(1.33)"/>
<use href="#s1" transform="translate(578.3 749.0)rotate(86)scale(1.03)"/>
<use href="#s3" transform="translate(455.1 749.0)rotate(114)scale(1.39 -1.39)"/>
<use href="#s6" transform="translate(453.0 745.0)rotate(144)scale(1.22 -1.22)"/>
<use href="#s6" transform="translate(529.7 745.0)rotate(105)scale(1.18 -1.18)"/>
<use href="#s5" transform="translate(454.7 743.0)rotate(139)scale(1.17 -1.17)"/>
<use href="#s2" transform="translate(458.4 743.0)rotate(131)scale(1.35 -1.35)"/>
<use href="#c3" transform="translate(664.5 736.0)rotate(36)scale(1.41)"/>
<use href="#fM0" transform="translate(644.7 724.2)rotate(17)scale(1.07 1.37)"/>
<use href="#s2" transform="translate(575.1 732.0)rotate(34)scale(1.09)"/>
<use href="#s0" transform="translate(582.6 729.0)rotate(44)scale(1.16)"/>
<use href="#fM1" transform="translate(637.0 715.6)rotate(15)scale(1.36 1.23)"/>
<use href="#s7" transform="translate(612.0 725.0)rotate(54)scale(1.09)"/>
<use href="#c1" transform="translate(428.8 723.0)rotate(138)scale(1.29 -1.29)"/>
<use href="#c0" transform="translate(442.4 723.0)rotate(153)scale(1.28 -1.28)"/>
<use href="#s3" transform="translate(507.5 718.0)rotate(121)scale(.85 -.85)"/>
<use href="#s6" transform="translate(607.8 717.0)rotate(67)scale(1.12)"/>
<use href="#fL0" transform="translate(637.1 705.9)rotate(16)scale(1.1 1.49)"/>
<use href="#fL1" transform="translate(448.2 710.2)rotate(172)scale(1.13 1.51)"/>
<use href="#s5" transform="translate(452.5 716.0)rotate(132)scale(1.42 -1.42)"/>
<use href="#c7" transform="translate(422.6 716.0)rotate(152)scale(1.28 -1.28)"/>
<use href="#s7" transform="translate(476.9 715.0)rotate(134)scale(1.03 -1.03)"/>
<use href="#s7" transform="translate(494.7 712.0)rotate(132)scale(1.08 -1.08)"/>
<use href="#s7" transform="translate(485.1 709.0)rotate(101)scale(1.05 -1.05)"/>
<use href="#fM0" transform="translate(639.7 680.6)rotate(36)scale(1.25 1.54)"/>
<use href="#c3" transform="translate(661.4 706.0)rotate(35)scale(1.17)"/>
<use href="#fL1" transform="translate(449.0 685.4)rotate(151)scale(1.1 1.42)"/>
<use href="#c7" transform="translate(428.2 704.0)rotate(174)scale(1.3 -1.3)"/>
<use href="#s3" transform="translate(486.5 701.0)rotate(94)scale(1.2 -1.2)"/>
<use href="#s7" transform="translate(467.0 699.0)rotate(131)scale(1.1 -1.1)"/>
<use href="#s2" transform="translate(473.6 699.0)rotate(112)scale(1.21 -1.21)"/>
<use href="#c0" transform="translate(636.1 696.0)rotate(53)scale(1.29)"/>
<use href="#c7" transform="translate(645.6 694.0)rotate(10)scale(1.18)"/>
<use href="#c0" transform="translate(647.9 694.0)rotate(2)scale(1.22)"/>
<use href="#c4" transform="translate(625.6 690.0)rotate(37)scale(1.17)"/>
<use href="#s0" transform="translate(549.6 690.0)rotate(103)scale(1.05 -1.05)"/>
<use href="#fL1" transform="translate(455.0 675.6)rotate(162)scale(1.19 1.47)"/>
<use href="#fM0" transform="translate(638.4 667.9)rotate(24)scale(1.42 1.26)"/>
<use href="#s5" transform="translate(501.6 685.0)rotate(118)scale(1.04 -1.04)"/>
<use href="#s5" transform="translate(454.3 683.0)rotate(131)scale(1.26 -1.26)"/>
<use href="#s4" transform="translate(512.9 682.0)rotate(77)scale(.79)"/>
<use href="#fM0" transform="translate(644.7 648.3)rotate(38)scale(1.42 1.37)"/>
<use href="#c3" transform="translate(424.5 677.0)rotate(127)scale(1.11 -1.11)"/>
<use href="#fM0" transform="translate(455.8 661.5)rotate(160)scale(1 1.29)"/>
<use href="#c7" transform="translate(638.3 673.0)rotate(26)scale(1.18)"/>
<use href="#c5" transform="translate(629.8 665.0)rotate(29)scale(1.35)"/>
<use href="#c7" transform="translate(426.5 665.0)rotate(153)scale(1.39 -1.39)"/>
<use href="#s2" transform="translate(520.5 664.0)rotate(118)scale(.99 -.99)"/>
<use href="#c6" transform="translate(618.5 658.0)rotate(23)scale(1.13)"/>
<use href="#s1" transform="translate(540.6 656.0)rotate(54)scale(.83)"/>
<use href="#fM0" transform="translate(469.3 621.4)rotate(146)scale(1.49)"/>
<use href="#fM1" transform="translate(622.3 652.1)rotate(-1)scale(1.32 1.22)"/>
<use href="#s2" transform="translate(593.9 650.0)rotate(94)scale(1.11 -1.11)"/>
<use href="#c7" transform="translate(436.5 650.0)rotate(122)scale(1.13 -1.13)"/>
<use href="#s7" transform="translate(560.9 646.0)rotate(101)scale(.92 -.92)"/>
<use href="#s3" transform="translate(459.7 646.0)rotate(130)scale(1.15 -1.15)"/>
<use href="#s4" transform="translate(481.4 644.0)rotate(135)scale(1.02 -1.02)"/>
<use href="#s1" transform="translate(559.8 642.0)rotate(84)scale(.98)"/>
<use href="#c2" transform="translate(643.5 641.0)rotate(39)scale(1.25)"/>
<use href="#fL1" transform="translate(460.0 619.4)rotate(154)scale(1.15 1.4)"/>
<use href="#s2" transform="translate(603.3 633.0)rotate(50)scale(1.2)"/>
<use href="#s7" transform="translate(515.7 631.0)rotate(85)"/>
<use href="#s0" transform="translate(481.2 629.0)rotate(134)scale(1.1 -1.1)"/>
<use href="#c6" transform="translate(428.3 629.0)rotate(151)scale(1.15 -1.15)"/>
<use href="#c3" transform="translate(447.5 627.0)rotate(129)scale(1.08 -1.08)"/>
<use href="#s3" transform="translate(525.9 626.0)rotate(101)scale(.86 -.86)"/>
<use href="#c5" transform="translate(648.6 625.0)rotate(33)scale(1.39)"/>
<use href="#c1" transform="translate(426.5 625.0)rotate(143)scale(1.25 -1.25)"/>
<use href="#c6" transform="translate(439.7 625.0)rotate(137)scale(1.15 -1.15)"/>
<use href="#fM1" transform="translate(474.3 616.3)rotate(171)scale(1.31 1.32)"/>
<use href="#c3" transform="translate(668.6 616.0)rotate(4)scale(1.18)"/>
<use href="#s7" transform="translate(585.8 614.0)rotate(79)scale(.94)"/>
<use href="#s3" transform="translate(519.0 612.0)rotate(102)scale(1.07 -1.07)"/>
<use href="#s0" transform="translate(603.6 610.0)rotate(42)scale(1.18)"/>
<use href="#c7" transform="translate(451.3 609.0)rotate(148)scale(1.37 -1.37)"/>
<use href="#c5" transform="translate(438.3 606.0)rotate(159)scale(1.08 -1.08)"/>
<use href="#s2" transform="translate(594.2 605.0)rotate(76)scale(1.18)"/>
<use href="#s4" transform="translate(546.3 605.0)rotate(72)scale(.87)"/>
<use href="#s6" transform="translate(595.4 603.0)rotate(10)scale(1.02)"/>
<use href="#s0" transform="translate(566.5 601.0)rotate(41)scale(.93)"/>
<use href="#s3" transform="translate(585.0 598.0)rotate(43)scale(1.23)"/>
<use href="#s2" transform="translate(487.3 597.0)rotate(152)scale(1.24 -1.24)"/>
<use href="#s5" transform="translate(540.5 596.0)rotate(57)scale(1.16)"/>
<use href="#c3" transform="translate(623.9 596.0)rotate(27)scale(1.27)"/>
<use href="#fM0" transform="translate(455.8 568.5)rotate(143)scale(1.15 1.38)"/>
<use href="#fM0" transform="translate(633.0 568.6)rotate(33)scale(1.22 1.53)"/>
<use href="#c6" transform="translate(635.3 590.0)rotate(56)scale(1.38)"/>
<use href="#c3" transform="translate(660.1 582.0)rotate(41)scale(1.23)"/>
<use href="#s5" transform="translate(555.4 575.0)rotate(67)scale(1.13)"/>
<use href="#fL1" transform="translate(625.8 567.5)rotate(9)scale(1.23 1.56)"/>
<use href="#s6" transform="translate(569.5 568.0)rotate(79)scale(1.03)"/>
<use href="#c4" transform="translate(627.6 568.0)rotate(27)scale(1.42)"/>
<use href="#s3" transform="translate(607.7 565.0)rotate(41)scale(1.44)"/>
<use href="#c3" transform="translate(632.5 563.0)rotate(45)scale(1.33)"/>
<use href="#s3" transform="translate(475.2 556.0)rotate(131)scale(1.27 -1.27)"/>
<use href="#s7" transform="translate(533.8 555.0)rotate(78)scale(.92)"/>
<use href="#s6" transform="translate(491.9 552.0)rotate(114)scale(1.17 -1.17)"/>
<use href="#s5" transform="translate(568.8 551.0)rotate(51)scale(.96)"/>
<use href="#c5" transform="translate(639.4 550.0)rotate(51)scale(1.26)"/>
<use href="#s6" transform="translate(586.9 546.0)rotate(54)scale(1.19)"/>
<use href="#fM1" transform="translate(486.4 531.4)rotate(164)scale(1.46 1.46)"/>
<use href="#c6" transform="translate(607.9 545.0)rotate(-5)scale(1.44)"/>
<use href="#fM1" transform="translate(629.7 533.0)rotate(18)scale(1.01 1.5)"/>
<use href="#s5" transform="translate(510.6 542.0)rotate(112)scale(1.02 -1.02)"/>
<use href="#s4" transform="translate(533.3 541.0)rotate(96)scale(.85 -.85)"/>
<use href="#c4" transform="translate(443.0 540.0)rotate(144)scale(1.33 -1.33)"/>
<use href="#fM1" transform="translate(609.8 510.2)rotate(33)scale(1.47 1.44)"/>
<use href="#fM0" transform="translate(479.6 524.6)rotate(157)scale(1.01 1.43)"/>
<use href="#s1" transform="translate(572.1 536.0)rotate(72)scale(.99)"/>
<use href="#c4" transform="translate(615.6 536.0)rotate(30)scale(1.2)"/>
<use href="#s1" transform="translate(502.9 533.0)rotate(117)scale(1.28 -1.28)"/>
<use href="#s2" transform="translate(507.2 532.0)rotate(128)scale(1.13 -1.13)"/>
<use href="#c7" transform="translate(617.6 531.0)rotate(55)scale(1.09)"/>
<use href="#c4" transform="translate(457.5 531.0)rotate(119)scale(1.36 -1.36)"/>
<use href="#s2" transform="translate(475.8 529.0)rotate(153)scale(1.12 -1.12)"/>
<use href="#c2" transform="translate(449.0 528.0)rotate(126)scale(1.3 -1.3)"/>
<use href="#s1" transform="translate(530.9 526.0)rotate(64)scale(.89)"/>
<use href="#c6" transform="translate(642.4 525.0)rotate(48)scale(1.42)"/>
<use href="#s3" transform="translate(520.6 519.8)rotate(-177)scale(1.34 -1.34)"/>
<use href="#s5" transform="translate(520.5 522.0)rotate(105)scale(.95 -.95)"/>
<use href="#s1" transform="translate(580.8 522.0)rotate(56)scale(1.16)"/>
<use href="#c4" transform="translate(652.9 522.0)rotate(52)scale(1.2)"/>
<use href="#fM0" transform="translate(488.3 499.1)rotate(158)scale(1.48 1.35)"/>
<use href="#fM1" transform="translate(619.9 496.9)rotate(30)scale(1.22 1.24)"/>
<use href="#s3" transform="translate(605.7 514.0)rotate(30)scale(1.13)"/>
<use href="#c0" transform="translate(461.0 517.0)rotate(75)scale(1.23)"/>
<use href="#c5" transform="translate(648.3 516.0)rotate(-20)scale(1.23)"/>
<use href="#c0" transform="translate(623.4 515.0)rotate(35)scale(1.44)"/>
<use href="#s1" transform="translate(513.0 514.0)rotate(93)scale(1.01 -1.01)"/>
<use href="#c0" transform="translate(633.9 513.0)rotate(3)scale(1.32)"/>
<use href="#fL0" transform="translate(482.9 488.3)rotate(145)scale(1.18 1.29)"/>
<use href="#s4" transform="translate(594.6 512.0)rotate(29)scale(1.24)"/>
<use href="#fM1" transform="translate(613.8 499.2)rotate(16)scale(1.21 1.47)"/>
<use href="#v6" transform="translate(590.9 500.8)rotate(1)scale(.77)"/>
<use href="#c3" transform="translate(467.3 504.0)rotate(130)scale(1.29 -1.29)"/>
<use href="#s4" transform="translate(516.4 504.0)rotate(96)scale(.86 -.86)"/>
<use href="#fM1" transform="translate(490.2 469.4)rotate(144)scale(1.46 1.44)"/>
<use href="#c2" transform="translate(624.7 500.0)rotate(47)scale(1.2)"/>
<use href="#c4" transform="translate(632.3 499.0)rotate(75)scale(1.19)"/>
<use href="#c1" transform="translate(664.1 496.4)rotate(-2)scale(1.07)"/>
<use href="#fM0" transform="translate(619.5 462.2)rotate(39)scale(1.43 1.26)"/>
<use href="#c0" transform="translate(651.3 494.0)rotate(-3)scale(1.28)"/>
<use href="#s6" transform="translate(506.5 489.4)rotate(-163)scale(1 -1)"/>
<use href="#c1" transform="translate(462.8 492.0)rotate(102)scale(1.32 -1.32)"/>
<use href="#c5" transform="translate(651.9 492.0)rotate(-24)scale(1.35)"/>
<use href="#s7" transform="translate(573.2 487.5)rotate(-7)scale(1.2)"/>
<use href="#s2" transform="translate(600.6 491.0)rotate(65)scale(1.24)"/>
<use href="#c0" transform="translate(467.2 484.6)rotate(-178)scale(.98 -.98)"/>
<use href="#s7" transform="translate(564.5 488.0)rotate(55)scale(1.27)"/>
<use href="#s3" transform="translate(477.1 485.0)rotate(147)scale(1.27 -1.27)"/>
<use href="#c7" transform="translate(629.7 480.4)rotate(-2)scale(1.1)"/>
<use href="#fM0" transform="translate(614.2 474.1)rotate(12)scale(1.27 1.2)"/>
<use href="#fM1" transform="translate(474.1 462.5)rotate(146)scale(1.06 1.22)"/>
<use href="#s7" transform="translate(580.1 483.0)rotate(61)scale(1.27)"/>
<use href="#s5" transform="translate(505.7 483.0)rotate(80)scale(1.25)"/>
<use href="#c0" transform="translate(537.9 475.3)rotate(-205)scale(1.17 -1.17)"/>
<use href="#c5" transform="translate(651.3 477.6)rotate(-2)scale(1.12)"/>
<use href="#s0" transform="translate(520.9 473.2)rotate(-115)scale(.94 -.94)"/>
<use href="#fB1" transform="translate(486.0 489.2)rotate(213)scale(.51 .83)"/>
<use href="#fB1" transform="translate(592.3 494.9)rotate(-42)scale(.65 .86)"/>
<use href="#fB1" transform="translate(622.7 492.8)rotate(-54)scale(.46 .82)"/>
<use href="#fB0" transform="translate(553.7 493.0)rotate(-43)scale(.56 .87)"/>
<use href="#fB0" transform="translate(597.6 458.7)rotate(58)scale(.68 .7)"/>
<use href="#c1" transform="translate(639.2 476.0)rotate(21)scale(1.1)"/>
<use href="#v4" transform="translate(499.3 470.5)rotate(-169)scale(.87 -.87)"/>
<use href="#s4" transform="translate(481.1 468.2)rotate(-180)scale(.96 -.96)"/>
<use href="#s1" transform="translate(590.1 468.1)rotate(13)scale(1.24)"/>
<use href="#u4" transform="translate(461.6 465.8)rotate(-178)scale(.76 -.76)"/>
<use href="#s3" transform="translate(498.7 469.0)rotate(111)scale(1.05 -1.05)"/>
<use href="#c7" transform="translate(457.1 469.0)rotate(145)scale(1.43 -1.43)"/>
<use href="#s5" transform="translate(544.1 464.7)rotate(13)scale(1.04)"/>
<use href="#fB0" transform="translate(514.1 461.8)rotate(159)scale(.61 .76)"/>
<use href="#fB0" transform="translate(484.4 456.7)rotate(145)scale(.63 .71)"/>
<use href="#s5" transform="translate(563.7 460.3)rotate(-21)scale(1.17)"/>
<use href="#u5" transform="translate(444.5 463.7)rotate(-173)scale(.91 -.91)"/>
<use href="#c5" transform="translate(649.1 461.8)rotate(2)scale(1.05)"/>
<use href="#v2" transform="translate(581.7 456.3)rotate(4)scale(.81)"/>
<use href="#s3" transform="translate(494.8 460.0)rotate(161)scale(1.21 -1.21)"/>
<use href="#fB0" transform="translate(518.1 469.0)rotate(210)scale(.48 .75)"/>
<use href="#fB1" transform="translate(514.4 465.3)rotate(196)scale(.5 .81)"/>
<use href="#fB0" transform="translate(541.7 476.2)rotate(-56)scale(.53 .79)"/>
<use href="#fB0" transform="translate(567.1 459.6)rotate(3)scale(.45 .8)"/>
<use href="#v1" transform="translate(598.8 452.4)rotate(-13)scale(.87)"/>
<use href="#c0" transform="translate(462.7 456.0)rotate(161)scale(1.21 -1.21)"/>
<use href="#u4" transform="translate(534.4 451.8)rotate(6)scale(.8)"/>
<use href="#s3" transform="translate(529.5 451.3)rotate(-222)scale(1.07 -1.07)"/>
<use href="#s2" transform="translate(481.1 450.5)rotate(-148)scale(1.08 -1.08)"/>
<use href="#s2" transform="translate(509.9 447.8)rotate(-147)scale(.96 -.96)"/>
<use href="#s1" transform="translate(554.2 447.5)rotate(26)scale(.94)"/>
<use href="#c6" transform="translate(465.0 447.2)rotate(-164)scale(1.05 -1.05)"/>
<use href="#u1" transform="translate(533.0 446.3)rotate(-186)scale(.71 -.71)"/>
<use href="#v2" transform="translate(492.0 444.6)rotate(-182)scale(.79 -.79)"/>
<use href="#s2" transform="translate(569.9 444.2)rotate(-5)scale(.93)"/>
<use href="#v1" transform="translate(517.3 441.7)rotate(-111)scale(.91 -.91)"/>
<use href="#s5" transform="translate(474.2 441.4)rotate(-156)scale(.95 -.95)"/>
<use href="#fB0" transform="translate(460.7 468.2)rotate(292)scale(.61 .83)"/>
<use href="#fM0" transform="translate(537.3 461.7)rotate(-57)scale(.47 .76)"/>
<use href="#fB0" transform="translate(548.7 457.3)rotate(-32)scale(.51 .82)"/>
<use href="#fB0" transform="translate(485.7 462.6)rotate(232)scale(.53 .75)"/>
<use href="#fM0" transform="translate(606.4 454.0)rotate(-19)scale(.55 .73)"/>
<use href="#v5" transform="translate(586.8 440.6)rotate(-43)scale(.89)"/>
<use href="#c2" transform="translate(442.6 442.7)rotate(-181)scale(1.04 -1.04)"/>
<use href="#s4" transform="translate(542.8 438.0)rotate(43)scale(1.07)"/>
<use href="#s5" transform="translate(481.1 441.0)rotate(111)scale(1.25 -1.25)"/>
<use href="#v1" transform="translate(605.0 436.7)rotate(-20)scale(.82)"/>
<use href="#v5" transform="translate(500.0 436.5)rotate(-166)scale(.86 -.86)"/>
<use href="#s1" transform="translate(560.1 434.8)rotate(-43)scale(.99)"/>
<use href="#c6" transform="translate(449.7 437.0)rotate(166)scale(1.14 -1.14)"/>
<use href="#c2" transform="translate(623.5 432.7)rotate(-19)scale(.94)"/>
<use href="#s6" transform="translate(576.6 431.6)rotate(-4)scale(.94)"/>
<use href="#s7" transform="translate(482.0 431.1)rotate(-185)scale(1.11 -1.11)"/>
<use href="#s1" transform="translate(592.7 428.6)rotate(-29)scale(.85)"/>
<use href="#fB0" transform="translate(568.7 452.0)rotate(-62)scale(.52 .76)"/>
<use href="#fB0" transform="translate(522.6 448.2)rotate(-31)scale(.69 .89)"/>
<use href="#fB0" transform="translate(494.2 451.9)rotate(221)scale(.7 .83)"/>
<use href="#fB0" transform="translate(542.2 456.2)rotate(239)scale(.67 .73)"/>
<use href="#fM0" transform="translate(550.2 451.5)rotate(221)scale(.67 .78)"/>
<use href="#v6" transform="translate(609.5 425.4)rotate(-38)scale(.79)"/>
<use href="#u4" transform="translate(460.0 424.6)rotate(-155)scale(.7 -.7)"/>
<use href="#c6" transform="translate(644.8 428.1)rotate(-13)scale(.87)"/>
<use href="#s2" transform="translate(528.6 424.1)rotate(-199)scale(.82 -.82)"/>
<use href="#v4" transform="translate(545.7 423.2)rotate(-13)scale(.86)"/>
<use href="#c0" transform="translate(628.5 421.8)rotate(-11)scale(.91)"/>
<use href="#v2" transform="translate(512.5 420.2)rotate(-149)scale(.7 -.7)"/>
<use href="#v2" transform="translate(565.3 419.4)rotate(-75)scale(.89)"/>
<use href="#c3" transform="translate(629.8 423.0)rotate(57)scale(1.43)"/>
<use href="#s6" transform="translate(581.6 416.3)rotate(-23)scale(1.07)"/>
<use href="#fM1" transform="translate(614.3 442.6)rotate(-68)scale(.58 .83)"/>
<use href="#fB1" transform="translate(474.5 431.2)rotate(206)scale(.52 .83)"/>
<use href="#fB0" transform="translate(598.8 415.4)rotate(21)scale(.61 .79)"/>
<use href="#fB0" transform="translate(560.6 419.3)rotate(11)scale(.6 .73)"/>
<use href="#fM1" transform="translate(621.1 426.1)rotate(-10)scale(.47 .85)"/>
<use href="#s6" transform="translate(490.9 415.0)rotate(-147)scale(.81 -.81)"/>
<use href="#u3" transform="translate(441.2 419.0)rotate(-167)scale(.83 -.83)"/>
<use href="#c5" transform="translate(648.2 418.0)rotate(-24)scale(.88)"/>
<use href="#s6" transform="translate(525.4 413.9)rotate(-186)scale(1.02 -1.02)"/>
<use href="#s0" transform="translate(597.3 413.3)rotate(-23)scale(.86)"/>
<use href="#v4" transform="translate(474.9 411.1)rotate(-185)scale(.79 -.79)"/>
<use href="#v6" transform="translate(545.5 410.7)rotate(-17)scale(.91)"/>
<use href="#v5" transform="translate(613.4 410.2)rotate(-22)scale(.88)"/>
<use href="#c3" transform="translate(629.5 407.1)rotate(9)scale(.91)"/>
<use href="#v4" transform="translate(504.6 406.7)rotate(-159)scale(.76 -.76)"/>
<use href="#u5" transform="translate(455.2 406.4)rotate(-180)scale(.77 -.77)"/>
<use href="#s0" transform="translate(567.2 405.4)rotate(-63)scale(.84)"/>
<use href="#fM1" transform="translate(534.6 419.3)rotate(198)scale(.64 .77)"/>
<use href="#fM0" transform="translate(476.0 426.2)rotate(220)scale(.61 .85)"/>
<use href="#fB0" transform="translate(531.6 411.4)rotate(2)scale(.48 .79)"/>
<use href="#fB1" transform="translate(555.7 428.6)rotate(-42)scale(.69 .74)"/>
<use href="#v2" transform="translate(551.6 403.0)rotate(25)scale(.86)"/>
<use href="#s1" transform="translate(584.6 401.1)rotate(4)scale(.94)"/>
<use href="#v6" transform="translate(485.4 400.0)rotate(-176)scale(.89 -.89)"/>
<use href="#u0" transform="translate(650.5 403.1)rotate(-1)scale(.86)"/>
<use href="#u5" transform="translate(434.5 401.4)rotate(-170)scale(.8 -.8)"/>
<use href="#v2" transform="translate(566.6 396.9)rotate(-10)scale(.71)"/>
<use href="#u0" transform="translate(533.5 396.3)rotate(-196)scale(.72 -.72)"/>
<use href="#v7" transform="translate(604.0 396.3)rotate(-15)scale(.92)"/>
<use href="#u7" transform="translate(464.0 392.5)rotate(-171)scale(.76 -.76)"/>
<use href="#fB0" transform="translate(506.0 412.8)rotate(228)scale(.51 .88)"/>
<use href="#fM0" transform="translate(543.0 418.2)rotate(-54)scale(.65 .8)"/>
<use href="#fB0" transform="translate(576.6 418.5)rotate(-54)scale(.66 .78)"/>
<use href="#fB1" transform="translate(590.6 413.3)rotate(-58)scale(.46 .72)"/>
<use href="#fM0" transform="translate(547.2 405.7)rotate(198)scale(.57 .87)"/>
<use href="#u2" transform="translate(625.4 391.1)rotate(-19)scale(.82)"/>
<use href="#v1" transform="translate(513.8 389.3)rotate(-170)scale(.71 -.71)"/>
<use href="#v1" transform="translate(586.4 388.9)rotate(-49)scale(.87)"/>
<use href="#v6" transform="translate(496.3 383.2)rotate(-179)scale(.72 -.72)"/>
<use href="#u4" transform="translate(642.1 387.0)rotate(-10)scale(.91)"/>
<use href="#v2" transform="translate(602.2 382.5)rotate(-30)scale(.69)"/>
<use href="#u7" transform="translate(446.1 386.3)rotate(-159)scale(.73 -.73)"/>
<use href="#fB1" transform="translate(546.5 398.0)rotate(213)scale(.52 .73)"/>
<use href="#fB1" transform="translate(554.5 393.0)rotate(195)scale(.57 .88)"/>
<use href="#v1" transform="translate(544.5 377.7)rotate(-66)scale(.75)"/>
<use href="#u3" transform="translate(479.8 377.3)rotate(-158)scale(.71 -.71)"/>
<use href="#u1" transform="translate(620.5 375.2)rotate(-31)scale(.74)"/>
<use href="#v4" transform="translate(560.2 373.0)rotate(-13)scale(.87)"/>
<use href="#fM1" transform="translate(533.6 386.8)rotate(-44)scale(.47 .88)"/>
<use href="#fB0" transform="translate(522.7 379.9)rotate(-17)scale(.46 .79)"/>
<use href="#fB0" transform="translate(587.5 376.9)rotate(-4)scale(.69 .75)"/>
<use href="#fM1" transform="translate(482.2 384.0)rotate(208)scale(.54 .81)"/>
<use href="#v5" transform="translate(519.0 367.6)rotate(-183)scale(.72 -.72)"/>
<use href="#v2" transform="translate(579.5 367.2)rotate(-14)scale(.89)"/>
<use href="#u3" transform="translate(535.3 366.9)rotate(-165)scale(.74 -.74)"/>
<use href="#u4" transform="translate(460.0 370.3)rotate(-179)scale(.86 -.86)"/>
<use href="#u5" transform="translate(636.9 368.5)rotate(-7)scale(.83)"/>
<use href="#v0" transform="translate(596.0 362.2)rotate(1)scale(.68)"/>
<use href="#v1" transform="translate(498.7 361.4)rotate(-160)scale(.75 -.75)"/>
<use href="#u7" transform="translate(534.8 360.8)rotate(55)scale(.9)"/>
<use href="#v0" transform="translate(518.6 360.2)rotate(-157)scale(.77 -.77)"/>
<use href="#u7" transform="translate(614.4 356.7)rotate(-19)scale(.88)"/>
<use href="#v2" transform="translate(550.3 356.6)rotate(-16)scale(.82)"/>
<use href="#u4" transform="translate(479.9 355.8)rotate(-181)scale(.72 -.72)"/>
<use href="#fM0" transform="translate(537.3 355.7)rotate(20)scale(.53 .89)"/>
<use href="#v0" transform="translate(500.6 352.8)rotate(-160)scale(.83 -.83)"/>
<use href="#v0" transform="translate(571.6 351.0)rotate(-34)scale(.9)"/>
<use href="#u2" transform="translate(630.0 352.0)rotate(-16)scale(.81)"/>
<use href="#v3" transform="translate(588.9 346.3)rotate(-30)scale(.81)"/>
<use href="#u0" transform="translate(459.7 349.7)rotate(-174)scale(.74 -.74)"/>
<use href="#u2" transform="translate(482.1 345.3)rotate(-141)scale(.88 -.88)"/>
<use href="#v0" transform="translate(550.1 343.2)rotate(32)scale(.79)"/>
<use href="#fB1" transform="translate(533.5 363.2)rotate(-35)scale(.67 .7)"/>
<use href="#fB1" transform="translate(533.2 339.3)rotate(27)scale(.63 .9)"/>
<use href="#u5" transform="translate(610.8 340.5)rotate(-2)scale(.75)"/>
<use href="#u6" transform="translate(537.8 336.8)rotate(-170)scale(.86 -.86)"/>
<use href="#v4" transform="translate(569.7 336.3)rotate(15)scale(.81)"/>
<use href="#u6" transform="translate(464.6 338.2)rotate(-171)scale(.73 -.73)"/>
<use href="#u6" transform="translate(626.8 336.2)rotate(-13)scale(.74)"/>
<use href="#v4" transform="translate(519.9 332.2)rotate(-176)scale(.74 -.74)"/>
<use href="#fB1" transform="translate(586.1 335.6)rotate(8)scale(.46 .75)"/>
<use href="#u6" transform="translate(539.0 330.5)rotate(-69)scale(.72)"/>
<use href="#v7" transform="translate(589.2 329.4)rotate(-17)scale(.84)"/>
<use href="#v7" transform="translate(502.5 327.7)rotate(-154)scale(.85 -.85)"/>
<use href="#v3" transform="translate(558.4 325.1)rotate(-23)scale(.74)"/>
<use href="#u3" transform="translate(605.4 323.7)rotate(11)scale(.68)"/>
<use href="#u1" transform="translate(480.5 322.0)rotate(-161)scale(.76 -.76)"/>
<use href="#fB0" transform="translate(547.8 328.5)rotate(-4)scale(.48 .84)"/>
<use href="#fM1" transform="translate(523.7 320.5)rotate(22)scale(.52 .73)"/>
<use href="#fB1" transform="translate(553.6 322.6)rotate(169)scale(.67 .74)"/>
<use href="#v7" transform="translate(580.0 319.1)rotate(5)scale(.75)"/>
<use href="#v7" transform="translate(596.4 314.6)rotate(-15)scale(.76)"/>
<use href="#v7" transform="translate(521.4 314.0)rotate(-147)scale(.87 -.87)"/>
<use href="#u6" transform="translate(464.1 317.7)rotate(-169)scale(.83 -.83)"/>
<use href="#v0" transform="translate(547.5 313.4)rotate(-19)scale(.87)"/>
<use href="#u5" transform="translate(626.0 316.5)rotate(-16)scale(.92)"/>
<use href="#fB1" transform="translate(495.5 327.6)rotate(203)scale(.65 .88)"/>
<use href="#v7" transform="translate(504.6 309.8)rotate(-214)scale(.73 -.73)"/>
<use href="#u1" transform="translate(614.2 309.7)rotate(-32)scale(.7)"/>
<use href="#v3" transform="translate(562.6 307.5)rotate(-32)scale(.79)"/>
<use href="#u6" transform="translate(487.5 305.6)rotate(-151)scale(.85 -.85)"/>
<use href="#v0" transform="translate(532.0 305.3)rotate(-194)scale(.81 -.81)"/>
<use href="#u5" transform="translate(630.1 305.2)rotate(-32)scale(.74)"/>
<use href="#fM0" transform="translate(560.8 307.6)rotate(2)scale(.51 .81)"/>
<use href="#fB1" transform="translate(578.7 308.4)rotate(-1)scale(.56 .75)"/>
<use href="#v1" transform="translate(581.1 300.5)rotate(-34)scale(.9)"/>
<use href="#v0" transform="translate(511.1 297.9)rotate(-161)scale(.8 -.8)"/>
<use href="#u7" transform="translate(470.9 301.5)rotate(-175)scale(.81 -.81)"/>
<use href="#u3" transform="translate(599.8 293.3)rotate(-36)scale(.89)"/>
<use href="#u6" transform="translate(539.5 292.8)rotate(-60)scale(.68)"/>
<use href="#u7" transform="translate(492.6 291.3)rotate(-129)scale(.69 -.69)"/>
<use href="#fM0" transform="translate(547.8 302.1)rotate(196)scale(.65 .89)"/>
<use href="#fB1" transform="translate(524.1 302.5)rotate(-22)scale(.5 .83)"/>
<use href="#v3" transform="translate(556.4 288.2)rotate(-49)scale(.89)"/>
<use href="#v6" transform="translate(520.9 284.1)rotate(-175)scale(.92 -.92)"/>
<use href="#u0" transform="translate(615.1 287.4)rotate(-8)scale(.86)"/>
<use href="#v2" transform="translate(548.5 283.1)rotate(0)scale(.81)"/>
<use href="#v1" transform="translate(578.4 282.2)rotate(34)scale(.73)"/>
<use href="#u2" transform="translate(477.5 286.0)rotate(-161)scale(.89 -.89)"/>
<use href="#fB1" transform="translate(560.1 287.5)rotate(-5)scale(.64 .83)"/>
<use href="#fB0" transform="translate(516.7 290.8)rotate(-12)scale(.66 .81)"/>
<use href="#fM1" transform="translate(533.6 304.8)rotate(-52)scale(.67 .82)"/>
<use href="#u6" transform="translate(596.6 277.1)rotate(-13)scale(.81)"/>
<use href="#u7" transform="translate(500.0 275.9)rotate(-147)scale(.71 -.71)"/>
<use href="#v1" transform="translate(568.5 274.7)rotate(-11)scale(.77)"/>
<use href="#u4" transform="translate(613.8 272.4)rotate(-32)scale(.73)"/>
<use href="#fM1" transform="translate(549.8 284.6)rotate(206)scale(.64 .83)"/>
<use href="#fB1" transform="translate(560.4 282.9)rotate(-22)scale(.61 .79)"/>
<use href="#v2" transform="translate(522.0 266.4)rotate(-150)scale(.84 -.84)"/>
<use href="#u3" transform="translate(589.1 266.1)rotate(-24)scale(.84)"/>
<use href="#u6" transform="translate(483.3 269.3)rotate(-160)scale(.69 -.69)"/>
<use href="#u1" transform="translate(500.6 261.3)rotate(-165)scale(.89 -.89)"/>
<use href="#fM1" transform="translate(528.5 263.4)rotate(185)scale(.57 .84)"/>
<use href="#fB1" transform="translate(520.3 265.5)rotate(-9)scale(.64 .77)"/>
<use href="#v2" transform="translate(545.9 254.1)rotate(-7)scale(.82)"/>
<use href="#u0" transform="translate(608.9 257.8)rotate(-29)scale(.81)"/>
<use href="#u1" transform="translate(484.9 257.6)rotate(-156)scale(.77 -.77)"/>
<use href="#v2" transform="translate(524.0 251.3)rotate(-112)scale(.87 -.87)"/>
<use href="#v3" transform="translate(563.3 248.1)rotate(-34)scale(.72)"/>
<use href="#u2" transform="translate(507.6 245.4)rotate(-166)scale(.8 -.8)"/>
<use href="#fB1" transform="translate(562.3 273.9)rotate(-72)scale(.63 .77)"/>
<use href="#fB0" transform="translate(558.5 249.0)rotate(9)scale(.59 .81)"/>
<use href="#u1" transform="translate(583.1 241.2)rotate(-23)scale(.84)"/>
<use href="#fM0" transform="translate(514.1 235.9)rotate(18)scale(.68 .78)"/>
<use href="#fB1" transform="translate(523.8 238.9)rotate(13)scale(.55 .82)"/>
<use href="#v1" transform="translate(546.6 236.1)rotate(-4)scale(.84)"/>
<use href="#u6" transform="translate(492.4 240.0)rotate(-148)scale(.87 -.87)"/>
<use href="#u5" transform="translate(598.6 235.8)rotate(-16)scale(.85)"/>
<use href="#u0" transform="translate(537.0 230.7)rotate(-167)scale(.91 -.91)"/>
<use href="#u6" transform="translate(567.7 227.2)rotate(-20)scale(.83)"/>
<use href="#u7" transform="translate(515.6 223.9)rotate(-146)scale(.73 -.73)"/>
<use href="#fM0" transform="translate(524.2 237.3)rotate(-20)scale(.56 .74)"/>
<use href="#u6" transform="translate(540.4 222.8)rotate(48)scale(.84)"/>
<use href="#u6" transform="translate(533.9 220.3)rotate(-149)scale(.78 -.78)"/>
<use href="#u7" transform="translate(588.6 218.3)rotate(-20)scale(.71)"/>
<use href="#u2" transform="translate(517.6 214.0)rotate(-139)scale(.87 -.87)"/>
<use href="#u3" transform="translate(496.8 217.9)rotate(-156)scale(.83 -.83)"/>
<use href="#u7" transform="translate(561.4 213.7)rotate(-13)scale(.83)"/>
<use href="#fM0" transform="translate(539.8 237.2)rotate(-73)scale(.5 .75)"/>
<use href="#fB0" transform="translate(525.1 224.1)rotate(192)scale(.57 .89)"/>
<use href="#u2" transform="translate(547.1 205.8)rotate(-59)scale(.86)"/>
<use href="#u5" transform="translate(500.1 207.4)rotate(-166)scale(.84 -.84)"/>
<use href="#u0" transform="translate(579.5 205.8)rotate(-30)scale(.75)"/>
<use href="#fB0" transform="translate(540.1 217.0)rotate(203)scale(.67 .72)"/>
<use href="#fB0" transform="translate(537.3 214.4)rotate(203)scale(.47 .87)"/>
<use href="#u1" transform="translate(526.2 198.1)rotate(-84)scale(.7)"/>
<use href="#u4" transform="translate(565.4 197.7)rotate(-22)scale(.84)"/>
<use href="#fB1" transform="translate(527.0 206.4)rotate(-27)scale(.64 .86)"/>
<use href="#fB1" transform="translate(548.4 187.9)rotate(151)scale(.46 .81)"/>
<use href="#u0" transform="translate(508.2 192.5)rotate(-162)scale(.74 -.74)"/>
<use href="#u0" transform="translate(580.9 190.9)rotate(-20)scale(.85)"/>
<path d="M562.1 285.3l-18.9 7.9" stroke="#dfeae2" stroke-width="1.6" stroke-dasharray="2.1 1.9 1.8 1.6" opacity=".75"/>
<path d="M502.0 284.8l14.0 5.5" stroke="#dfeae2" stroke-width="2.0" stroke-dasharray="2.6 1.8 0.8 2.6" opacity=".75"/>
<path d="M569.8 292.4l-12.5 3.4" stroke="#dfeae2" stroke-width="1.2" stroke-dasharray="1.7 2.1 0.6 2.1" opacity=".75"/>
<path d="M508.8 337.7l18.6 4.8" stroke="#dfeae2" stroke-width="1.8" stroke-dasharray="2.9 2.1 0.9 2.4" opacity=".75"/>
<path d="M491.8 357.8l13.4 5.4" stroke="#dfeae2" stroke-width="1.2" stroke-dasharray="2.6 2.3 1.4 2.6" opacity=".75"/>
<path d="M514.1 394.8l13.4 4.8" stroke="#dfeae2" stroke-width="2.1" stroke-dasharray="2.6 1.2 1.6 2.7" opacity=".75"/>
<path d="M513.2 417.9l16.6 5.8" stroke="#dfeae2" stroke-width="1.8" stroke-dasharray="1.2 1.2 0.9 2.9" opacity=".75"/>
<path d="M474.4 417.1l10.5 2.5" stroke="#dfeae2" stroke-width="1.6" stroke-dasharray="1.5 1.4 1.6 1.8" opacity=".75"/>
<path d="M577.7 424.8l-14.5 2.8" stroke="#dfeae2" stroke-width="1.4" stroke-dasharray="1.5 1.4 2.0 2.9" opacity=".75"/>
<path d="M595.5 447.3l-14.3 3.0" stroke="#dfeae2" stroke-width="1.8" stroke-dasharray="1.3 1.3 1.0 2.7" opacity=".75"/>
<path d="M596.9 458.4l-21.6 4.9" stroke="#dfeae2" stroke-width="2.0" stroke-dasharray="1.6 1.5 1.6 2.0" opacity=".75"/>
<use href="#fM1" transform="translate(432.4 800.6)rotate(87)scale(1.24 1.4)"/>
<use href="#fM0" transform="translate(455.2 807.9)rotate(112)scale(1.35 1.5)"/>
<use href="#fL1" transform="translate(450.5 811.8)rotate(109)scale(1.15 1)"/>
<use href="#fM0" transform="translate(514.8 832.2)rotate(121)scale(1.24 1.4)"/>
<use href="#fM1" transform="translate(517.8 835.8)rotate(122)scale(1.35 1.5)"/>
<use href="#fL0" transform="translate(518.4 843.1)rotate(130)scale(1.15 1)"/>
<use href="#fM1" transform="translate(547.3 811.7)rotate(87)scale(1.21 1.4)"/>
<use href="#fM1" transform="translate(545.7 813.4)rotate(92)scale(1.35 1.5)"/>
<use href="#fL0" transform="translate(544.0 818.6)rotate(90)scale(1.15 1)"/>
<use href="#fM0" transform="translate(584.0 800.0)rotate(88)scale(1.29 1.4)"/>
<use href="#fM0" transform="translate(579.2 806.9)rotate(82)scale(1.35 1.5)"/>
<use href="#fL1" transform="translate(585.2 811.6)rotate(89)scale(1.15 1)"/>
<use href="#fM0" transform="translate(608.0 820.1)rotate(87)scale(1.26 1.4)"/>
<use href="#fM1" transform="translate(608.6 823.5)rotate(86)scale(1.35 1.5)"/>
<use href="#fL0" transform="translate(613.3 828.6)rotate(92)scale(1.15 1)"/>
<use href="#fM1" transform="translate(616.2 819.0)rotate(40)scale(1.2 1.4)"/>
<use href="#fM0" transform="translate(622.1 817.2)rotate(55)scale(1.35 1.5)"/>
<use href="#fL0" transform="translate(624.8 822.2)rotate(52)scale(1.15 1)"/>
<use href="#fM1" transform="translate(538.0 191.0)rotate(-90)scale(1.43 1)"/><use href="#fL0" transform="translate(538.5 191.0)rotate(-90)scale(1.38 .8)"/><use href="#fB1" transform="translate(537.5 189.0)rotate(-90)scale(1.23 .55)"/>
</g>
<use href="#t1" transform="translate(657 168.22) scale(1 0.8110)"/>
<g fill="#8c8c8c"><ellipse cx="1160.5" cy="302" rx="48.5" ry="54"/><path d="M1091 359 H1239 Q1253 359 1255 373 L1277 560 Q1279 586 1254 586 Q1232 586 1229 562 L1215.5 445 V856 Q1215.5 891 1192 891 Q1170 891 1168 856 L1167 640 Q1167 635 1164.5 635 Q1162 635 1162 640 L1161 856 Q1159 891 1137 891 Q1114 891 1114 856 V445 L1100 562 Q1097 586 1075 586 Q1049 586 1051 560 L1074 373 Q1076 359 1091 359 Z"/></g>
<text x="1313.2" y="46.4" font-size="30.5" class="d" textLength="129.6" lengthAdjust="spacingAndGlyphs">240 cm.</text>
<text x="1313.2" y="123.9" font-size="30.5" class="d" textLength="129.6" lengthAdjust="spacingAndGlyphs">210 cm.</text>
<text x="1316.3" y="208.1" font-size="30.5" class="d" textLength="126.6" lengthAdjust="spacingAndGlyphs">180 cm.</text>
<text x="1349.5" y="879.2" font-size="30.5" class="d" textLength="93.1" lengthAdjust="spacingAndGlyphs">0 cm.</text>
<text x="109.1" y="975.9" font-size="32" class="d" textLength="159.6" lengthAdjust="spacingAndGlyphs">05480032</text>
<text x="463.8" y="975.9" font-size="32" class="d" textLength="153.6" lengthAdjust="spacingAndGlyphs">05480031</text>
<text x="811.8" y="975.9" font-size="32" class="d" textLength="160.6" lengthAdjust="spacingAndGlyphs">05480030</text>
<rect x="0" y="1206" width="1445" height="81.2" fill="#c9e5e3"/>
<rect x="0" y="1206" width="1445" height="2.6" fill="#def5f1"/>
<rect x="0" y="1104.8" width="1445" height="101.5" fill="#039a61"/>
<rect x="0" y="1104.6" width="1445" height="1.4" fill="#0b7c4d"/>
<rect x="0" y="1205" width="1445" height="1.3" fill="#0b8151"/>
<rect x="0" y="1366.9" width="1445" height="79" fill="#c9e5e3"/>
<text x="42.0" y="1160.2" font-size="32.8" class="w" textLength="132.6" lengthAdjust="spacingAndGlyphs">Codigo</text>
<text x="78.0" y="1190.7" font-size="20" class="w i" textLength="57.5" lengthAdjust="spacingAndGlyphs">Code</text>
<text x="254.3" y="1160.2" font-size="32.8" class="w" textLength="104.6" lengthAdjust="spacingAndGlyphs">Altura</text>
<text x="272.4" y="1190.7" font-size="20" class="w i" textLength="66.0" lengthAdjust="spacingAndGlyphs">Height</text>
<text x="439.3" y="1138.3" font-size="32.8" class="w" textLength="161.1" lengthAdjust="spacingAndGlyphs">Diametro</text>
<text x="428.7" y="1166.5" font-size="32.8" class="w" textLength="183.1" lengthAdjust="spacingAndGlyphs">Base Arbol</text>
<text x="420.6" y="1190.7" font-size="20" class="w i" textLength="199.0" lengthAdjust="spacingAndGlyphs">Tree base diameter</text>
<text x="671.8" y="1160.2" font-size="32.8" class="w" textLength="166.6" lengthAdjust="spacingAndGlyphs">Nº Ramas</text>
<text x="649.2" y="1190.7" font-size="20" class="w i" textLength="211.0" lengthAdjust="spacingAndGlyphs">Number of branches</text>
<text x="905.2" y="1160.2" font-size="32.8" class="w" textLength="144.1" lengthAdjust="spacingAndGlyphs">Material</text>
<text x="934.0" y="1190.7" font-size="20" class="w i" textLength="83.6" lengthAdjust="spacingAndGlyphs">Material</text>
<text x="1124.8" y="1160.2" font-size="32.8" class="w" textLength="96.1" lengthAdjust="spacingAndGlyphs">Color</text>
<text x="1138.0" y="1190.7" font-size="20" class="w i" textLength="67.6" lengthAdjust="spacingAndGlyphs">Colour</text>
<text x="1284.4" y="1160.2" font-size="32.8" class="w" textLength="136.6" lengthAdjust="spacingAndGlyphs">Soporte</text>
<text x="1312.0" y="1190.7" font-size="20" class="w i" textLength="80.0" lengthAdjust="spacingAndGlyphs">Support</text>
<text x="31.7" y="1258.2" font-size="31" class="d" textLength="152.6" lengthAdjust="spacingAndGlyphs">05480030</text>
<text x="245.4" y="1258.2" font-size="31" class="d" textLength="119.6" lengthAdjust="spacingAndGlyphs">180 cm.</text>
<text x="466.2" y="1258.2" font-size="31" class="d" textLength="105.6" lengthAdjust="spacingAndGlyphs">74 cm.</text>
<text x="723.6" y="1257.2" font-size="31" class="d" textLength="56.1" lengthAdjust="spacingAndGlyphs">653</text>
<text x="941.2" y="1256.4" font-size="31" class="d" textLength="69.0" lengthAdjust="spacingAndGlyphs">PVC</text>
<text x="1124.7" y="1256.4" font-size="31" class="d" textLength="96.4" lengthAdjust="spacingAndGlyphs">Verde</text>
<text x="1307.7" y="1256.4" font-size="31" class="d" textLength="91.8" lengthAdjust="spacingAndGlyphs">Metal</text>
<text x="31.7" y="1338.9" font-size="31" class="d" textLength="147.6" lengthAdjust="spacingAndGlyphs">05480031</text>
<text x="241.9" y="1338.9" font-size="31" class="d" textLength="123.2" lengthAdjust="spacingAndGlyphs">210 cm.</text>
<text x="466.2" y="1338.9" font-size="31" class="d" textLength="104.2" lengthAdjust="spacingAndGlyphs">79 cm.</text>
<text x="722.5" y="1337.9" font-size="31" class="d" textLength="57.2" lengthAdjust="spacingAndGlyphs">972</text>
<text x="941.2" y="1337.9" font-size="31" class="d" textLength="69.0" lengthAdjust="spacingAndGlyphs">PVC</text>
<text x="1124.7" y="1338.8" font-size="31" class="d" textLength="96.4" lengthAdjust="spacingAndGlyphs">Verde</text>
<text x="1307.7" y="1334.4" font-size="31" class="d" textLength="91.8" lengthAdjust="spacingAndGlyphs">Metal</text>
<text x="35.2" y="1419.6" font-size="31" class="d" textLength="151.6" lengthAdjust="spacingAndGlyphs">05480032</text>
<text x="241.9" y="1419.6" font-size="31" class="d" textLength="123.2" lengthAdjust="spacingAndGlyphs">240 cm.</text>
<text x="464.7" y="1419.6" font-size="31" class="d" textLength="105.6" lengthAdjust="spacingAndGlyphs">84 cm.</text>
<text x="717.4" y="1418.6" font-size="31" class="d" textLength="66.6" lengthAdjust="spacingAndGlyphs">1217</text>
<text x="941.2" y="1417.9" font-size="31" class="d" textLength="69.0" lengthAdjust="spacingAndGlyphs">PVC</text>
<text x="1124.7" y="1418.6" font-size="31" class="d" textLength="96.4" lengthAdjust="spacingAndGlyphs">Verde</text>
<text x="1307.7" y="1412.4" font-size="31" class="d" textLength="91.8" lengthAdjust="spacingAndGlyphs">Metal</text>
</svg></body></html>
